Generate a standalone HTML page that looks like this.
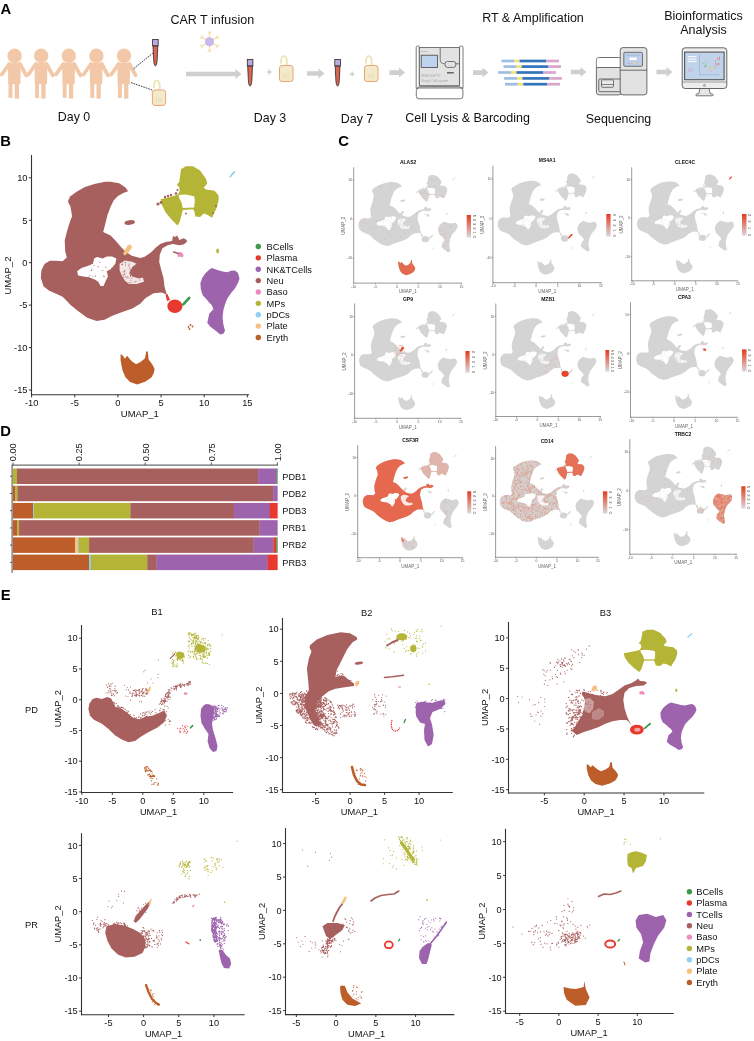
<!DOCTYPE html>
<html><head><meta charset="utf-8"><style>
html,body{margin:0;padding:0;background:#fff;}
body{width:754px;height:1041px;overflow:hidden;}
svg{display:block;font-family:"Liberation Sans", sans-serif;will-change:transform;}
</style></head><body>
<svg width="754" height="1041" viewBox="0 0 754 1041">
<rect width="754" height="1041" fill="#fff"/>
<text x="0.6" y="14" font-size="14.8" text-anchor="start" font-weight="bold" fill="#000" >A</text>
<circle cx="14.6" cy="55.8" r="7.2" fill="#F2C8A8"/>
<path d="M8 62.8 H20.8 L20.4 84.3 H8.2 Z" fill="#F2C8A8"/>
<rect x="8.5" y="83" width="3.9" height="14.9" fill="#F2C8A8"/>
<rect x="14.7" y="83" width="4.3" height="15.6" fill="#F2C8A8"/>
<path d="M9.2 64 L1.8 74.5" stroke="#F2C8A8" stroke-width="3.8" stroke-linecap="round"/>
<path d="M20 64 L26.2 75.3" stroke="#F2C8A8" stroke-width="3.8" stroke-linecap="round"/>
<circle cx="41.2" cy="55.8" r="7.2" fill="#F2C8A8"/>
<path d="M34.6 62.8 H47.4 L47 84.3 H34.8 Z" fill="#F2C8A8"/>
<rect x="35.1" y="83" width="3.9" height="14.9" fill="#F2C8A8"/>
<rect x="41.3" y="83" width="4.3" height="15.6" fill="#F2C8A8"/>
<path d="M35.8 64 L28.4 74.5" stroke="#F2C8A8" stroke-width="3.8" stroke-linecap="round"/>
<path d="M46.6 64 L52.8 75.3" stroke="#F2C8A8" stroke-width="3.8" stroke-linecap="round"/>
<circle cx="68.8" cy="55.8" r="7.2" fill="#F2C8A8"/>
<path d="M62.2 62.8 H75 L74.6 84.3 H62.4 Z" fill="#F2C8A8"/>
<rect x="62.7" y="83" width="3.9" height="14.9" fill="#F2C8A8"/>
<rect x="68.9" y="83" width="4.3" height="15.6" fill="#F2C8A8"/>
<path d="M63.4 64 L56 74.5" stroke="#F2C8A8" stroke-width="3.8" stroke-linecap="round"/>
<path d="M74.2 64 L80.4 75.3" stroke="#F2C8A8" stroke-width="3.8" stroke-linecap="round"/>
<circle cx="96.4" cy="55.8" r="7.2" fill="#F2C8A8"/>
<path d="M89.8 62.8 H102.6 L102.2 84.3 H90 Z" fill="#F2C8A8"/>
<rect x="90.3" y="83" width="3.9" height="14.9" fill="#F2C8A8"/>
<rect x="96.5" y="83" width="4.3" height="15.6" fill="#F2C8A8"/>
<path d="M91 64 L83.6 74.5" stroke="#F2C8A8" stroke-width="3.8" stroke-linecap="round"/>
<path d="M101.8 64 L108 75.3" stroke="#F2C8A8" stroke-width="3.8" stroke-linecap="round"/>
<circle cx="124" cy="55.8" r="7.2" fill="#F2C8A8"/>
<path d="M117.4 62.8 H130.2 L129.8 84.3 H117.6 Z" fill="#F2C8A8"/>
<rect x="117.9" y="83" width="3.9" height="14.9" fill="#F2C8A8"/>
<rect x="124.1" y="83" width="4.3" height="15.6" fill="#F2C8A8"/>
<path d="M118.6 64 L111.2 74.5" stroke="#F2C8A8" stroke-width="3.8" stroke-linecap="round"/>
<path d="M129.4 64 L135.6 75.3" stroke="#F2C8A8" stroke-width="3.8" stroke-linecap="round"/>
<line x1="133.5" y1="68.8" x2="152.8" y2="53.2" stroke="#222" stroke-width="0.85" stroke-dasharray="1.7 0.9"/>
<line x1="131" y1="82.6" x2="152.2" y2="90" stroke="#222" stroke-width="0.85" stroke-dasharray="1.7 0.9"/>
<rect x="152.6" y="39.4" width="5.6" height="6.5" fill="#BCA8E0" stroke="#2a2a2a" stroke-width="0.8"/>
<path d="M153 46 L157.8 46 L157.2 59.4 Q156.8 65.9 155.4 65.9 Q154 65.9 153.6 59.4 Z" fill="#DA6552" stroke="#222" stroke-width="0.75"/>
<path d="M153.9 88 C152.9 78 160.9 78 159.6 89 C159.4 91 159.4 91 158.9 91" fill="none" stroke="#EEE6B5" stroke-width="2"/>
<rect x="152.4" y="90" width="13.2" height="15.4" rx="2.6" fill="#F2EBCB" stroke="#EDA274" stroke-width="1"/>
<line x1="156" y1="97.4" x2="156.7" y2="102.4" stroke="#E8D3A8" stroke-width="0.7"/>
<line x1="158.3" y1="97.4" x2="159" y2="102.4" stroke="#E8D3A8" stroke-width="0.7"/>
<line x1="160.6" y1="97.4" x2="161.3" y2="102.4" stroke="#E8D3A8" stroke-width="0.7"/>
<text x="74" y="121" font-size="12.4" text-anchor="middle" font-weight="normal" fill="#111" >Day 0</text>
<text x="212.3" y="24.3" font-size="12.5" text-anchor="middle" font-weight="normal" fill="#111" >CAR T infusion</text>
<path d="M209.5 37.5 L209.5 33.9 M209.5 33.9 L208.12 31.7 M209.5 33.9 L210.88 31.7" stroke="#F5DC9C" stroke-width="1.1" fill="none" stroke-linecap="round"/>
<path d="M213.14 39.6 L216.25 37.8 M216.25 37.8 L217.48 35.5 M216.25 37.8 L218.85 37.89" stroke="#F5DC9C" stroke-width="1.1" fill="none" stroke-linecap="round"/>
<path d="M213.14 43.8 L216.25 45.6 M216.25 45.6 L218.85 45.51 M216.25 45.6 L217.48 47.9" stroke="#F5DC9C" stroke-width="1.1" fill="none" stroke-linecap="round"/>
<path d="M209.5 45.9 L209.5 49.5 M209.5 49.5 L210.88 51.7 M209.5 49.5 L208.12 51.7" stroke="#F5DC9C" stroke-width="1.1" fill="none" stroke-linecap="round"/>
<path d="M205.86 43.8 L202.75 45.6 M202.75 45.6 L201.52 47.9 M202.75 45.6 L200.15 45.51" stroke="#F5DC9C" stroke-width="1.1" fill="none" stroke-linecap="round"/>
<path d="M205.86 39.6 L202.75 37.8 M202.75 37.8 L200.15 37.89 M202.75 37.8 L201.52 35.5" stroke="#F5DC9C" stroke-width="1.1" fill="none" stroke-linecap="round"/>
<circle cx="209.5" cy="41.7" r="4.5" fill="#C6B8EA"/>
<path d="M186 71.7 L235.5 71.7 L235.5 69 L241.5 74 L235.5 79 L235.5 76.3 L186 76.3 Z" fill="#CFCFCF"/>
<rect x="247.3" y="59.5" width="5.6" height="6.5" fill="#BCA8E0" stroke="#2a2a2a" stroke-width="0.8"/>
<path d="M247.7 66.1 L252.5 66.1 L251.9 79.5 Q251.5 86 250.1 86 Q248.7 86 248.3 79.5 Z" fill="#DA6552" stroke="#222" stroke-width="0.75"/>
<path d="M266.8 72 h5 M269.3 69.5 v5" stroke="#CFCFCF" stroke-width="1.4"/>
<path d="M281 63.5 C280 53.5 288 53.5 286.7 64.5 C286.5 66.5 286.5 66.5 286 66.5" fill="none" stroke="#EEE6B5" stroke-width="2"/>
<rect x="279.5" y="65.5" width="13.5" height="16" rx="2.6" fill="#F2EBCB" stroke="#EDA274" stroke-width="1"/>
<line x1="283.1" y1="73.5" x2="283.8" y2="78.5" stroke="#E8D3A8" stroke-width="0.7"/>
<line x1="285.4" y1="73.5" x2="286.1" y2="78.5" stroke="#E8D3A8" stroke-width="0.7"/>
<line x1="287.7" y1="73.5" x2="288.4" y2="78.5" stroke="#E8D3A8" stroke-width="0.7"/>
<path d="M307 71.2 L318.5 71.2 L318.5 68.5 L324.5 73.5 L318.5 78.5 L318.5 75.8 L307 75.8 Z" fill="#CFCFCF"/>
<rect x="334.8" y="59.5" width="5.6" height="6.5" fill="#BCA8E0" stroke="#2a2a2a" stroke-width="0.8"/>
<path d="M335.2 66.1 L340 66.1 L339.4 79.5 Q339 86 337.6 86 Q336.2 86 335.8 79.5 Z" fill="#DA6552" stroke="#222" stroke-width="0.75"/>
<path d="M349.7 74 h5 M352.2 71.5 v5" stroke="#CFCFCF" stroke-width="1.4"/>
<path d="M366 63.5 C365 53.5 373 53.5 371.7 64.5 C371.5 66.5 371.5 66.5 371 66.5" fill="none" stroke="#EEE6B5" stroke-width="2"/>
<rect x="364.5" y="65.5" width="13.5" height="16" rx="2.6" fill="#F2EBCB" stroke="#EDA274" stroke-width="1"/>
<line x1="368.1" y1="73.5" x2="368.8" y2="78.5" stroke="#E8D3A8" stroke-width="0.7"/>
<line x1="370.4" y1="73.5" x2="371.1" y2="78.5" stroke="#E8D3A8" stroke-width="0.7"/>
<line x1="372.7" y1="73.5" x2="373.4" y2="78.5" stroke="#E8D3A8" stroke-width="0.7"/>
<path d="M389.5 70.3 L399 70.3 L399 67.6 L405 72.6 L399 77.6 L399 74.9 L389.5 74.9 Z" fill="#CFCFCF"/>
<text x="270" y="122" font-size="12.4" text-anchor="middle" font-weight="normal" fill="#111" >Day 3</text>
<text x="357" y="122.5" font-size="12.4" text-anchor="middle" font-weight="normal" fill="#111" >Day 7</text>
<path d="M416.2 88.5 V47.5 Q416.2 46 417.7 46 H418.6 Q419.3 46 419.3 47.5 V84 Q419.3 85.8 421 85.8 H458 Q459.6 85.8 459.6 84 V47.5 Q459.6 46 460.6 46 H461.6 Q463 46 463 47.5 V88.5" fill="#fff" stroke="#555" stroke-width="0.8"/>
<rect x="416.3" y="88" width="46.6" height="10.8" rx="2.6" fill="#fff" stroke="#555" stroke-width="0.8"/>
<path d="M416.3 88.5 Q418 86.8 421 86.8 H458 Q461.5 86.8 463 88.5" fill="none" stroke="#555" stroke-width="0.8"/>
<rect x="419.3" y="47.6" width="40.3" height="38.2" fill="#E2E2E2" stroke="#555" stroke-width="0.8"/>
<rect x="421.2" y="55.2" width="16.2" height="12.2" fill="#BDD3EE" stroke="#444" stroke-width="0.8"/>
<path d="M440.2 47.6 V59.5 Q440.2 63.8 444.6 63.8 M455.8 63.8 H459.6" fill="none" stroke="#555" stroke-width="0.8"/>
<rect x="445" y="61.5" width="10.8" height="5.9" rx="2.4" fill="#E2E2E2" stroke="#555" stroke-width="0.8"/>
<line x1="447" y1="72.8" x2="453.8" y2="72.8" stroke="#444" stroke-width="1.2"/>
<text x="421.2" y="52.2" font-size="2.2" text-anchor="start" font-weight="normal" fill="#777" >Frelico</text>
<text x="421.2" y="77" font-size="3.2" text-anchor="start" font-weight="normal" fill="#aaa" >SEEKSOFT&#174;</text>
<text x="421.2" y="82" font-size="3.3" text-anchor="start" font-weight="normal" fill="#aaa" >Single Cell system</text>
<path d="M473 70.3 L482.5 70.3 L482.5 67.6 L488.5 72.6 L482.5 77.6 L482.5 74.9 L473 74.9 Z" fill="#CFCFCF"/>
<rect x="501.5" y="59.65" width="12.6" height="2.7" fill="#9DBDE2"/>
<rect x="514" y="59.65" width="5.7" height="2.7" fill="#F3E27A"/>
<rect x="519.6" y="59.65" width="26.6" height="2.7" fill="#3474BA"/>
<rect x="546.1" y="59.65" width="12.9" height="2.7" fill="#D9A6CB"/>
<rect x="503.5" y="65.25" width="12.8" height="2.7" fill="#9DBDE2"/>
<rect x="516.2" y="65.25" width="5.6" height="2.7" fill="#F3E27A"/>
<rect x="521.7" y="65.25" width="26.5" height="2.7" fill="#3474BA"/>
<rect x="548.1" y="65.25" width="12.9" height="2.7" fill="#D9A6CB"/>
<rect x="498.2" y="71.15" width="12.9" height="2.7" fill="#9DBDE2"/>
<rect x="511" y="71.15" width="5.6" height="2.7" fill="#F3E27A"/>
<rect x="516.5" y="71.15" width="26.6" height="2.7" fill="#3474BA"/>
<rect x="543" y="71.15" width="12.9" height="2.7" fill="#D9A6CB"/>
<rect x="504.1" y="77.05" width="13" height="2.7" fill="#9DBDE2"/>
<rect x="517" y="77.05" width="5.5" height="2.7" fill="#F3E27A"/>
<rect x="522.4" y="77.05" width="26.6" height="2.7" fill="#3474BA"/>
<rect x="548.9" y="77.05" width="12.9" height="2.7" fill="#D9A6CB"/>
<rect x="505" y="82.85" width="12.8" height="2.7" fill="#9DBDE2"/>
<rect x="517.7" y="82.85" width="5.7" height="2.7" fill="#F3E27A"/>
<rect x="523.3" y="82.85" width="24" height="2.7" fill="#3474BA"/>
<rect x="547.2" y="82.85" width="12.9" height="2.7" fill="#D9A6CB"/>
<text x="533" y="22" font-size="12.5" text-anchor="middle" font-weight="normal" fill="#111" >RT &amp; Amplification</text>
<text x="467.6" y="121.7" font-size="12.5" text-anchor="middle" font-weight="normal" fill="#111" >Cell Lysis &amp; Barcoding</text>
<path d="M570.8 69.7 L580.5 69.7 L580.5 67 L586.5 72 L580.5 77 L580.5 74.3 L570.8 74.3 Z" fill="#CFCFCF"/>
<rect x="596.4" y="57.5" width="25" height="37.4" rx="2.8" fill="#E2E2E2" stroke="#555" stroke-width="0.85"/>
<path d="M596.8 67.5 V60.3 Q596.8 57.9 599.2 57.9 H621 V67.5 Z" fill="#fff"/>
<line x1="596.4" y1="67.5" x2="621" y2="67.5" stroke="#555" stroke-width="0.85"/>
<rect x="598.8" y="79" width="22.6" height="12.7" rx="1.2" fill="#E2E2E2" stroke="#555" stroke-width="0.85"/>
<rect x="601.5" y="79.8" width="12" height="7.5" rx="1" fill="#E8E8E8" stroke="#555" stroke-width="0.8"/>
<line x1="601.5" y1="84.5" x2="613.5" y2="84.5" stroke="#555" stroke-width="0.7"/>
<rect x="620.2" y="47.6" width="26.7" height="47.3" rx="2.8" fill="#E2E2E2" stroke="#555" stroke-width="0.85"/>
<line x1="620.2" y1="70.2" x2="646.9" y2="70.2" stroke="#555" stroke-width="0.85"/>
<rect x="623.8" y="52.3" width="18.7" height="14" rx="1.2" fill="#BCCFE8" stroke="#555" stroke-width="0.8"/>
<rect x="629.5" y="57.5" width="7.2" height="2.6" fill="#fff"/>
<line x1="626.5" y1="55.2" x2="640" y2="55.2" stroke="#8FA2C0" stroke-width="0.5"/>
<circle cx="628.8" cy="63.2" r="0.75" fill="#C8A0C8"/>
<circle cx="631.7" cy="63.2" r="0.75" fill="#E0A0B8"/>
<circle cx="634.6" cy="63.2" r="0.75" fill="#F2E08A"/>
<circle cx="637.5" cy="63.2" r="0.75" fill="#F2B870"/>
<text x="618.5" y="123" font-size="12.4" text-anchor="middle" font-weight="normal" fill="#111" >Sequencing</text>
<path d="M656.5 69.7 L666.5 69.7 L666.5 67 L672.5 72 L666.5 77 L666.5 74.3 L656.5 74.3 Z" fill="#CFCFCF"/>
<path d="M700 88.3 L698.8 93.6 L696.6 94 Q695.6 94.3 695.8 95.2 Q696 95.8 697 95.8 H712 Q713 95.8 713.2 95.2 Q713.3 94.3 712.4 94 L710.2 93.6 L709 88.3 Z" fill="#E6E6E6" stroke="#555" stroke-width="0.8"/>
<rect x="682.2" y="47.8" width="44.6" height="40.7" rx="3" fill="#EDEDED" stroke="#555" stroke-width="0.9"/>
<line x1="682.2" y1="82" x2="726.8" y2="82" stroke="#666" stroke-width="0.6"/>
<rect x="684.6" y="52.1" width="39.5" height="27.6" fill="#BFD3EA" stroke="#555" stroke-width="1.1"/>
<circle cx="704.5" cy="85.4" r="0.95" fill="none" stroke="#555" stroke-width="0.6"/>
<rect x="687.9" y="56.2" width="8.5" height="1" fill="#FFF"/>
<rect x="687.9" y="58.6" width="8.5" height="1" fill="#FFF"/>
<rect x="687.9" y="61" width="8.5" height="1" fill="#FFF"/>
<rect x="687.9" y="68.6" width="4.6" height="0.8" fill="#D2A8C8"/>
<rect x="687.9" y="70.7" width="4.6" height="0.8" fill="#D2A8C8"/>
<path d="M699.5 54.7 V74.7 H719.1" fill="none" stroke="#9AAAC4" stroke-width="0.6"/>
<circle cx="705.33" cy="65.49" r="0.55" fill="#A8D060"/>
<circle cx="706.58" cy="65.48" r="0.55" fill="#A8D060"/>
<circle cx="703.01" cy="63.45" r="0.55" fill="#7CC47C"/>
<circle cx="705.43" cy="66.67" r="0.55" fill="#7CC47C"/>
<circle cx="704.35" cy="66.43" r="0.55" fill="#5BB8D8"/>
<circle cx="705.02" cy="64.25" r="0.55" fill="#7CC47C"/>
<circle cx="705.75" cy="63.02" r="0.55" fill="#7CC47C"/>
<circle cx="706.47" cy="65.67" r="0.55" fill="#7CC47C"/>
<circle cx="705.87" cy="60.53" r="0.55" fill="#A8D060"/>
<circle cx="717.4" cy="58.32" r="0.55" fill="#E25858"/>
<circle cx="719.35" cy="57.06" r="0.55" fill="#E25858"/>
<circle cx="719.28" cy="58.72" r="0.55" fill="#E25858"/>
<circle cx="715.59" cy="67" r="0.55" fill="#E88060"/>
<circle cx="718.82" cy="63.51" r="0.55" fill="#E25858"/>
<circle cx="719.18" cy="64.18" r="0.55" fill="#E8709A"/>
<circle cx="715.64" cy="60.76" r="0.55" fill="#E25858"/>
<circle cx="719.15" cy="59.74" r="0.55" fill="#E8709A"/>
<circle cx="715.66" cy="63.27" r="0.55" fill="#E25858"/>
<circle cx="717.28" cy="64.36" r="0.55" fill="#E25858"/>
<circle cx="715.7" cy="65.51" r="0.55" fill="#E8709A"/>
<circle cx="717.83" cy="58.92" r="0.55" fill="#E8709A"/>
<circle cx="713.37" cy="66.91" r="0.55" fill="#F2C060"/>
<circle cx="714.89" cy="68.53" r="0.55" fill="#F0A070"/>
<circle cx="709.11" cy="70.85" r="0.55" fill="#F0A070"/>
<circle cx="711.33" cy="71.14" r="0.55" fill="#F0A070"/>
<circle cx="709.29" cy="67.58" r="0.55" fill="#F2C060"/>
<circle cx="709.74" cy="67.93" r="0.55" fill="#F0A070"/>
<circle cx="711.14" cy="68.52" r="0.55" fill="#F5D050"/>
<circle cx="710.56" cy="69.1" r="0.55" fill="#F5D050"/>
<text x="703.5" y="19.8" font-size="12.5" text-anchor="middle" font-weight="normal" fill="#111" >Bioinformatics</text>
<text x="703.5" y="34.2" font-size="12.5" text-anchor="middle" font-weight="normal" fill="#111" >Analysis</text>
<text x="0.2" y="146.2" font-size="14.8" text-anchor="start" font-weight="bold" fill="#000" >B</text>
<path d="M70 196.6 L77.4 191.3 L84.9 187.1 L94.4 183.9 L105 181.8 L110.6 181.8 L119.1 183.3 L125.5 187.6 L128.1 191.3 L123.3 192.9 L118 196.1 L113.8 200.3 L110.6 206.7 L107.4 215.2 L105.3 223.7 L103.2 232.1 L110.6 235.6 L115.9 240.9 L121.2 247.3 L126 252 L131.8 255.8 L140.3 257.9 L144.6 256.8 L150.9 252.6 L156.2 247.3 L160.3 244.1 L165.6 242 L172 241 L173 236 L175 237 L177 235.5 L178.5 238 L179.4 239.9 L183.6 238.3 L186.8 239.9 L186.8 242 L183.6 244.6 L179.4 245.2 L173 244.1 L167.7 245.2 L162.4 248.3 L159.8 254.7 L159.2 262.1 L161.4 270.6 L163.5 278 L164.5 286.5 L166.7 294 L165.5 293.9 L161.5 292.5 L153.6 293.2 L145.6 297.9 L140.3 303.8 L132.3 308.5 L123 311.8 L112.4 315.8 L104.5 319.7 L96.5 321.1 L87.2 317.7 L78 311.1 L70 304.5 L67.9 302.1 L62.6 296.8 L56.2 293.7 L48.8 290.5 L43.5 286.2 L40.8 277.7 L41.4 270.3 L44.5 264 L49.9 260.8 L56.2 260.8 L62.6 261.3 L66.8 257.6 L65.2 251.2 L64.7 240.6 L66.8 232.1 L70 221.5 L72.1 216.2 L70.5 206.7 L67.9 201.4Z M77.1 271.2 L81.4 268 L87.7 265.9 L93 263.8 L94.1 258.5 L97.3 256.9 L102.6 258.5 L106.8 256.4 L112.1 256.4 L116.4 258.5 L115.3 263.8 L111.1 269.1 L106.8 271.2 L107.9 276.5 L105.8 280.8 L103.6 286.1 L100.5 286.1 L98.3 281.8 L95.2 279.7 L89.9 277.6 L83.5 276.5 L78.2 275.5Z" fill="#A8605E" fill-rule="evenodd"/>
<path d="M119.6 263.8 L124.9 260.6 L132.3 261.7 L136.5 263.8 L132.3 267 L129.1 273.3 L132.3 276.5 L138.7 278.6 L142.9 277.6 L144 281.8 L136.5 284 L129.1 284 L124.9 280.8 L121.7 275.5 L119.6 270.2Z" fill="#fff" fill-opacity="0.85"/>
<path d="M99.94 262.18h0M95.46 276.11h0M88.44 276.96h0M91.5 270.41h0M89.91 275.33h0M94.01 265.44h0M103.83 276.14h0M111.78 268.12h0M92.01 268.96h0M93 276.27h0M98.13 266.66h0M105.72 267.17h0M102.74 270.51h0M104.26 276.7h0" stroke="#A8605E" stroke-width="1.1" stroke-linecap="round"/>
<path d="M123.22 275.01h0M123.74 277.27h0M128.8 265.91h0M125.02 273.01h0M123.15 275.13h0M125.61 262.75h0M127.72 276.69h0M132.04 278.09h0M130.12 269.92h0M124.66 274.38h0M135.92 281.4h0M131.07 282.77h0M130.51 275.24h0M129.13 277.99h0M134.25 282.01h0M129.32 282.54h0M125.82 276.62h0M130.53 276.11h0M124.99 270.31h0M123.09 271.83h0M125.21 262.49h0M129.1 264.11h0M122.5 264.12h0M129.79 268.04h0M125.53 265h0M126.85 277.99h0M124.52 271.49h0M139.28 280.02h0M130.88 280.32h0M121.87 264.58h0" stroke="#A8605E" stroke-width="1.1" stroke-linecap="round"/>
<ellipse cx="129.7" cy="222.5" rx="5.3" ry="2.3" fill="#A8605E" transform="rotate(-8 129.7 222.5)"/>
<path d="M181 169.3 L185.8 166.3 L193 166.3 L200.1 170.5 L206.1 178.9 L207.3 183.6 L203.7 187.8 L206.1 189.6 L214.5 190.8 L218.6 195.6 L218.6 200.4 L216.8 207.5 L213.3 214.7 L212.1 217.7 L207.3 214.7 L203.7 213.5 L200.1 217.1 L195.4 216.5 L194.2 211.1 L193 209.3 L182.8 209.9 L181.6 214.7 L179.8 221.8 L177.5 225.4 L171.5 219.5 L165.5 212.3 L161.9 205.1 L160.7 199.2 L167.9 197.4 L175.1 195.6 L178 194.4 L179.8 190.8 L179.2 187.2 L176.9 184.8 L179.2 181.9 L180.4 174.1Z M178.6 195 L185.8 194.4 L194.2 196.2 L194.8 200.4 L194.2 207.5 L182.8 208.1 L181.6 202.7 L179.2 198Z" fill="#B4B436" fill-rule="evenodd"/>
<path d="M211.9 268.1 L217.3 270 L222.6 271.5 L227.3 272.3 L231.1 270.8 L234.9 270.4 L238 273.1 L239.5 278.4 L238 283 L234.9 288.4 L231.1 293 L227.3 298.4 L225 304.5 L223.4 309.9 L222.6 317.6 L223.4 324.5 L225 330.7 L223.4 333.7 L220.3 334.5 L215.7 330.7 L210.4 326.8 L207.3 323 L209.2 313.8 L213.4 309.2 L211.9 305.3 L209.6 303 L206.5 299.2 L202.7 295.3 L200.8 289.2 L200.4 283 L202.3 277.7 L205 273.8 L208.8 270Z" fill="#9D63AD" />
<path d="M120.6 354 L123 355.8 L124.8 358.8 L127.1 355.8 L130.1 359.4 L132.5 361.8 L136.1 364.2 L140.9 361.8 L145 358.2 L146.2 351.6 L147.8 351.6 L148.6 359.4 L152.2 364.2 L154.6 368.9 L154 372.5 L151.6 377.3 L145.6 381.5 L137.3 384.5 L130.1 382.1 L125.4 377.3 L122.4 370.1 L120.6 360.6Z" fill="#BD5D2A" />
<path d="M123 254 L125.5 249 L128 245 L131 244.5 L132 247.5 L129 252 L125 255.5Z" fill="#F6C282" />
<path d="M177.5 253 L180 252 L182 252.5 L183.6 255.5 L182.5 257.4 L180 256.5 L178 257.2Z" fill="#EE8BC0" />
<ellipse cx="174.9" cy="306.2" rx="7.5" ry="6.8" fill="#E8392E"/>
<path d="M165.5 294.5 L167.5 294 L170 300 L167 301Z" fill="#E8392E" />
<line x1="183.3" y1="304.4" x2="189.2" y2="297.8" stroke="#3C9A4A" stroke-width="2.6" stroke-linecap="round"/>
<line x1="230.3" y1="176.5" x2="234.3" y2="172" stroke="#8DD0F2" stroke-width="1.8" stroke-linecap="round"/>
<line x1="173.6" y1="252" x2="178.3" y2="253.6" stroke="#A8605E" stroke-width="1.6" stroke-linecap="round"/>
<ellipse cx="217.6" cy="251" rx="1.4" ry="2.4" fill="#B4B436"/>
<circle cx="158" cy="204" r="1.6" fill="#A8605E"/>
<circle cx="161" cy="202.5" r="1.4" fill="#A8605E"/>
<circle cx="165" cy="197" r="1.2" fill="#A8605E"/>
<circle cx="168" cy="196" r="1.2" fill="#A8605E"/>
<circle cx="171" cy="195" r="1.2" fill="#A8605E"/>
<circle cx="176" cy="193.5" r="1.3" fill="#A8605E"/>
<circle cx="177.5" cy="190" r="1.1" fill="#A8605E"/>
<circle cx="213" cy="213" r="1" fill="#A8605E"/>
<circle cx="216" cy="206" r="1" fill="#A8605E"/>
<circle cx="186" cy="213.5" r="0.9" fill="#A8605E"/>
<circle cx="188.5" cy="327" r="0.9" fill="#BD5D2A"/>
<circle cx="190.5" cy="325" r="0.9" fill="#BD5D2A"/>
<circle cx="192.5" cy="326.5" r="0.9" fill="#BD5D2A"/>
<circle cx="189.5" cy="329" r="0.9" fill="#BD5D2A"/>
<line x1="31.5" y1="155" x2="31.5" y2="395.35" stroke="#333" stroke-width="1.1" />
<line x1="30.95" y1="394.8" x2="249" y2="394.8" stroke="#333" stroke-width="1.1" />
<line x1="28.9" y1="177.8" x2="31.5" y2="177.8" stroke="#333" stroke-width="0.9900000000000001" />
<text x="27.5" y="181.05" font-size="9.3" text-anchor="end" font-weight="normal" fill="#111" >10</text>
<line x1="28.9" y1="220.25" x2="31.5" y2="220.25" stroke="#333" stroke-width="0.9900000000000001" />
<text x="27.5" y="223.5" font-size="9.3" text-anchor="end" font-weight="normal" fill="#111" >5</text>
<line x1="28.9" y1="262.7" x2="31.5" y2="262.7" stroke="#333" stroke-width="0.9900000000000001" />
<text x="27.5" y="265.95" font-size="9.3" text-anchor="end" font-weight="normal" fill="#111" >0</text>
<line x1="28.9" y1="305.15" x2="31.5" y2="305.15" stroke="#333" stroke-width="0.9900000000000001" />
<text x="27.5" y="308.4" font-size="9.3" text-anchor="end" font-weight="normal" fill="#111" >-5</text>
<line x1="28.9" y1="347.6" x2="31.5" y2="347.6" stroke="#333" stroke-width="0.9900000000000001" />
<text x="27.5" y="350.86" font-size="9.3" text-anchor="end" font-weight="normal" fill="#111" >-10</text>
<line x1="28.9" y1="390.05" x2="31.5" y2="390.05" stroke="#333" stroke-width="0.9900000000000001" />
<text x="27.5" y="393.31" font-size="9.3" text-anchor="end" font-weight="normal" fill="#111" >-15</text>
<line x1="31.6" y1="394.8" x2="31.6" y2="397.4" stroke="#333" stroke-width="0.9900000000000001" />
<text x="31.6" y="406.24" font-size="9.3" text-anchor="middle" font-weight="normal" fill="#111" >-10</text>
<line x1="74.75" y1="394.8" x2="74.75" y2="397.4" stroke="#333" stroke-width="0.9900000000000001" />
<text x="74.75" y="406.24" font-size="9.3" text-anchor="middle" font-weight="normal" fill="#111" >-5</text>
<line x1="117.9" y1="394.8" x2="117.9" y2="397.4" stroke="#333" stroke-width="0.9900000000000001" />
<text x="117.9" y="406.24" font-size="9.3" text-anchor="middle" font-weight="normal" fill="#111" >0</text>
<line x1="161.05" y1="394.8" x2="161.05" y2="397.4" stroke="#333" stroke-width="0.9900000000000001" />
<text x="161.05" y="406.24" font-size="9.3" text-anchor="middle" font-weight="normal" fill="#111" >5</text>
<line x1="204.2" y1="394.8" x2="204.2" y2="397.4" stroke="#333" stroke-width="0.9900000000000001" />
<text x="204.2" y="406.24" font-size="9.3" text-anchor="middle" font-weight="normal" fill="#111" >10</text>
<line x1="247.35" y1="394.8" x2="247.35" y2="397.4" stroke="#333" stroke-width="0.9900000000000001" />
<text x="247.35" y="406.24" font-size="9.3" text-anchor="middle" font-weight="normal" fill="#111" >15</text>
<text x="139.8" y="416.5" font-size="9.5" text-anchor="middle" font-weight="normal" fill="#111" >UMAP_1</text>
<text x="0" y="0" font-size="9.5" text-anchor="middle" font-weight="normal" fill="#111" transform="translate(11.0 275.6) rotate(-90)">UMAP_2</text>
<circle cx="258.3" cy="246.5" r="2.7" fill="#3C9A4A"/>
<text x="266.5" y="249.8" font-size="9.3" text-anchor="start" font-weight="normal" fill="#111" >BCells</text>
<circle cx="258.3" cy="257.87" r="2.7" fill="#E8392E"/>
<text x="266.5" y="261.17" font-size="9.3" text-anchor="start" font-weight="normal" fill="#111" >Plasma</text>
<circle cx="258.3" cy="269.24" r="2.7" fill="#9D63AD"/>
<text x="266.5" y="272.54" font-size="9.3" text-anchor="start" font-weight="normal" fill="#111" >NK&amp;TCells</text>
<circle cx="258.3" cy="280.61" r="2.7" fill="#A8605E"/>
<text x="266.5" y="283.91" font-size="9.3" text-anchor="start" font-weight="normal" fill="#111" >Neu</text>
<circle cx="258.3" cy="291.98" r="2.7" fill="#EE8BC0"/>
<text x="266.5" y="295.28" font-size="9.3" text-anchor="start" font-weight="normal" fill="#111" >Baso</text>
<circle cx="258.3" cy="303.35" r="2.7" fill="#B4B436"/>
<text x="266.5" y="306.65" font-size="9.3" text-anchor="start" font-weight="normal" fill="#111" >MPs</text>
<circle cx="258.3" cy="314.72" r="2.7" fill="#8DD0F2"/>
<text x="266.5" y="318.02" font-size="9.3" text-anchor="start" font-weight="normal" fill="#111" >pDCs</text>
<circle cx="258.3" cy="326.09" r="2.7" fill="#F6C282"/>
<text x="266.5" y="329.39" font-size="9.3" text-anchor="start" font-weight="normal" fill="#111" >Plate</text>
<circle cx="258.3" cy="337.46" r="2.7" fill="#BD5D2A"/>
<text x="266.5" y="340.76" font-size="9.3" text-anchor="start" font-weight="normal" fill="#111" >Eryth</text>
<text x="338.3" y="146.4" font-size="14.8" text-anchor="start" font-weight="bold" fill="#000" >C</text>
<defs><linearGradient id="cb" x1="0" y1="1" x2="0" y2="0"><stop offset="0" stop-color="#D9D9D9"/><stop offset="1" stop-color="#E5391F"/></linearGradient></defs>
<path d="M372.98 188.84 L376.67 186.4 L380.42 184.47 L385.16 183 L390.46 182.04 L393.25 182.04 L397.5 182.73 L400.7 184.7 L401.99 186.4 L399.6 187.14 L396.95 188.61 L394.85 190.54 L393.25 193.48 L391.66 197.38 L390.61 201.28 L389.56 205.14 L393.25 206.75 L395.9 209.19 L398.55 212.13 L400.95 214.28 L403.84 216.03 L408.09 217 L410.23 216.49 L413.38 214.56 L416.03 212.13 L418.08 210.66 L420.72 209.69 L423.92 209.23 L424.42 206.93 L425.42 207.39 L426.42 206.71 L427.16 207.85 L427.61 208.73 L429.71 207.99 L431.31 208.73 L431.31 209.69 L429.71 210.89 L427.61 211.16 L424.42 210.66 L421.77 211.16 L419.12 212.59 L417.83 215.53 L417.53 218.92 L418.62 222.83 L419.67 226.23 L420.17 230.13 L421.27 233.58 L420.67 233.53 L418.67 232.89 L414.73 233.21 L410.73 235.37 L408.09 238.08 L404.09 240.24 L399.45 241.75 L394.15 243.59 L390.21 245.38 L386.21 246.03 L381.57 244.47 L376.97 241.43 L372.98 238.4 L371.93 237.3 L369.28 234.86 L366.09 233.44 L362.39 231.97 L359.74 230 L358.39 226.09 L358.69 222.69 L360.24 219.8 L362.94 218.33 L366.09 218.33 L369.28 218.56 L371.38 216.86 L370.58 213.92 L370.33 209.05 L371.38 205.14 L372.98 200.27 L374.03 197.84 L373.23 193.48 L371.93 191.04Z M376.52 223.1 L378.67 221.63 L381.82 220.67 L384.46 219.71 L385.01 217.27 L386.61 216.54 L389.26 217.27 L391.36 216.31 L394 216.31 L396.15 217.27 L395.6 219.71 L393.5 222.14 L391.36 223.1 L391.91 225.54 L390.86 227.51 L389.76 229.95 L388.21 229.95 L387.11 227.97 L385.56 227.01 L382.92 226.04 L379.72 225.54 L377.07 225.08Z" fill="#D4D4D4" fill-rule="evenodd"/>
<path d="M397.75 219.71 L400.4 218.24 L404.09 218.74 L406.19 219.71 L404.09 221.18 L402.49 224.07 L404.09 225.54 L407.29 226.5 L409.39 226.04 L409.93 227.97 L406.19 228.98 L402.49 228.98 L400.4 227.51 L398.8 225.08 L397.75 222.65Z" fill="#fff" fill-opacity="0.85"/>
<path d="M387.93 218.96h0M385.69 225.36h0M382.19 225.75h0M383.72 222.74h0M382.92 225h0M384.97 220.46h0M389.87 225.38h0M393.84 221.69h0M383.97 222.08h0M384.46 225.43h0M387.03 221.02h0M390.82 221.26h0M389.33 222.79h0M390.09 225.63h0" stroke="#D4D4D4" stroke-width="0.55" stroke-linecap="round"/>
<path d="M399.55 224.86h0M399.82 225.89h0M402.34 220.67h0M400.45 223.94h0M399.52 224.91h0M400.75 219.22h0M401.81 225.63h0M403.96 226.27h0M403 222.52h0M400.28 224.56h0M405.9 227.79h0M403.48 228.42h0M403.2 224.96h0M402.51 226.22h0M405.06 228.07h0M402.6 228.31h0M400.85 225.59h0M403.21 225.36h0M400.44 222.69h0M399.49 223.39h0M400.55 219.1h0M402.49 219.85h0M399.2 219.85h0M402.84 221.65h0M400.71 220.26h0M401.37 226.23h0M400.2 223.24h0M407.58 227.15h0M403.38 227.29h0M398.88 220.06h0" stroke="#D4D4D4" stroke-width="0.55" stroke-linecap="round"/>
<ellipse cx="402.79" cy="200.73" rx="2.65" ry="1.06" fill="#D4D4D4" transform="rotate(-8 402.79 200.73)"/>
<path d="M428.41 176.3 L430.81 174.92 L434.41 174.92 L437.95 176.85 L440.95 180.71 L441.55 182.86 L439.75 184.79 L440.95 185.62 L445.14 186.17 L447.19 188.38 L447.19 190.58 L446.29 193.84 L444.54 197.15 L443.95 198.53 L441.55 197.15 L439.75 196.6 L437.95 198.25 L435.61 197.98 L435.01 195.5 L434.41 194.67 L429.31 194.95 L428.71 197.15 L427.81 200.41 L426.67 202.07 L423.67 199.36 L420.67 196.05 L418.87 192.74 L418.28 190.03 L421.87 189.2 L425.47 188.38 L426.92 187.83 L427.81 186.17 L427.51 184.52 L426.37 183.42 L427.51 182.08 L428.11 178.5Z M427.21 188.1 L430.81 187.83 L435.01 188.65 L435.31 190.58 L435.01 193.84 L429.31 194.12 L428.71 191.64 L427.51 189.48Z" fill="#D4D4D4" fill-rule="evenodd"/>
<path d="M443.85 221.68 L446.54 222.55 L449.19 223.24 L451.54 223.61 L453.43 222.92 L455.33 222.74 L456.88 223.98 L457.63 226.41 L456.88 228.53 L455.33 231.01 L453.43 233.12 L451.54 235.6 L450.39 238.4 L449.59 240.88 L449.19 244.42 L449.59 247.59 L450.39 250.44 L449.59 251.81 L448.04 252.18 L445.74 250.44 L443.1 248.65 L441.55 246.9 L442.5 242.67 L444.59 240.56 L443.85 238.77 L442.7 237.71 L441.15 235.97 L439.25 234.18 L438.3 231.37 L438.1 228.53 L439.05 226.09 L440.4 224.3 L442.3 222.55Z" fill="#D4D4D4" />
<path d="M398.25 261.14 L399.45 261.97 L400.35 263.34 L401.49 261.97 L402.99 263.62 L404.19 264.72 L405.99 265.83 L408.39 264.72 L410.43 263.07 L411.03 260.04 L411.83 260.04 L412.23 263.62 L414.03 265.83 L415.23 267.98 L414.93 269.64 L413.73 271.84 L410.73 273.77 L406.59 275.15 L402.99 274.05 L400.65 271.84 L399.15 268.54 L398.25 264.17Z" fill="#D4D4D4" />
<path d="M399.45 215.2 L400.7 212.91 L401.94 211.07 L403.44 210.84 L403.94 212.22 L402.44 214.28 L400.45 215.89Z" fill="#D4D4D4" />
<path d="M426.67 214.74 L427.91 214.28 L428.91 214.51 L429.71 215.89 L429.16 216.77 L427.91 216.35 L426.92 216.67Z" fill="#D4D4D4" />
<ellipse cx="425.37" cy="239.18" rx="3.75" ry="3.12" fill="#D4D4D4"/>
<path d="M420.67 233.81 L421.67 233.58 L422.92 236.33 L421.42 236.79Z" fill="#D4D4D4" />
<line x1="429.56" y1="238.36" x2="432.51" y2="235.32" stroke="#D4D4D4" stroke-width="1.3" stroke-linecap="round"/>
<line x1="453.03" y1="179.6" x2="455.03" y2="177.54" stroke="#D4D4D4" stroke-width="0.9" stroke-linecap="round"/>
<line x1="424.72" y1="214.28" x2="427.07" y2="215.02" stroke="#D4D4D4" stroke-width="0.8" stroke-linecap="round"/>
<ellipse cx="446.69" cy="213.83" rx="0.7" ry="1.2" fill="#D4D4D4"/>
<circle cx="416.93" cy="192.24" r="0.8" fill="#D4D4D4"/>
<circle cx="418.43" cy="191.55" r="0.7" fill="#D4D4D4"/>
<circle cx="420.42" cy="189.02" r="0.6" fill="#D4D4D4"/>
<circle cx="421.92" cy="188.56" r="0.6" fill="#D4D4D4"/>
<circle cx="423.42" cy="188.1" r="0.6" fill="#D4D4D4"/>
<circle cx="425.92" cy="187.41" r="0.65" fill="#D4D4D4"/>
<circle cx="426.67" cy="185.8" r="0.55" fill="#D4D4D4"/>
<circle cx="444.39" cy="196.37" r="0.5" fill="#D4D4D4"/>
<circle cx="445.89" cy="193.15" r="0.5" fill="#D4D4D4"/>
<circle cx="430.91" cy="196.6" r="0.45" fill="#D4D4D4"/>
<circle cx="432.16" cy="248.74" r="0.45" fill="#D4D4D4"/>
<circle cx="433.16" cy="247.82" r="0.45" fill="#D4D4D4"/>
<circle cx="434.16" cy="248.51" r="0.45" fill="#D4D4D4"/>
<circle cx="432.66" cy="249.66" r="0.45" fill="#D4D4D4"/>
<path d="M398.25 261.14 L399.45 261.97 L400.35 263.34 L401.49 261.97 L402.99 263.62 L404.19 264.72 L405.99 265.83 L408.39 264.72 L410.43 263.07 L411.03 260.04 L411.83 260.04 L412.23 263.62 L414.03 265.83 L415.23 267.98 L414.93 269.64 L413.73 271.84 L410.73 273.77 L406.59 275.15 L402.99 274.05 L400.65 271.84 L399.15 268.54 L398.25 264.17Z" fill="#E36A4E" />
<path d="M391.38 217.86h0M395.42 219.62h0M371.86 214.79h0M404.32 232.78h0M406.08 221.43h0M396.92 185.85h0M390.52 235.94h0M396.25 223.01h0M394.84 224.43h0M419.66 227.33h0M381.38 196.73h0M379.47 186.53h0M363.72 222.32h0M372.3 228.87h0M367.94 223.23h0M373.92 199.3h0M380.57 238.66h0M373.76 207.27h0M373.94 198.56h0M380 186.73h0M364.97 219.33h0M376.11 220.51h0M385.5 211.04h0M400.29 237.49h0M376.59 194.18h0M389.13 188.68h0M375.78 227.12h0M377.13 234.75h0M371.19 228.13h0M399.18 236.58h0M390.89 185.91h0M384.8 239.05h0M408.8 219.44h0M359.94 222.75h0M393.56 228.78h0M412.14 227.07h0M384.05 225.88h0M388.81 232.62h0M400.88 221h0M364.24 222.95h0" stroke="#EFA28F" stroke-width="0.7" stroke-linecap="round"/>
<path d="M447.37 241.73h0M451.12 226.03h0M443.45 246.4h0M449 241.85h0M440.94 235.1h0M444.68 234.02h0M448.04 224.46h0M440.3 234.59h0M440.74 231.21h0M450.24 226.67h0M445.92 234.46h0M449.74 236.22h0M445.61 222.61h0M445.06 232.76h0M440.33 228.85h0M445.2 237.28h0M446.5 237.51h0M442.44 234.71h0M445.68 245.23h0M438.82 230.12h0M444.82 241.11h0M442.18 230.28h0M447.4 250.92h0M447.5 250.84h0M445.21 227.45h0" stroke="#EFA28F" stroke-width="0.7" stroke-linecap="round"/>
<path d="M425.76 193.52h0M438.06 197.98h0M433.64 180.72h0M442.5 191.43h0M441.69 196.8h0M442.17 195.14h0M425.7 197.99h0M434.59 186.58h0M428.81 186.59h0M441.98 196.59h0M422.17 193.29h0M431.1 179.71h0M424.13 189.11h0M435.78 185.66h0M420.39 192.6h0M436.75 179.25h0M443.9 196.72h0M424.15 198.09h0M429.11 194.37h0M435.73 194.54h0M424.4 191.67h0M435.07 190.97h0M428.67 194.67h0M428.15 182.93h0M423.03 193.49h0" stroke="#EFA28F" stroke-width="0.7" stroke-linecap="round"/>
<line x1="353.7" y1="167.3" x2="353.7" y2="283.38" stroke="#444" stroke-width="0.55" />
<line x1="353.43" y1="283.1" x2="461.9" y2="283.1" stroke="#444" stroke-width="0.55" />
<line x1="352.6" y1="180.2" x2="353.7" y2="180.2" stroke="#444" stroke-width="0.45" />
<text x="352.1" y="181.4" font-size="3.4" text-anchor="end" font-weight="normal" fill="#555" >10</text>
<line x1="352.6" y1="219.2" x2="353.7" y2="219.2" stroke="#444" stroke-width="0.45" />
<text x="352.1" y="220.4" font-size="3.4" text-anchor="end" font-weight="normal" fill="#555" >0</text>
<line x1="352.6" y1="258.2" x2="353.7" y2="258.2" stroke="#444" stroke-width="0.45" />
<text x="352.1" y="259.4" font-size="3.4" text-anchor="end" font-weight="normal" fill="#555" >-10</text>
<line x1="353.8" y1="283.1" x2="353.8" y2="284.2" stroke="#444" stroke-width="0.45" />
<text x="353.8" y="287.7" font-size="3.4" text-anchor="middle" font-weight="normal" fill="#555" >-10</text>
<line x1="375.35" y1="283.1" x2="375.35" y2="284.2" stroke="#444" stroke-width="0.45" />
<text x="375.35" y="287.7" font-size="3.4" text-anchor="middle" font-weight="normal" fill="#555" >-5</text>
<line x1="396.9" y1="283.1" x2="396.9" y2="284.2" stroke="#444" stroke-width="0.45" />
<text x="396.9" y="287.7" font-size="3.4" text-anchor="middle" font-weight="normal" fill="#555" >0</text>
<line x1="418.45" y1="283.1" x2="418.45" y2="284.2" stroke="#444" stroke-width="0.45" />
<text x="418.45" y="287.7" font-size="3.4" text-anchor="middle" font-weight="normal" fill="#555" >5</text>
<line x1="440" y1="283.1" x2="440" y2="284.2" stroke="#444" stroke-width="0.45" />
<text x="440" y="287.7" font-size="3.4" text-anchor="middle" font-weight="normal" fill="#555" >10</text>
<line x1="461.55" y1="283.1" x2="461.55" y2="284.2" stroke="#444" stroke-width="0.45" />
<text x="461.55" y="287.7" font-size="3.4" text-anchor="middle" font-weight="normal" fill="#555" >15</text>
<text x="407.8" y="293.3" font-size="4.5" text-anchor="middle" font-weight="normal" fill="#666" >UMAP_1</text>
<text x="0" y="0" font-size="4.5" text-anchor="middle" font-weight="normal" fill="#666" transform="translate(345.1 225.7) rotate(-90)">UMAP_2</text>
<text x="408.1" y="163.7" font-size="5.0" text-anchor="middle" font-weight="bold" fill="#111" >ALAS2</text>
<rect x="466.7" y="215" width="4.3" height="22.5" fill="url(#cb)"/>
<text x="0" y="0" font-size="4.0" text-anchor="middle" font-weight="normal" fill="#444" transform="translate(472.9 236.7) rotate(90)">0</text>
<text x="0" y="0" font-size="4.0" text-anchor="middle" font-weight="normal" fill="#444" transform="translate(472.9 232.52) rotate(90)">1</text>
<text x="0" y="0" font-size="4.0" text-anchor="middle" font-weight="normal" fill="#444" transform="translate(472.9 228.34) rotate(90)">2</text>
<text x="0" y="0" font-size="4.0" text-anchor="middle" font-weight="normal" fill="#444" transform="translate(472.9 224.16) rotate(90)">3</text>
<text x="0" y="0" font-size="4.0" text-anchor="middle" font-weight="normal" fill="#444" transform="translate(472.9 219.98) rotate(90)">4</text>
<text x="0" y="0" font-size="4.0" text-anchor="middle" font-weight="normal" fill="#444" transform="translate(472.9 215.8) rotate(90)">5</text>
<path d="M512.28 187.62 L515.97 185.17 L519.72 183.22 L524.46 181.73 L529.76 180.76 L532.55 180.76 L536.8 181.45 L540 183.45 L541.29 185.17 L538.9 185.91 L536.25 187.39 L534.15 189.34 L532.55 192.31 L530.96 196.26 L529.91 200.2 L528.86 204.1 L532.55 205.72 L535.2 208.18 L537.85 211.15 L540.25 213.33 L543.14 215.1 L547.39 216.07 L549.53 215.56 L552.68 213.61 L555.33 211.15 L557.38 209.67 L560.02 208.69 L563.22 208.23 L563.72 205.91 L564.72 206.37 L565.72 205.68 L566.46 206.84 L566.91 207.72 L569.01 206.98 L570.61 207.72 L570.61 208.69 L569.01 209.9 L566.91 210.18 L563.72 209.67 L561.07 210.18 L558.42 211.62 L557.13 214.59 L556.83 218.02 L557.92 221.97 L558.97 225.4 L559.47 229.34 L560.57 232.83 L559.97 232.78 L557.97 232.13 L554.03 232.45 L550.03 234.64 L547.39 237.37 L543.39 239.55 L538.75 241.09 L533.45 242.94 L529.51 244.75 L525.51 245.4 L520.87 243.82 L516.27 240.76 L512.28 237.7 L511.23 236.58 L508.58 234.12 L505.39 232.69 L501.69 231.2 L499.04 229.21 L497.69 225.26 L497.99 221.83 L499.54 218.9 L502.24 217.42 L505.39 217.42 L508.58 217.65 L510.68 215.93 L509.88 212.96 L509.63 208.04 L510.68 204.1 L512.28 199.18 L513.33 196.72 L512.53 192.31 L511.23 189.85Z M515.82 222.24 L517.97 220.76 L521.12 219.79 L523.76 218.81 L524.31 216.35 L525.91 215.61 L528.56 216.35 L530.66 215.38 L533.3 215.38 L535.45 216.35 L534.9 218.81 L532.8 221.27 L530.66 222.24 L531.21 224.7 L530.16 226.7 L529.06 229.16 L527.51 229.16 L526.41 227.16 L524.86 226.19 L522.22 225.21 L519.02 224.7 L516.37 224.24Z" fill="#D4D4D4" fill-rule="evenodd"/>
<path d="M537.05 218.81 L539.7 217.33 L543.39 217.84 L545.49 218.81 L543.39 220.3 L541.79 223.22 L543.39 224.7 L546.59 225.68 L548.69 225.21 L549.23 227.16 L545.49 228.18 L541.79 228.18 L539.7 226.7 L538.1 224.24 L537.05 221.78Z" fill="#fff" fill-opacity="0.85"/>
<path d="M527.23 218.06h0M524.99 224.52h0M521.49 224.92h0M523.02 221.88h0M522.22 224.16h0M524.27 219.57h0M529.17 224.54h0M533.14 220.82h0M523.27 221.21h0M523.76 224.6h0M526.33 220.14h0M530.12 220.38h0M528.63 221.93h0M529.39 224.8h0" stroke="#D4D4D4" stroke-width="0.55" stroke-linecap="round"/>
<path d="M538.85 224.01h0M539.12 225.06h0M541.64 219.79h0M539.75 223.09h0M538.82 224.07h0M540.05 218.32h0M541.11 224.79h0M543.26 225.44h0M542.3 221.65h0M539.58 223.72h0M545.2 226.98h0M542.78 227.62h0M542.5 224.12h0M541.81 225.39h0M544.36 227.26h0M541.9 227.51h0M540.15 224.76h0M542.51 224.52h0M539.74 221.83h0M538.79 222.53h0M539.85 218.2h0M541.79 218.96h0M538.5 218.96h0M542.14 220.78h0M540.01 219.37h0M540.67 225.4h0M539.5 222.38h0M546.88 226.34h0M542.68 226.48h0M538.18 219.17h0" stroke="#D4D4D4" stroke-width="0.55" stroke-linecap="round"/>
<ellipse cx="542.09" cy="199.64" rx="2.65" ry="1.07" fill="#D4D4D4" transform="rotate(-8 542.09 199.64)"/>
<path d="M567.71 174.96 L570.11 173.56 L573.71 173.56 L577.25 175.51 L580.25 179.41 L580.85 181.59 L579.05 183.54 L580.25 184.38 L584.44 184.93 L586.49 187.16 L586.49 189.39 L585.59 192.68 L583.84 196.02 L583.25 197.42 L580.85 196.02 L579.05 195.47 L577.25 197.14 L574.91 196.86 L574.31 194.35 L573.71 193.52 L568.61 193.8 L568.01 196.02 L567.11 199.32 L565.97 200.99 L562.97 198.25 L559.97 194.91 L558.17 191.57 L557.58 188.83 L561.17 188 L564.77 187.16 L566.22 186.6 L567.11 184.93 L566.81 183.26 L565.67 182.15 L566.81 180.8 L567.41 177.18Z M566.51 186.88 L570.11 186.6 L574.31 187.44 L574.61 189.39 L574.31 192.68 L568.61 192.96 L568.01 190.46 L566.81 188.27Z" fill="#D4D4D4" fill-rule="evenodd"/>
<path d="M583.15 220.81 L585.84 221.69 L588.49 222.38 L590.84 222.76 L592.73 222.06 L594.63 221.87 L596.18 223.13 L596.93 225.59 L596.18 227.72 L594.63 230.23 L592.73 232.36 L590.84 234.87 L589.69 237.7 L588.89 240.2 L588.49 243.78 L588.89 246.98 L589.69 249.86 L588.89 251.25 L587.34 251.62 L585.04 249.86 L582.4 248.05 L580.85 246.28 L581.8 242.01 L583.89 239.88 L583.15 238.07 L582 237 L580.45 235.24 L578.55 233.43 L577.6 230.6 L577.4 227.72 L578.35 225.26 L579.7 223.45 L581.6 221.69Z" fill="#D4D4D4" />
<path d="M537.55 260.67 L538.75 261.51 L539.65 262.9 L540.79 261.51 L542.29 263.18 L543.49 264.29 L545.29 265.4 L547.69 264.29 L549.73 262.62 L550.33 259.56 L551.13 259.56 L551.53 263.18 L553.33 265.4 L554.53 267.58 L554.23 269.26 L553.03 271.48 L550.03 273.43 L545.89 274.82 L542.29 273.71 L539.95 271.48 L538.45 268.14 L537.55 263.73Z" fill="#D4D4D4" />
<path d="M538.75 214.26 L540 211.94 L541.24 210.09 L542.74 209.85 L543.24 211.25 L541.74 213.33 L539.75 214.96Z" fill="#D4D4D4" />
<path d="M565.97 213.8 L567.21 213.33 L568.21 213.57 L569.01 214.96 L568.46 215.84 L567.21 215.42 L566.22 215.75Z" fill="#D4D4D4" />
<ellipse cx="564.67" cy="238.49" rx="3.75" ry="3.16" fill="#D4D4D4"/>
<path d="M559.97 233.06 L560.97 232.83 L562.22 235.61 L560.72 236.07Z" fill="#D4D4D4" />
<line x1="568.86" y1="237.65" x2="571.81" y2="234.59" stroke="#D4D4D4" stroke-width="1.3" stroke-linecap="round"/>
<line x1="592.33" y1="178.3" x2="594.33" y2="176.21" stroke="#D4D4D4" stroke-width="0.9" stroke-linecap="round"/>
<line x1="564.02" y1="213.33" x2="566.37" y2="214.08" stroke="#D4D4D4" stroke-width="0.8" stroke-linecap="round"/>
<ellipse cx="585.99" cy="212.87" rx="0.7" ry="1.2" fill="#D4D4D4"/>
<circle cx="556.23" cy="191.06" r="0.8" fill="#D4D4D4"/>
<circle cx="557.73" cy="190.36" r="0.7" fill="#D4D4D4"/>
<circle cx="559.72" cy="187.81" r="0.6" fill="#D4D4D4"/>
<circle cx="561.22" cy="187.35" r="0.6" fill="#D4D4D4"/>
<circle cx="562.72" cy="186.88" r="0.6" fill="#D4D4D4"/>
<circle cx="565.22" cy="186.19" r="0.65" fill="#D4D4D4"/>
<circle cx="565.97" cy="184.56" r="0.55" fill="#D4D4D4"/>
<circle cx="583.69" cy="195.24" r="0.5" fill="#D4D4D4"/>
<circle cx="585.19" cy="191.99" r="0.5" fill="#D4D4D4"/>
<circle cx="570.21" cy="195.47" r="0.45" fill="#D4D4D4"/>
<circle cx="571.46" cy="248.14" r="0.45" fill="#D4D4D4"/>
<circle cx="572.46" cy="247.21" r="0.45" fill="#D4D4D4"/>
<circle cx="573.46" cy="247.91" r="0.45" fill="#D4D4D4"/>
<circle cx="571.96" cy="249.07" r="0.45" fill="#D4D4D4"/>
<path d="M568.86 237.65 L571.81 234.59" fill="none" stroke="#E8452C" stroke-width="1.5" stroke-linecap="round" stroke-linejoin="round"/>
<line x1="492.9" y1="165.8" x2="492.9" y2="282.97" stroke="#444" stroke-width="0.55" />
<line x1="492.62" y1="282.7" x2="601.5" y2="282.7" stroke="#444" stroke-width="0.55" />
<line x1="491.8" y1="178.9" x2="492.9" y2="178.9" stroke="#444" stroke-width="0.45" />
<text x="491.3" y="180.1" font-size="3.4" text-anchor="end" font-weight="normal" fill="#555" >10</text>
<line x1="491.8" y1="218.3" x2="492.9" y2="218.3" stroke="#444" stroke-width="0.45" />
<text x="491.3" y="219.5" font-size="3.4" text-anchor="end" font-weight="normal" fill="#555" >0</text>
<line x1="491.8" y1="257.7" x2="492.9" y2="257.7" stroke="#444" stroke-width="0.45" />
<text x="491.3" y="258.9" font-size="3.4" text-anchor="end" font-weight="normal" fill="#555" >-10</text>
<line x1="493.1" y1="282.7" x2="493.1" y2="283.8" stroke="#444" stroke-width="0.45" />
<text x="493.1" y="287.3" font-size="3.4" text-anchor="middle" font-weight="normal" fill="#555" >-10</text>
<line x1="514.65" y1="282.7" x2="514.65" y2="283.8" stroke="#444" stroke-width="0.45" />
<text x="514.65" y="287.3" font-size="3.4" text-anchor="middle" font-weight="normal" fill="#555" >-5</text>
<line x1="536.2" y1="282.7" x2="536.2" y2="283.8" stroke="#444" stroke-width="0.45" />
<text x="536.2" y="287.3" font-size="3.4" text-anchor="middle" font-weight="normal" fill="#555" >0</text>
<line x1="557.75" y1="282.7" x2="557.75" y2="283.8" stroke="#444" stroke-width="0.45" />
<text x="557.75" y="287.3" font-size="3.4" text-anchor="middle" font-weight="normal" fill="#555" >5</text>
<line x1="579.3" y1="282.7" x2="579.3" y2="283.8" stroke="#444" stroke-width="0.45" />
<text x="579.3" y="287.3" font-size="3.4" text-anchor="middle" font-weight="normal" fill="#555" >10</text>
<line x1="600.85" y1="282.7" x2="600.85" y2="283.8" stroke="#444" stroke-width="0.45" />
<text x="600.85" y="287.3" font-size="3.4" text-anchor="middle" font-weight="normal" fill="#555" >15</text>
<text x="547.2" y="292.9" font-size="4.5" text-anchor="middle" font-weight="normal" fill="#666" >UMAP_1</text>
<text x="0" y="0" font-size="4.5" text-anchor="middle" font-weight="normal" fill="#666" transform="translate(484.3 224.75) rotate(-90)">UMAP_2</text>
<text x="547.1" y="162.4" font-size="5.0" text-anchor="middle" font-weight="bold" fill="#111" >MS4A1</text>
<rect x="606.3" y="214" width="4.3" height="22.5" fill="url(#cb)"/>
<text x="0" y="0" font-size="4.0" text-anchor="middle" font-weight="normal" fill="#444" transform="translate(612.5 235.7) rotate(90)">0</text>
<text x="0" y="0" font-size="4.0" text-anchor="middle" font-weight="normal" fill="#444" transform="translate(612.5 230.47) rotate(90)">1</text>
<text x="0" y="0" font-size="4.0" text-anchor="middle" font-weight="normal" fill="#444" transform="translate(612.5 225.25) rotate(90)">2</text>
<text x="0" y="0" font-size="4.0" text-anchor="middle" font-weight="normal" fill="#444" transform="translate(612.5 220.02) rotate(90)">3</text>
<text x="0" y="0" font-size="4.0" text-anchor="middle" font-weight="normal" fill="#444" transform="translate(612.5 214.8) rotate(90)">4</text>
<path d="M651.18 188.13 L654.8 185.72 L658.46 183.82 L663.11 182.37 L668.29 181.41 L671.03 181.41 L675.19 182.09 L678.32 184.04 L679.59 185.72 L677.24 186.45 L674.65 187.9 L672.6 189.8 L671.03 192.71 L669.47 196.56 L668.44 200.41 L667.41 204.22 L671.03 205.81 L673.62 208.21 L676.21 211.12 L678.56 213.25 L681.4 214.97 L685.55 215.92 L687.66 215.42 L690.74 213.52 L693.33 211.12 L695.33 209.67 L697.92 208.71 L701.05 208.26 L701.54 205.99 L702.52 206.45 L703.5 205.77 L704.23 206.9 L704.67 207.76 L706.73 207.04 L708.29 207.76 L708.29 208.71 L706.73 209.89 L704.67 210.16 L701.54 209.67 L698.95 210.16 L696.36 211.57 L695.09 214.47 L694.8 217.83 L695.87 221.68 L696.9 225.04 L697.39 228.89 L698.46 232.29 L697.88 232.25 L695.92 231.61 L692.06 231.93 L688.15 234.06 L685.55 236.74 L681.64 238.87 L677.09 240.37 L671.91 242.18 L668.05 243.95 L664.14 244.58 L659.59 243.04 L655.09 240.05 L651.18 237.06 L650.15 235.97 L647.56 233.56 L644.43 232.16 L640.81 230.71 L638.22 228.76 L636.9 224.9 L637.19 221.55 L638.71 218.69 L641.35 217.24 L644.43 217.24 L647.56 217.47 L649.61 215.79 L648.83 212.89 L648.59 208.08 L649.61 204.22 L651.18 199.42 L652.2 197.01 L651.42 192.71 L650.15 190.3Z M654.65 221.95 L656.75 220.5 L659.83 219.55 L662.42 218.6 L662.96 216.2 L664.53 215.47 L667.12 216.2 L669.17 215.24 L671.76 215.24 L673.87 216.2 L673.33 218.6 L671.27 221 L669.17 221.95 L669.71 224.36 L668.68 226.31 L667.61 228.71 L666.09 228.71 L665.02 226.76 L663.5 225.81 L660.91 224.86 L657.78 224.36 L655.19 223.9Z" fill="#D4D4D4" fill-rule="evenodd"/>
<path d="M675.43 218.6 L678.02 217.15 L681.64 217.65 L683.7 218.6 L681.64 220.05 L680.08 222.91 L681.64 224.36 L684.77 225.31 L686.82 224.86 L687.36 226.76 L683.7 227.76 L680.08 227.76 L678.02 226.31 L676.46 223.9 L675.43 221.5Z" fill="#fff" fill-opacity="0.85"/>
<path d="M665.82 217.87h0M663.63 224.18h0M660.19 224.57h0M661.69 221.6h0M660.91 223.83h0M662.92 219.34h0M667.72 224.2h0M671.61 220.56h0M661.94 220.94h0M662.42 224.25h0M664.93 219.9h0M668.64 220.13h0M667.19 221.64h0M667.93 224.45h0" stroke="#D4D4D4" stroke-width="0.54" stroke-linecap="round"/>
<path d="M677.2 223.68h0M677.46 224.71h0M679.93 219.55h0M678.08 222.78h0M677.17 223.74h0M678.37 218.12h0M679.4 224.44h0M681.52 225.08h0M680.57 221.38h0M677.91 223.4h0M683.41 226.58h0M681.04 227.2h0M680.77 223.79h0M680.09 225.03h0M682.59 226.86h0M680.19 227.1h0M678.47 224.41h0M680.77 224.18h0M678.07 221.55h0M677.14 222.24h0M678.17 218h0M680.07 218.74h0M676.85 218.75h0M680.42 220.52h0M678.33 219.14h0M678.98 225.04h0M677.84 222.08h0M685.06 225.95h0M680.95 226.09h0M676.54 218.95h0" stroke="#D4D4D4" stroke-width="0.54" stroke-linecap="round"/>
<ellipse cx="680.37" cy="199.87" rx="2.59" ry="1.04" fill="#D4D4D4" transform="rotate(-8 680.37 199.87)"/>
<path d="M705.46 175.75 L707.8 174.39 L711.32 174.39 L714.8 176.29 L717.73 180.1 L718.32 182.23 L716.56 184.13 L717.73 184.95 L721.84 185.5 L723.84 187.67 L723.84 189.85 L722.96 193.07 L721.25 196.33 L720.66 197.69 L718.32 196.33 L716.56 195.79 L714.8 197.42 L712.5 197.15 L711.91 194.7 L711.32 193.88 L706.34 194.16 L705.75 196.33 L704.87 199.55 L703.74 201.19 L700.81 198.51 L697.88 195.24 L696.12 191.98 L695.53 189.3 L699.05 188.49 L702.57 187.67 L703.99 187.13 L704.87 185.5 L704.58 183.86 L703.45 182.77 L704.58 181.46 L705.16 177.92Z M704.28 187.4 L707.8 187.13 L711.91 187.94 L712.2 189.85 L711.91 193.07 L706.34 193.34 L705.75 190.89 L704.58 188.76Z" fill="#D4D4D4" fill-rule="evenodd"/>
<path d="M720.57 220.55 L723.21 221.41 L725.8 222.09 L728.1 222.45 L729.95 221.77 L731.81 221.59 L733.33 222.82 L734.06 225.22 L733.33 227.31 L731.81 229.75 L729.95 231.84 L728.1 234.29 L726.97 237.06 L726.19 239.5 L725.8 243 L726.19 246.12 L726.97 248.94 L726.19 250.3 L724.67 250.66 L722.42 248.94 L719.83 247.17 L718.32 245.44 L719.24 241.27 L721.3 239.19 L720.57 237.42 L719.44 236.38 L717.92 234.65 L716.07 232.88 L715.14 230.12 L714.94 227.31 L715.87 224.9 L717.19 223.13 L719.05 221.41Z" fill="#D4D4D4" />
<path d="M675.92 259.5 L677.09 260.32 L677.97 261.68 L679.1 260.32 L680.57 261.95 L681.74 263.04 L683.5 264.13 L685.85 263.04 L687.85 261.41 L688.44 258.41 L689.22 258.41 L689.61 261.95 L691.37 264.13 L692.55 266.26 L692.25 267.89 L691.08 270.07 L688.15 271.97 L684.09 273.33 L680.57 272.24 L678.27 270.07 L676.8 266.8 L675.92 262.5Z" fill="#D4D4D4" />
<path d="M677.09 214.15 L678.32 211.89 L679.54 210.07 L681.01 209.85 L681.49 211.21 L680.03 213.25 L678.07 214.83Z" fill="#D4D4D4" />
<path d="M703.74 213.7 L704.97 213.25 L705.94 213.47 L706.73 214.83 L706.19 215.7 L704.97 215.29 L703.99 215.61Z" fill="#D4D4D4" />
<ellipse cx="702.47" cy="237.83" rx="3.67" ry="3.08" fill="#D4D4D4"/>
<path d="M697.88 232.52 L698.85 232.29 L700.08 235.01 L698.61 235.47Z" fill="#D4D4D4" />
<line x1="706.58" y1="237.01" x2="709.47" y2="234.02" stroke="#D4D4D4" stroke-width="1.27" stroke-linecap="round"/>
<line x1="729.56" y1="179.01" x2="731.52" y2="176.97" stroke="#D4D4D4" stroke-width="0.88" stroke-linecap="round"/>
<line x1="701.84" y1="213.25" x2="704.14" y2="213.97" stroke="#D4D4D4" stroke-width="0.78" stroke-linecap="round"/>
<ellipse cx="723.35" cy="212.79" rx="0.68" ry="1.17" fill="#D4D4D4"/>
<circle cx="694.21" cy="191.48" r="0.78" fill="#D4D4D4"/>
<circle cx="695.68" cy="190.8" r="0.68" fill="#D4D4D4"/>
<circle cx="697.63" cy="188.31" r="0.59" fill="#D4D4D4"/>
<circle cx="699.1" cy="187.85" r="0.59" fill="#D4D4D4"/>
<circle cx="700.57" cy="187.4" r="0.59" fill="#D4D4D4"/>
<circle cx="703.01" cy="186.72" r="0.64" fill="#D4D4D4"/>
<circle cx="703.74" cy="185.13" r="0.54" fill="#D4D4D4"/>
<circle cx="721.1" cy="195.56" r="0.49" fill="#D4D4D4"/>
<circle cx="722.57" cy="192.39" r="0.49" fill="#D4D4D4"/>
<circle cx="707.9" cy="195.79" r="0.44" fill="#D4D4D4"/>
<circle cx="709.12" cy="247.26" r="0.44" fill="#D4D4D4"/>
<circle cx="710.1" cy="246.35" r="0.44" fill="#D4D4D4"/>
<circle cx="711.08" cy="247.03" r="0.44" fill="#D4D4D4"/>
<circle cx="709.61" cy="248.17" r="0.44" fill="#D4D4D4"/>
<path d="M729.56 179.01 L731.52 176.97" fill="none" stroke="#E8452C" stroke-width="1.1" stroke-linecap="round" stroke-linejoin="round"/>
<line x1="631.7" y1="167.3" x2="631.7" y2="281.07" stroke="#444" stroke-width="0.55" />
<line x1="631.43" y1="280.8" x2="737.8" y2="280.8" stroke="#444" stroke-width="0.55" />
<line x1="630.6" y1="179.6" x2="631.7" y2="179.6" stroke="#444" stroke-width="0.45" />
<text x="630.1" y="180.8" font-size="3.4" text-anchor="end" font-weight="normal" fill="#555" >10</text>
<line x1="630.6" y1="218.1" x2="631.7" y2="218.1" stroke="#444" stroke-width="0.45" />
<text x="630.1" y="219.3" font-size="3.4" text-anchor="end" font-weight="normal" fill="#555" >0</text>
<line x1="630.6" y1="256.6" x2="631.7" y2="256.6" stroke="#444" stroke-width="0.45" />
<text x="630.1" y="257.8" font-size="3.4" text-anchor="end" font-weight="normal" fill="#555" >-10</text>
<line x1="632.4" y1="280.8" x2="632.4" y2="281.9" stroke="#444" stroke-width="0.45" />
<text x="632.4" y="285.4" font-size="3.4" text-anchor="middle" font-weight="normal" fill="#555" >-10</text>
<line x1="653.5" y1="280.8" x2="653.5" y2="281.9" stroke="#444" stroke-width="0.45" />
<text x="653.5" y="285.4" font-size="3.4" text-anchor="middle" font-weight="normal" fill="#555" >-5</text>
<line x1="674.6" y1="280.8" x2="674.6" y2="281.9" stroke="#444" stroke-width="0.45" />
<text x="674.6" y="285.4" font-size="3.4" text-anchor="middle" font-weight="normal" fill="#555" >0</text>
<line x1="695.7" y1="280.8" x2="695.7" y2="281.9" stroke="#444" stroke-width="0.45" />
<text x="695.7" y="285.4" font-size="3.4" text-anchor="middle" font-weight="normal" fill="#555" >5</text>
<line x1="716.8" y1="280.8" x2="716.8" y2="281.9" stroke="#444" stroke-width="0.45" />
<text x="716.8" y="285.4" font-size="3.4" text-anchor="middle" font-weight="normal" fill="#555" >10</text>
<line x1="737.9" y1="280.8" x2="737.9" y2="281.9" stroke="#444" stroke-width="0.45" />
<text x="737.9" y="285.4" font-size="3.4" text-anchor="middle" font-weight="normal" fill="#555" >15</text>
<text x="684.75" y="291" font-size="4.5" text-anchor="middle" font-weight="normal" fill="#666" >UMAP_1</text>
<text x="0" y="0" font-size="4.5" text-anchor="middle" font-weight="normal" fill="#666" transform="translate(623.1 224.55) rotate(-90)">UMAP_2</text>
<text x="685" y="163.7" font-size="5.0" text-anchor="middle" font-weight="bold" fill="#111" >CLEC4C</text>
<rect x="742" y="214" width="4.5" height="21.6" fill="url(#cb)"/>
<text x="0" y="0" font-size="4.0" text-anchor="middle" font-weight="normal" fill="#444" transform="translate(748.4 234.8) rotate(90)">0</text>
<text x="0" y="0" font-size="4.0" text-anchor="middle" font-weight="normal" fill="#444" transform="translate(748.4 228.13) rotate(90)">1</text>
<text x="0" y="0" font-size="4.0" text-anchor="middle" font-weight="normal" fill="#444" transform="translate(748.4 221.47) rotate(90)">2</text>
<text x="0" y="0" font-size="4.0" text-anchor="middle" font-weight="normal" fill="#444" transform="translate(748.4 214.8) rotate(90)">3</text>
<path d="M373.46 325.03 L377.11 322.62 L380.81 320.72 L385.5 319.27 L390.73 318.31 L393.5 318.31 L397.69 318.99 L400.85 320.94 L402.13 322.62 L399.77 323.35 L397.15 324.8 L395.08 326.7 L393.5 329.61 L391.92 333.46 L390.88 337.31 L389.84 341.12 L393.5 342.71 L396.11 345.11 L398.73 348.02 L401.1 350.15 L403.96 351.87 L408.16 352.82 L410.28 352.32 L413.39 350.42 L416.01 348.02 L418.03 346.57 L420.65 345.61 L423.81 345.16 L424.3 342.89 L425.29 343.35 L426.27 342.67 L427.01 343.8 L427.46 344.66 L429.53 343.94 L431.11 344.66 L431.11 345.61 L429.53 346.79 L427.46 347.06 L424.3 346.57 L421.68 347.06 L419.07 348.47 L417.78 351.37 L417.49 354.73 L418.57 358.58 L419.61 361.94 L420.1 365.79 L421.19 369.19 L420.6 369.15 L418.62 368.51 L414.72 368.83 L410.77 370.96 L408.16 373.64 L404.21 375.77 L399.62 377.27 L394.39 379.08 L390.49 380.85 L386.54 381.48 L381.95 379.94 L377.4 376.95 L373.46 373.96 L372.42 372.87 L369.8 370.46 L366.64 369.06 L362.99 367.61 L360.37 365.66 L359.04 361.8 L359.34 358.45 L360.87 355.59 L363.53 354.14 L366.64 354.14 L369.8 354.37 L371.88 352.69 L371.09 349.79 L370.84 344.98 L371.88 341.12 L373.46 336.32 L374.49 333.91 L373.7 329.61 L372.42 327.2Z M376.96 358.85 L379.08 357.4 L382.19 356.45 L384.81 355.5 L385.35 353.1 L386.93 352.37 L389.55 353.1 L391.62 352.14 L394.24 352.14 L396.36 353.1 L395.82 355.5 L393.74 357.9 L391.62 358.85 L392.16 361.26 L391.13 363.21 L390.04 365.61 L388.51 365.61 L387.42 363.66 L385.89 362.71 L383.28 361.76 L380.12 361.26 L377.5 360.8Z" fill="#D4D4D4" fill-rule="evenodd"/>
<path d="M397.94 355.5 L400.56 354.05 L404.21 354.55 L406.28 355.5 L404.21 356.95 L402.63 359.81 L404.21 361.26 L407.37 362.21 L409.44 361.76 L409.98 363.66 L406.28 364.66 L402.63 364.66 L400.56 363.21 L398.98 360.8 L397.94 358.4Z" fill="#fff" fill-opacity="0.85"/>
<path d="M388.23 354.77h0M386.02 361.08h0M382.56 361.47h0M384.07 358.5h0M383.28 360.73h0M385.3 356.24h0M390.15 361.1h0M394.08 357.46h0M384.32 357.84h0M384.81 361.15h0M387.34 356.8h0M391.09 357.03h0M389.62 358.54h0M390.37 361.35h0" stroke="#D4D4D4" stroke-width="0.54" stroke-linecap="round"/>
<path d="M399.72 360.58h0M399.98 361.61h0M402.48 356.45h0M400.61 359.68h0M399.69 360.64h0M400.91 355.02h0M401.95 361.34h0M404.08 361.98h0M403.13 358.28h0M400.44 360.3h0M405.99 363.48h0M403.6 364.1h0M403.32 360.69h0M402.65 361.93h0M405.17 363.76h0M402.74 364h0M401.01 361.31h0M403.33 361.08h0M400.6 358.45h0M399.66 359.14h0M400.71 354.9h0M402.63 355.64h0M399.37 355.65h0M402.97 357.42h0M400.87 356.04h0M401.52 361.94h0M400.37 358.98h0M407.66 362.85h0M403.51 362.99h0M399.06 355.85h0" stroke="#D4D4D4" stroke-width="0.54" stroke-linecap="round"/>
<ellipse cx="402.92" cy="336.77" rx="2.62" ry="1.04" fill="#D4D4D4" transform="rotate(-8 402.92 336.77)"/>
<path d="M428.25 312.65 L430.62 311.29 L434.17 311.29 L437.68 313.19 L440.64 317 L441.23 319.13 L439.45 321.03 L440.64 321.85 L444.78 322.4 L446.81 324.57 L446.81 326.75 L445.92 329.97 L444.19 333.23 L443.6 334.59 L441.23 333.23 L439.45 332.69 L437.68 334.32 L435.36 334.05 L434.76 331.6 L434.17 330.78 L429.14 331.06 L428.54 333.23 L427.66 336.45 L426.52 338.09 L423.56 335.41 L420.6 332.14 L418.82 328.88 L418.23 326.2 L421.78 325.39 L425.34 324.57 L426.77 324.03 L427.66 322.4 L427.36 320.76 L426.22 319.67 L427.36 318.36 L427.95 314.82Z M427.06 324.3 L430.62 324.03 L434.76 324.84 L435.06 326.75 L434.76 329.97 L429.14 330.24 L428.54 327.79 L427.36 325.66Z" fill="#D4D4D4" fill-rule="evenodd"/>
<path d="M443.5 357.45 L446.17 358.31 L448.78 358.99 L451.1 359.35 L452.98 358.67 L454.85 358.49 L456.38 359.72 L457.13 362.12 L456.38 364.21 L454.85 366.65 L452.98 368.74 L451.1 371.19 L449.97 373.96 L449.18 376.4 L448.78 379.9 L449.18 383.02 L449.97 385.84 L449.18 387.2 L447.65 387.56 L445.38 385.84 L442.76 384.07 L441.23 382.34 L442.17 378.17 L444.24 376.09 L443.5 374.32 L442.37 373.28 L440.84 371.55 L438.96 369.78 L438.02 367.02 L437.82 364.21 L438.76 361.8 L440.09 360.03 L441.97 358.31Z" fill="#D4D4D4" />
<path d="M398.43 396.4 L399.62 397.22 L400.51 398.58 L401.64 397.22 L403.12 398.85 L404.31 399.94 L406.08 401.03 L408.45 399.94 L410.48 398.31 L411.07 395.31 L411.86 395.31 L412.25 398.85 L414.03 401.03 L415.22 403.16 L414.92 404.79 L413.74 406.97 L410.77 408.87 L406.68 410.23 L403.12 409.14 L400.8 406.97 L399.32 403.7 L398.43 399.4Z" fill="#D4D4D4" />
<path d="M399.62 351.05 L400.85 348.79 L402.09 346.97 L403.57 346.75 L404.06 348.11 L402.58 350.15 L400.6 351.73Z" fill="#D4D4D4" />
<path d="M426.52 350.6 L427.75 350.15 L428.74 350.37 L429.53 351.73 L428.99 352.6 L427.75 352.19 L426.77 352.51Z" fill="#D4D4D4" />
<ellipse cx="425.24" cy="374.73" rx="3.7" ry="3.08" fill="#D4D4D4"/>
<path d="M420.6 369.42 L421.58 369.19 L422.82 371.91 L421.34 372.37Z" fill="#D4D4D4" />
<line x1="429.38" y1="373.91" x2="432.3" y2="370.92" stroke="#D4D4D4" stroke-width="1.28" stroke-linecap="round"/>
<line x1="452.58" y1="315.91" x2="454.56" y2="313.87" stroke="#D4D4D4" stroke-width="0.89" stroke-linecap="round"/>
<line x1="424.6" y1="350.15" x2="426.92" y2="350.87" stroke="#D4D4D4" stroke-width="0.79" stroke-linecap="round"/>
<ellipse cx="446.31" cy="349.69" rx="0.69" ry="1.18" fill="#D4D4D4"/>
<circle cx="416.89" cy="328.38" r="0.79" fill="#D4D4D4"/>
<circle cx="418.38" cy="327.7" r="0.69" fill="#D4D4D4"/>
<circle cx="420.35" cy="325.21" r="0.59" fill="#D4D4D4"/>
<circle cx="421.83" cy="324.75" r="0.59" fill="#D4D4D4"/>
<circle cx="423.31" cy="324.3" r="0.59" fill="#D4D4D4"/>
<circle cx="425.78" cy="323.62" r="0.64" fill="#D4D4D4"/>
<circle cx="426.52" cy="322.03" r="0.54" fill="#D4D4D4"/>
<circle cx="444.04" cy="332.46" r="0.49" fill="#D4D4D4"/>
<circle cx="445.52" cy="329.29" r="0.49" fill="#D4D4D4"/>
<circle cx="430.72" cy="332.69" r="0.44" fill="#D4D4D4"/>
<circle cx="431.95" cy="384.16" r="0.44" fill="#D4D4D4"/>
<circle cx="432.94" cy="383.25" r="0.44" fill="#D4D4D4"/>
<circle cx="433.92" cy="383.93" r="0.44" fill="#D4D4D4"/>
<circle cx="432.44" cy="385.07" r="0.44" fill="#D4D4D4"/>
<path d="M399.62 351.05 L400.85 348.79 L402.09 346.97 L403.57 346.75 L404.06 348.11 L402.58 350.15 L400.6 351.73Z" fill="#E8452C" />
<path d="M394.49 353.98h0M396.62 347.73h0M402.64 353.37h0M397.04 353.73h0M398.26 355.03h0M404.82 349.16h0M396.48 355.41h0M401.31 346.24h0M400.27 353.44h0M395.24 353.27h0M394.7 348.87h0M401 356.36h0M402.03 345.71h0M400.76 353.02h0M404.47 351.34h0M395.62 350.48h0M395.93 355.32h0M399.6 345.58h0M402.72 345.74h0M399.93 345.45h0M399.34 353.74h0M400.05 350.52h0M399.4 350.27h0M400.84 345.48h0M399.27 347.46h0" stroke="#EE8870" stroke-width="0.7" stroke-linecap="round"/>
<line x1="354.6" y1="303.5" x2="354.6" y2="418.57" stroke="#444" stroke-width="0.55" />
<line x1="354.33" y1="418.3" x2="461" y2="418.3" stroke="#444" stroke-width="0.55" />
<line x1="353.5" y1="316.5" x2="354.6" y2="316.5" stroke="#444" stroke-width="0.45" />
<text x="353" y="317.7" font-size="3.4" text-anchor="end" font-weight="normal" fill="#555" >10</text>
<line x1="353.5" y1="355" x2="354.6" y2="355" stroke="#444" stroke-width="0.45" />
<text x="353" y="356.2" font-size="3.4" text-anchor="end" font-weight="normal" fill="#555" >0</text>
<line x1="353.5" y1="393.5" x2="354.6" y2="393.5" stroke="#444" stroke-width="0.45" />
<text x="353" y="394.7" font-size="3.4" text-anchor="end" font-weight="normal" fill="#555" >-10</text>
<line x1="354.5" y1="418.3" x2="354.5" y2="419.4" stroke="#444" stroke-width="0.45" />
<text x="354.5" y="422.9" font-size="3.4" text-anchor="middle" font-weight="normal" fill="#555" >-10</text>
<line x1="375.8" y1="418.3" x2="375.8" y2="419.4" stroke="#444" stroke-width="0.45" />
<text x="375.8" y="422.9" font-size="3.4" text-anchor="middle" font-weight="normal" fill="#555" >-5</text>
<line x1="397.1" y1="418.3" x2="397.1" y2="419.4" stroke="#444" stroke-width="0.45" />
<text x="397.1" y="422.9" font-size="3.4" text-anchor="middle" font-weight="normal" fill="#555" >0</text>
<line x1="418.4" y1="418.3" x2="418.4" y2="419.4" stroke="#444" stroke-width="0.45" />
<text x="418.4" y="422.9" font-size="3.4" text-anchor="middle" font-weight="normal" fill="#555" >5</text>
<line x1="439.7" y1="418.3" x2="439.7" y2="419.4" stroke="#444" stroke-width="0.45" />
<text x="439.7" y="422.9" font-size="3.4" text-anchor="middle" font-weight="normal" fill="#555" >10</text>
<line x1="461" y1="418.3" x2="461" y2="419.4" stroke="#444" stroke-width="0.45" />
<text x="461" y="422.9" font-size="3.4" text-anchor="middle" font-weight="normal" fill="#555" >15</text>
<text x="407.8" y="428.5" font-size="4.5" text-anchor="middle" font-weight="normal" fill="#666" >UMAP_1</text>
<text x="0" y="0" font-size="4.5" text-anchor="middle" font-weight="normal" fill="#666" transform="translate(346 361.4) rotate(-90)">UMAP_2</text>
<text x="408" y="300.8" font-size="5.0" text-anchor="middle" font-weight="bold" fill="#111" >GP9</text>
<rect x="465.4" y="351" width="4.2" height="21.7" fill="url(#cb)"/>
<text x="0" y="0" font-size="4.0" text-anchor="middle" font-weight="normal" fill="#444" transform="translate(471.5 371.9) rotate(90)">0</text>
<text x="0" y="0" font-size="4.0" text-anchor="middle" font-weight="normal" fill="#444" transform="translate(471.5 366.88) rotate(90)">1</text>
<text x="0" y="0" font-size="4.0" text-anchor="middle" font-weight="normal" fill="#444" transform="translate(471.5 361.85) rotate(90)">2</text>
<text x="0" y="0" font-size="4.0" text-anchor="middle" font-weight="normal" fill="#444" transform="translate(471.5 356.82) rotate(90)">3</text>
<text x="0" y="0" font-size="4.0" text-anchor="middle" font-weight="normal" fill="#444" transform="translate(471.5 351.8) rotate(90)">4</text>
<path d="M514.3 324.81 L517.88 322.44 L521.52 320.56 L526.12 319.13 L531.25 318.19 L533.96 318.19 L538.08 318.86 L541.18 320.79 L542.44 322.44 L540.12 323.16 L537.55 324.59 L535.51 326.47 L533.96 329.34 L532.41 333.14 L531.4 336.94 L530.38 340.7 L533.96 342.27 L536.53 344.64 L539.1 347.51 L541.42 349.61 L544.23 351.31 L548.35 352.25 L550.43 351.76 L553.48 349.88 L556.05 347.51 L558.04 346.07 L560.6 345.13 L563.7 344.69 L564.19 342.45 L565.16 342.9 L566.13 342.23 L566.85 343.34 L567.29 344.2 L569.32 343.48 L570.87 344.2 L570.87 345.13 L569.32 346.3 L567.29 346.57 L564.19 346.07 L561.62 346.57 L559.05 347.95 L557.79 350.82 L557.5 354.13 L558.57 357.94 L559.59 361.25 L560.07 365.05 L561.14 368.41 L560.56 368.36 L558.62 367.74 L554.79 368.05 L550.92 370.16 L548.35 372.8 L544.47 374.9 L539.97 376.38 L534.84 378.17 L531.01 379.91 L527.13 380.54 L522.63 379.02 L518.17 376.06 L514.3 373.11 L513.28 372.03 L510.72 369.66 L507.62 368.28 L504.03 366.84 L501.46 364.92 L500.16 361.11 L500.45 357.8 L501.95 354.98 L504.56 353.55 L507.62 353.55 L510.72 353.77 L512.75 352.12 L511.97 349.25 L511.73 344.51 L512.75 340.7 L514.3 335.96 L515.32 333.59 L514.54 329.34 L513.28 326.96Z M517.74 358.2 L519.82 356.77 L522.87 355.83 L525.44 354.89 L525.97 352.52 L527.52 351.8 L530.09 352.52 L532.12 351.58 L534.69 351.58 L536.77 352.52 L536.24 354.89 L534.21 357.26 L532.12 358.2 L532.66 360.58 L531.64 362.5 L530.57 364.87 L529.07 364.87 L528.01 362.95 L526.51 362.01 L523.94 361.07 L520.84 360.58 L518.27 360.13Z" fill="#D4D4D4" fill-rule="evenodd"/>
<path d="M538.32 354.89 L540.89 353.46 L544.47 353.95 L546.51 354.89 L544.47 356.32 L542.92 359.14 L544.47 360.58 L547.57 361.52 L549.61 361.07 L550.14 362.95 L546.51 363.93 L542.92 363.93 L540.89 362.5 L539.34 360.13 L538.32 357.76Z" fill="#fff" fill-opacity="0.85"/>
<path d="M528.8 354.17h0M526.63 360.4h0M523.23 360.78h0M524.71 357.85h0M523.94 360.05h0M525.93 355.63h0M530.68 360.42h0M534.54 356.83h0M524.96 357.2h0M525.44 360.47h0M527.92 356.17h0M531.6 356.4h0M530.16 357.9h0M530.89 360.67h0" stroke="#D4D4D4" stroke-width="0.53" stroke-linecap="round"/>
<path d="M540.07 359.91h0M540.33 360.92h0M542.78 355.84h0M540.95 359.02h0M540.04 359.97h0M541.24 354.42h0M542.26 360.66h0M544.35 361.29h0M543.42 357.63h0M540.77 359.63h0M546.23 362.77h0M543.88 363.38h0M543.61 360.01h0M542.94 361.24h0M545.42 363.04h0M543.03 363.28h0M541.33 360.63h0M543.62 360.4h0M540.93 357.81h0M540.01 358.48h0M541.04 354.3h0M542.92 355.03h0M539.73 355.04h0M543.26 356.79h0M541.2 355.43h0M541.83 361.25h0M540.71 358.33h0M547.86 362.15h0M543.79 362.29h0M539.42 355.24h0" stroke="#D4D4D4" stroke-width="0.53" stroke-linecap="round"/>
<ellipse cx="543.22" cy="336.41" rx="2.57" ry="1.03" fill="#D4D4D4" transform="rotate(-8 543.22 336.41)"/>
<path d="M568.06 312.6 L570.39 311.25 L573.88 311.25 L577.31 313.13 L580.22 316.89 L580.8 319 L579.06 320.88 L580.22 321.68 L584.29 322.22 L586.27 324.37 L586.27 326.52 L585.4 329.69 L583.71 332.92 L583.13 334.26 L580.8 332.92 L579.06 332.38 L577.31 333.99 L575.04 333.72 L574.46 331.3 L573.88 330.5 L568.93 330.77 L568.35 332.92 L567.48 336.09 L566.37 337.71 L563.46 335.06 L560.56 331.84 L558.81 328.62 L558.23 325.98 L561.72 325.17 L565.21 324.37 L566.61 323.83 L567.48 322.22 L567.19 320.61 L566.08 319.53 L567.19 318.24 L567.77 314.74Z M566.9 324.1 L570.39 323.83 L574.46 324.64 L574.75 326.52 L574.46 329.69 L568.93 329.96 L568.35 327.54 L567.19 325.44Z" fill="#D4D4D4" fill-rule="evenodd"/>
<path d="M583.03 356.82 L585.65 357.67 L588.21 358.34 L590.49 358.7 L592.33 358.03 L594.17 357.85 L595.67 359.05 L596.4 361.43 L595.67 363.49 L594.17 365.9 L592.33 367.96 L590.49 370.38 L589.37 373.11 L588.6 375.53 L588.21 378.97 L588.6 382.06 L589.37 384.84 L588.6 386.18 L587.1 386.54 L584.87 384.84 L582.3 383.09 L580.8 381.39 L581.72 377.27 L583.76 375.21 L583.03 373.47 L581.92 372.44 L580.41 370.74 L578.57 368.99 L577.65 366.26 L577.46 363.49 L578.38 361.11 L579.69 359.37 L581.53 357.67Z" fill="#D4D4D4" />
<path d="M538.81 395.26 L539.97 396.07 L540.84 397.41 L541.96 396.07 L543.41 397.68 L544.57 398.76 L546.32 399.83 L548.64 398.76 L550.63 397.14 L551.21 394.19 L551.98 394.19 L552.37 397.68 L554.11 399.83 L555.28 401.93 L554.99 403.54 L553.82 405.69 L550.92 407.57 L546.9 408.92 L543.41 407.84 L541.13 405.69 L539.68 402.47 L538.81 398.22Z" fill="#D4D4D4" />
<path d="M539.97 350.51 L541.18 348.27 L542.39 346.48 L543.85 346.25 L544.33 347.6 L542.88 349.61 L540.94 351.18Z" fill="#D4D4D4" />
<path d="M566.37 350.06 L567.58 349.61 L568.55 349.83 L569.32 351.18 L568.79 352.03 L567.58 351.62 L566.61 351.94Z" fill="#D4D4D4" />
<ellipse cx="565.11" cy="373.87" rx="3.63" ry="3.04" fill="#D4D4D4"/>
<path d="M560.56 368.63 L561.52 368.41 L562.73 371.09 L561.28 371.54Z" fill="#D4D4D4" />
<line x1="569.18" y1="373.06" x2="572.03" y2="370.11" stroke="#D4D4D4" stroke-width="1.26" stroke-linecap="round"/>
<line x1="591.94" y1="315.82" x2="593.88" y2="313.8" stroke="#D4D4D4" stroke-width="0.87" stroke-linecap="round"/>
<line x1="564.48" y1="349.61" x2="566.76" y2="350.33" stroke="#D4D4D4" stroke-width="0.77" stroke-linecap="round"/>
<ellipse cx="585.79" cy="349.16" rx="0.68" ry="1.16" fill="#D4D4D4"/>
<circle cx="556.92" cy="328.13" r="0.77" fill="#D4D4D4"/>
<circle cx="558.38" cy="327.46" r="0.68" fill="#D4D4D4"/>
<circle cx="560.31" cy="324.99" r="0.58" fill="#D4D4D4"/>
<circle cx="561.77" cy="324.55" r="0.58" fill="#D4D4D4"/>
<circle cx="563.22" cy="324.1" r="0.58" fill="#D4D4D4"/>
<circle cx="565.64" cy="323.43" r="0.63" fill="#D4D4D4"/>
<circle cx="566.37" cy="321.86" r="0.53" fill="#D4D4D4"/>
<circle cx="583.56" cy="332.16" r="0.48" fill="#D4D4D4"/>
<circle cx="585.02" cy="329.02" r="0.48" fill="#D4D4D4"/>
<circle cx="570.48" cy="332.38" r="0.44" fill="#D4D4D4"/>
<circle cx="571.7" cy="383.18" r="0.44" fill="#D4D4D4"/>
<circle cx="572.66" cy="382.28" r="0.44" fill="#D4D4D4"/>
<circle cx="573.63" cy="382.96" r="0.44" fill="#D4D4D4"/>
<circle cx="572.18" cy="384.07" r="0.44" fill="#D4D4D4"/>
<ellipse cx="565.11" cy="373.87" rx="3.63" ry="3.04" fill="#E8452C" transform="rotate(0 565.11 373.87)"/>
<path d="M555.81 354.7h0M559.16 363.4h0M551.81 360.19h0M539.36 376.3h0M547.16 373.35h0M556.53 357.57h0M554.33 356.63h0M549.82 361.92h0M555.29 365.88h0M551.1 369.26h0M553.3 358.23h0M554.24 364.5h0M545.2 371.77h0M556.89 367.77h0M550.06 364.57h0M554.6 359.1h0M555.31 358.19h0M552.25 360.28h0M557.91 359.2h0M549.81 363.1h0M547.15 365.97h0M550.93 361.84h0M547.04 371.79h0M545.1 372.3h0M545.49 367.15h0" stroke="#EFA28F" stroke-width="0.7" stroke-linecap="round"/>
<line x1="495.8" y1="303.5" x2="495.8" y2="416.77" stroke="#444" stroke-width="0.55" />
<line x1="495.53" y1="416.5" x2="601" y2="416.5" stroke="#444" stroke-width="0.55" />
<line x1="494.7" y1="316.4" x2="495.8" y2="316.4" stroke="#444" stroke-width="0.45" />
<text x="494.2" y="317.6" font-size="3.4" text-anchor="end" font-weight="normal" fill="#555" >10</text>
<line x1="494.7" y1="354.4" x2="495.8" y2="354.4" stroke="#444" stroke-width="0.45" />
<text x="494.2" y="355.6" font-size="3.4" text-anchor="end" font-weight="normal" fill="#555" >0</text>
<line x1="494.7" y1="392.4" x2="495.8" y2="392.4" stroke="#444" stroke-width="0.45" />
<text x="494.2" y="393.6" font-size="3.4" text-anchor="end" font-weight="normal" fill="#555" >-10</text>
<line x1="495.7" y1="416.5" x2="495.7" y2="417.6" stroke="#444" stroke-width="0.45" />
<text x="495.7" y="421.1" font-size="3.4" text-anchor="middle" font-weight="normal" fill="#555" >-10</text>
<line x1="516.6" y1="416.5" x2="516.6" y2="417.6" stroke="#444" stroke-width="0.45" />
<text x="516.6" y="421.1" font-size="3.4" text-anchor="middle" font-weight="normal" fill="#555" >-5</text>
<line x1="537.5" y1="416.5" x2="537.5" y2="417.6" stroke="#444" stroke-width="0.45" />
<text x="537.5" y="421.1" font-size="3.4" text-anchor="middle" font-weight="normal" fill="#555" >0</text>
<line x1="558.4" y1="416.5" x2="558.4" y2="417.6" stroke="#444" stroke-width="0.45" />
<text x="558.4" y="421.1" font-size="3.4" text-anchor="middle" font-weight="normal" fill="#555" >5</text>
<line x1="579.3" y1="416.5" x2="579.3" y2="417.6" stroke="#444" stroke-width="0.45" />
<text x="579.3" y="421.1" font-size="3.4" text-anchor="middle" font-weight="normal" fill="#555" >10</text>
<line x1="600.2" y1="416.5" x2="600.2" y2="417.6" stroke="#444" stroke-width="0.45" />
<text x="600.2" y="421.1" font-size="3.4" text-anchor="middle" font-weight="normal" fill="#555" >15</text>
<text x="548.4" y="426.7" font-size="4.5" text-anchor="middle" font-weight="normal" fill="#666" >UMAP_1</text>
<text x="0" y="0" font-size="4.5" text-anchor="middle" font-weight="normal" fill="#666" transform="translate(487.2 360.5) rotate(-90)">UMAP_2</text>
<text x="548" y="300.5" font-size="5.0" text-anchor="middle" font-weight="bold" fill="#111" >MZB1</text>
<rect x="605.4" y="350" width="3.8" height="21.7" fill="url(#cb)"/>
<text x="0" y="0" font-size="4.0" text-anchor="middle" font-weight="normal" fill="#444" transform="translate(611.1 370.9) rotate(90)">0</text>
<text x="0" y="0" font-size="4.0" text-anchor="middle" font-weight="normal" fill="#444" transform="translate(611.1 367.55) rotate(90)">1</text>
<text x="0" y="0" font-size="4.0" text-anchor="middle" font-weight="normal" fill="#444" transform="translate(611.1 364.2) rotate(90)">2</text>
<text x="0" y="0" font-size="4.0" text-anchor="middle" font-weight="normal" fill="#444" transform="translate(611.1 360.85) rotate(90)">3</text>
<text x="0" y="0" font-size="4.0" text-anchor="middle" font-weight="normal" fill="#444" transform="translate(611.1 357.5) rotate(90)">4</text>
<text x="0" y="0" font-size="4.0" text-anchor="middle" font-weight="normal" fill="#444" transform="translate(611.1 354.15) rotate(90)">5</text>
<text x="0" y="0" font-size="4.0" text-anchor="middle" font-weight="normal" fill="#444" transform="translate(611.1 350.8) rotate(90)">6</text>
<path d="M650.47 323.09 L654.1 320.67 L657.79 318.75 L662.45 317.29 L667.66 316.33 L670.41 316.33 L674.59 317.01 L677.73 318.98 L679.01 320.67 L676.65 321.4 L674.05 322.86 L671.99 324.78 L670.41 327.71 L668.84 331.59 L667.81 335.48 L666.78 339.32 L670.41 340.92 L673.02 343.34 L675.62 346.26 L677.98 348.41 L680.83 350.15 L685.01 351.11 L687.12 350.6 L690.21 348.68 L692.82 346.26 L694.83 344.8 L697.44 343.84 L700.58 343.38 L701.07 341.1 L702.05 341.55 L703.04 340.87 L703.77 342.01 L704.22 342.88 L706.28 342.15 L707.85 342.88 L707.85 343.84 L706.28 345.03 L704.22 345.3 L701.07 344.8 L698.47 345.3 L695.86 346.72 L694.59 349.64 L694.29 353.03 L695.37 356.91 L696.4 360.29 L696.9 364.18 L697.98 367.6 L697.39 367.56 L695.42 366.92 L691.54 367.24 L687.61 369.39 L685.01 372.08 L681.07 374.23 L676.51 375.74 L671.3 377.57 L667.42 379.35 L663.49 379.99 L658.92 378.44 L654.4 375.42 L650.47 372.4 L649.43 371.31 L646.83 368.88 L643.69 367.47 L640.05 366 L637.45 364.04 L636.12 360.16 L636.41 356.77 L637.94 353.89 L640.59 352.43 L643.69 352.43 L646.83 352.66 L648.89 350.97 L648.11 348.04 L647.86 343.2 L648.89 339.32 L650.47 334.47 L651.5 332.05 L650.71 327.71 L649.43 325.29Z M653.95 357.18 L656.07 355.72 L659.16 354.76 L661.77 353.8 L662.31 351.38 L663.88 350.65 L666.48 351.38 L668.55 350.42 L671.15 350.42 L673.26 351.38 L672.72 353.8 L670.66 356.22 L668.55 357.18 L669.09 359.61 L668.06 361.57 L666.97 363.99 L665.45 363.99 L664.37 362.03 L662.85 361.07 L660.24 360.11 L657.1 359.61 L654.5 359.15Z" fill="#D4D4D4" fill-rule="evenodd"/>
<path d="M674.84 353.8 L677.44 352.34 L681.07 352.84 L683.14 353.8 L681.07 355.27 L679.5 358.14 L681.07 359.61 L684.22 360.57 L686.28 360.11 L686.82 362.03 L683.14 363.03 L679.5 363.03 L677.44 361.57 L675.87 359.15 L674.84 356.73Z" fill="#fff" fill-opacity="0.85"/>
<path d="M665.18 353.06h0M662.97 359.43h0M659.53 359.82h0M661.03 356.82h0M660.25 359.07h0M662.26 354.55h0M667.09 359.44h0M670.99 355.78h0M661.28 356.16h0M661.77 359.5h0M664.29 355.11h0M668.02 355.34h0M666.55 356.87h0M667.3 359.7h0" stroke="#D4D4D4" stroke-width="0.54" stroke-linecap="round"/>
<path d="M676.61 358.93h0M676.87 359.96h0M679.36 354.77h0M677.5 358.01h0M676.58 358.98h0M677.79 353.32h0M678.83 359.69h0M680.95 360.34h0M680 356.6h0M677.32 358.64h0M682.85 361.85h0M680.47 362.47h0M680.2 359.03h0M679.52 360.29h0M682.03 362.13h0M679.61 362.37h0M677.89 359.66h0M680.2 359.43h0M677.48 356.78h0M676.55 357.47h0M677.59 353.2h0M679.5 353.95h0M676.26 353.95h0M679.84 355.74h0M677.75 354.35h0M678.4 360.29h0M677.25 357.32h0M684.51 361.21h0M680.38 361.35h0M675.95 354.16h0" stroke="#D4D4D4" stroke-width="0.54" stroke-linecap="round"/>
<ellipse cx="679.8" cy="334.93" rx="2.6" ry="1.05" fill="#D4D4D4" transform="rotate(-8 679.8 334.93)"/>
<path d="M705 310.62 L707.36 309.24 L710.9 309.24 L714.39 311.16 L717.33 315 L717.92 317.15 L716.15 319.07 L717.33 319.89 L721.46 320.44 L723.47 322.63 L723.47 324.83 L722.59 328.07 L720.87 331.36 L720.28 332.73 L717.92 331.36 L716.15 330.82 L714.39 332.46 L712.08 332.19 L711.49 329.72 L710.9 328.9 L705.89 329.17 L705.3 331.36 L704.41 334.61 L703.28 336.25 L700.33 333.56 L697.39 330.27 L695.62 326.98 L695.03 324.28 L698.57 323.46 L702.1 322.63 L703.53 322.09 L704.41 320.44 L704.12 318.8 L702.99 317.7 L704.12 316.37 L704.71 312.81Z M703.82 322.36 L707.36 322.09 L711.49 322.91 L711.78 324.83 L711.49 328.07 L705.89 328.35 L705.3 325.88 L704.12 323.73Z" fill="#D4D4D4" fill-rule="evenodd"/>
<path d="M720.18 355.77 L722.84 356.64 L725.44 357.32 L727.75 357.69 L729.62 357 L731.48 356.82 L733.01 358.05 L733.74 360.48 L733.01 362.58 L731.48 365.05 L729.62 367.15 L727.75 369.62 L726.62 372.4 L725.83 374.87 L725.44 378.39 L725.83 381.54 L726.62 384.38 L725.83 385.75 L724.31 386.11 L722.05 384.38 L719.45 382.59 L717.92 380.86 L718.86 376.65 L720.92 374.55 L720.18 372.77 L719.05 371.72 L717.53 369.98 L715.66 368.2 L714.73 365.41 L714.53 362.58 L715.47 360.16 L716.79 358.37 L718.66 356.64Z" fill="#D4D4D4" />
<path d="M675.33 395.02 L676.51 395.85 L677.39 397.22 L678.52 395.85 L679.99 397.49 L681.17 398.59 L682.94 399.69 L685.3 398.59 L687.31 396.94 L687.9 393.93 L688.69 393.93 L689.08 397.49 L690.85 399.69 L692.03 401.83 L691.74 403.48 L690.56 405.67 L687.61 407.59 L683.53 408.96 L679.99 407.87 L677.68 405.67 L676.21 402.38 L675.33 398.04Z" fill="#D4D4D4" />
<path d="M676.51 349.32 L677.73 347.04 L678.96 345.21 L680.44 344.98 L680.93 346.35 L679.45 348.41 L677.49 350.01Z" fill="#D4D4D4" />
<path d="M703.28 348.87 L704.51 348.41 L705.49 348.64 L706.28 350.01 L705.74 350.88 L704.51 350.47 L703.53 350.79Z" fill="#D4D4D4" />
<ellipse cx="702" cy="373.18" rx="3.68" ry="3.11" fill="#D4D4D4"/>
<path d="M697.39 367.83 L698.37 367.6 L699.6 370.35 L698.12 370.8Z" fill="#D4D4D4" />
<line x1="706.13" y1="372.36" x2="709.03" y2="369.34" stroke="#D4D4D4" stroke-width="1.28" stroke-linecap="round"/>
<line x1="729.22" y1="313.91" x2="731.19" y2="311.85" stroke="#D4D4D4" stroke-width="0.88" stroke-linecap="round"/>
<line x1="701.37" y1="348.41" x2="703.68" y2="349.14" stroke="#D4D4D4" stroke-width="0.79" stroke-linecap="round"/>
<ellipse cx="722.98" cy="347.95" rx="0.69" ry="1.18" fill="#D4D4D4"/>
<circle cx="693.7" cy="326.47" r="0.79" fill="#D4D4D4"/>
<circle cx="695.18" cy="325.79" r="0.69" fill="#D4D4D4"/>
<circle cx="697.14" cy="323.27" r="0.59" fill="#D4D4D4"/>
<circle cx="698.61" cy="322.82" r="0.59" fill="#D4D4D4"/>
<circle cx="700.09" cy="322.36" r="0.59" fill="#D4D4D4"/>
<circle cx="702.55" cy="321.68" r="0.64" fill="#D4D4D4"/>
<circle cx="703.28" cy="320.08" r="0.54" fill="#D4D4D4"/>
<circle cx="720.72" cy="330.59" r="0.49" fill="#D4D4D4"/>
<circle cx="722.2" cy="327.39" r="0.49" fill="#D4D4D4"/>
<circle cx="707.46" cy="330.82" r="0.44" fill="#D4D4D4"/>
<circle cx="708.69" cy="382.69" r="0.44" fill="#D4D4D4"/>
<circle cx="709.67" cy="381.77" r="0.44" fill="#D4D4D4"/>
<circle cx="710.65" cy="382.46" r="0.44" fill="#D4D4D4"/>
<circle cx="709.18" cy="383.6" r="0.44" fill="#D4D4D4"/>
<path d="M703.28 348.87 L704.51 348.41 L705.49 348.64 L706.28 350.01 L705.74 350.88 L704.51 350.47 L703.53 350.79Z" fill="#E8452C" />
<line x1="630.5" y1="302.3" x2="630.5" y2="417.57" stroke="#444" stroke-width="0.55" />
<line x1="630.23" y1="417.3" x2="737.5" y2="417.3" stroke="#444" stroke-width="0.55" />
<line x1="629.4" y1="314.5" x2="630.5" y2="314.5" stroke="#444" stroke-width="0.45" />
<text x="628.9" y="315.7" font-size="3.4" text-anchor="end" font-weight="normal" fill="#555" >10</text>
<line x1="629.4" y1="353.3" x2="630.5" y2="353.3" stroke="#444" stroke-width="0.45" />
<text x="628.9" y="354.5" font-size="3.4" text-anchor="end" font-weight="normal" fill="#555" >0</text>
<line x1="629.4" y1="392.1" x2="630.5" y2="392.1" stroke="#444" stroke-width="0.45" />
<text x="628.9" y="393.3" font-size="3.4" text-anchor="end" font-weight="normal" fill="#555" >-10</text>
<line x1="631.6" y1="417.3" x2="631.6" y2="418.4" stroke="#444" stroke-width="0.45" />
<text x="631.6" y="421.9" font-size="3.4" text-anchor="middle" font-weight="normal" fill="#555" >-10</text>
<line x1="652.8" y1="417.3" x2="652.8" y2="418.4" stroke="#444" stroke-width="0.45" />
<text x="652.8" y="421.9" font-size="3.4" text-anchor="middle" font-weight="normal" fill="#555" >-5</text>
<line x1="674" y1="417.3" x2="674" y2="418.4" stroke="#444" stroke-width="0.45" />
<text x="674" y="421.9" font-size="3.4" text-anchor="middle" font-weight="normal" fill="#555" >0</text>
<line x1="695.2" y1="417.3" x2="695.2" y2="418.4" stroke="#444" stroke-width="0.45" />
<text x="695.2" y="421.9" font-size="3.4" text-anchor="middle" font-weight="normal" fill="#555" >5</text>
<line x1="716.4" y1="417.3" x2="716.4" y2="418.4" stroke="#444" stroke-width="0.45" />
<text x="716.4" y="421.9" font-size="3.4" text-anchor="middle" font-weight="normal" fill="#555" >10</text>
<line x1="737.6" y1="417.3" x2="737.6" y2="418.4" stroke="#444" stroke-width="0.45" />
<text x="737.6" y="421.9" font-size="3.4" text-anchor="middle" font-weight="normal" fill="#555" >15</text>
<text x="684" y="427.5" font-size="4.5" text-anchor="middle" font-weight="normal" fill="#666" >UMAP_1</text>
<text x="0" y="0" font-size="4.5" text-anchor="middle" font-weight="normal" fill="#666" transform="translate(621.9 360.3) rotate(-90)">UMAP_2</text>
<text x="684.4" y="298.7" font-size="5.0" text-anchor="middle" font-weight="bold" fill="#111" >CPA3</text>
<rect x="742" y="349.4" width="4.5" height="22.1" fill="url(#cb)"/>
<text x="0" y="0" font-size="4.0" text-anchor="middle" font-weight="normal" fill="#444" transform="translate(748.4 370.7) rotate(90)">0</text>
<text x="0" y="0" font-size="4.0" text-anchor="middle" font-weight="normal" fill="#444" transform="translate(748.4 365.57) rotate(90)">1</text>
<text x="0" y="0" font-size="4.0" text-anchor="middle" font-weight="normal" fill="#444" transform="translate(748.4 360.45) rotate(90)">2</text>
<text x="0" y="0" font-size="4.0" text-anchor="middle" font-weight="normal" fill="#444" transform="translate(748.4 355.32) rotate(90)">3</text>
<text x="0" y="0" font-size="4.0" text-anchor="middle" font-weight="normal" fill="#444" transform="translate(748.4 350.2) rotate(90)">4</text>
<path d="M376.85 465.98 L380.43 463.59 L384.05 461.7 L388.64 460.25 L393.77 459.3 L396.47 459.3 L400.58 459.98 L403.67 461.92 L404.93 463.59 L402.61 464.31 L400.05 465.76 L398.02 467.65 L396.47 470.54 L394.93 474.37 L393.91 478.21 L392.9 482 L396.47 483.57 L399.03 485.97 L401.59 488.85 L403.91 490.97 L406.72 492.69 L410.82 493.63 L412.9 493.14 L415.95 491.24 L418.51 488.85 L420.49 487.41 L423.05 486.46 L426.14 486.01 L426.62 483.76 L427.59 484.21 L428.56 483.53 L429.28 484.66 L429.72 485.51 L431.75 484.79 L433.29 485.51 L433.29 486.46 L431.75 487.63 L429.72 487.91 L426.62 487.41 L424.06 487.91 L421.5 489.3 L420.25 492.19 L419.96 495.53 L421.02 499.36 L422.03 502.7 L422.52 506.54 L423.58 509.92 L423 509.87 L421.07 509.24 L417.25 509.56 L413.38 511.68 L410.82 514.34 L406.96 516.46 L402.46 517.95 L397.34 519.75 L393.53 521.51 L389.66 522.15 L385.17 520.61 L380.72 517.63 L376.85 514.66 L375.84 513.57 L373.28 511.18 L370.19 509.78 L366.61 508.34 L364.05 506.4 L362.75 502.57 L363.04 499.23 L364.53 496.39 L367.14 494.94 L370.19 494.94 L373.28 495.17 L375.31 493.5 L374.54 490.61 L374.29 485.83 L375.31 482 L376.85 477.21 L377.87 474.82 L377.1 470.54 L375.84 468.15Z M380.29 499.63 L382.36 498.19 L385.41 497.24 L387.97 496.3 L388.5 493.91 L390.05 493.18 L392.61 493.91 L394.64 492.96 L397.2 492.96 L399.28 493.91 L398.74 496.3 L396.71 498.69 L394.64 499.63 L395.17 502.03 L394.15 503.97 L393.09 506.36 L391.59 506.36 L390.53 504.42 L389.03 503.47 L386.47 502.52 L383.38 502.03 L380.82 501.57Z" fill="#D4D4D4" fill-rule="evenodd"/>
<path d="M400.82 496.3 L403.38 494.85 L406.96 495.35 L408.99 496.3 L406.96 497.74 L405.41 500.58 L406.96 502.03 L410.05 502.97 L412.08 502.52 L412.61 504.42 L408.99 505.41 L405.41 505.41 L403.38 503.97 L401.84 501.57 L400.82 499.18Z" fill="#fff" fill-opacity="0.85"/>
<path d="M391.32 495.57h0M389.16 501.85h0M385.76 502.24h0M387.25 499.28h0M386.48 501.5h0M388.45 497.03h0M393.2 501.86h0M397.04 498.25h0M387.49 498.62h0M387.97 501.92h0M390.45 497.59h0M394.12 497.82h0M392.67 499.32h0M393.41 502.12h0" stroke="#D4D4D4" stroke-width="0.53" stroke-linecap="round"/>
<path d="M402.57 501.35h0M402.82 502.37h0M405.27 497.25h0M403.44 500.45h0M402.54 501.41h0M403.73 495.82h0M404.75 502.11h0M406.83 502.74h0M405.9 499.06h0M403.27 501.07h0M408.71 504.24h0M406.36 504.86h0M406.09 501.46h0M405.43 502.7h0M407.9 504.51h0M405.52 504.75h0M403.82 502.08h0M406.1 501.85h0M403.42 499.23h0M402.51 499.92h0M403.53 495.7h0M405.41 496.44h0M402.22 496.44h0M405.75 498.21h0M403.69 496.84h0M404.32 502.7h0M403.2 499.76h0M410.33 503.61h0M406.27 503.75h0M401.92 496.65h0" stroke="#D4D4D4" stroke-width="0.53" stroke-linecap="round"/>
<ellipse cx="405.7" cy="477.67" rx="2.56" ry="1.04" fill="#D4D4D4" transform="rotate(-8 405.7 477.67)"/>
<path d="M430.49 453.67 L432.81 452.31 L436.29 452.31 L439.72 454.21 L442.62 458 L443.2 460.12 L441.46 462.01 L442.62 462.82 L446.68 463.36 L448.66 465.53 L448.66 467.7 L447.79 470.9 L446.1 474.15 L445.52 475.5 L443.2 474.15 L441.46 473.6 L439.72 475.23 L437.45 474.96 L436.87 472.52 L436.29 471.71 L431.36 471.98 L430.78 474.15 L429.91 477.35 L428.8 478.97 L425.9 476.31 L423 473.06 L421.26 469.82 L420.68 467.15 L424.16 466.34 L427.64 465.53 L429.04 464.99 L429.91 463.36 L429.62 461.74 L428.51 460.66 L429.62 459.35 L430.2 455.83Z M429.33 465.26 L432.81 464.99 L436.87 465.8 L437.16 467.7 L436.87 470.9 L431.36 471.17 L430.78 468.73 L429.62 466.61Z" fill="#D4D4D4" fill-rule="evenodd"/>
<path d="M445.42 498.24 L448.03 499.09 L450.59 499.77 L452.86 500.13 L454.7 499.45 L456.53 499.27 L458.03 500.49 L458.76 502.88 L458.03 504.96 L456.53 507.39 L454.7 509.47 L452.86 511.9 L451.75 514.66 L450.98 517.09 L450.59 520.57 L450.98 523.68 L451.75 526.48 L450.98 527.83 L449.48 528.19 L447.26 526.48 L444.7 524.72 L443.2 523 L444.12 518.85 L446.15 516.78 L445.42 515.02 L444.31 513.98 L442.81 512.27 L440.98 510.51 L440.06 507.75 L439.86 504.96 L440.78 502.57 L442.09 500.81 L443.92 499.09Z" fill="#D4D4D4" />
<path d="M401.3 536.99 L402.46 537.8 L403.33 539.15 L404.45 537.8 L405.9 539.42 L407.05 540.51 L408.79 541.59 L411.11 540.51 L413.09 538.88 L413.67 535.9 L414.45 535.9 L414.83 539.42 L416.57 541.59 L417.73 543.71 L417.44 545.33 L416.28 547.5 L413.38 549.39 L409.37 550.75 L405.9 549.66 L403.62 547.5 L402.17 544.25 L401.3 539.96Z" fill="#D4D4D4" />
<path d="M402.46 491.88 L403.67 489.62 L404.88 487.82 L406.33 487.59 L406.81 488.94 L405.36 490.97 L403.43 492.55Z" fill="#D4D4D4" />
<path d="M428.8 491.42 L430.01 490.97 L430.97 491.2 L431.75 492.55 L431.21 493.41 L430.01 493 L429.04 493.32Z" fill="#D4D4D4" />
<ellipse cx="427.54" cy="515.42" rx="3.62" ry="3.07" fill="#D4D4D4"/>
<path d="M423 510.15 L423.97 509.92 L425.17 512.63 L423.73 513.08Z" fill="#D4D4D4" />
<line x1="431.6" y1="514.61" x2="434.45" y2="511.63" stroke="#D4D4D4" stroke-width="1.26" stroke-linecap="round"/>
<line x1="454.31" y1="456.91" x2="456.24" y2="454.88" stroke="#D4D4D4" stroke-width="0.87" stroke-linecap="round"/>
<line x1="426.91" y1="490.97" x2="429.19" y2="491.69" stroke="#D4D4D4" stroke-width="0.77" stroke-linecap="round"/>
<ellipse cx="448.17" cy="490.52" rx="0.68" ry="1.16" fill="#D4D4D4"/>
<circle cx="419.38" cy="469.32" r="0.77" fill="#D4D4D4"/>
<circle cx="420.83" cy="468.64" r="0.68" fill="#D4D4D4"/>
<circle cx="422.76" cy="466.16" r="0.58" fill="#D4D4D4"/>
<circle cx="424.21" cy="465.71" r="0.58" fill="#D4D4D4"/>
<circle cx="425.66" cy="465.26" r="0.58" fill="#D4D4D4"/>
<circle cx="428.07" cy="464.58" r="0.63" fill="#D4D4D4"/>
<circle cx="428.8" cy="463" r="0.53" fill="#D4D4D4"/>
<circle cx="445.95" cy="473.38" r="0.48" fill="#D4D4D4"/>
<circle cx="447.4" cy="470.22" r="0.48" fill="#D4D4D4"/>
<circle cx="432.91" cy="473.6" r="0.43" fill="#D4D4D4"/>
<circle cx="434.11" cy="524.81" r="0.43" fill="#D4D4D4"/>
<circle cx="435.08" cy="523.9" r="0.43" fill="#D4D4D4"/>
<circle cx="436.05" cy="524.58" r="0.43" fill="#D4D4D4"/>
<circle cx="434.6" cy="525.71" r="0.43" fill="#D4D4D4"/>
<path d="M376.85 465.98 L380.43 463.59 L384.05 461.7 L388.64 460.25 L393.77 459.3 L396.47 459.3 L400.58 459.98 L403.67 461.92 L404.93 463.59 L402.61 464.31 L400.05 465.76 L398.02 467.65 L396.47 470.54 L394.93 474.37 L393.91 478.21 L392.9 482 L396.47 483.57 L399.03 485.97 L401.59 488.85 L403.91 490.97 L406.72 492.69 L410.82 493.63 L412.9 493.14 L415.95 491.24 L418.51 488.85 L420.49 487.41 L423.05 486.46 L426.14 486.01 L426.62 483.76 L427.59 484.21 L428.56 483.53 L429.28 484.66 L429.72 485.51 L431.75 484.79 L433.29 485.51 L433.29 486.46 L431.75 487.63 L429.72 487.91 L426.62 487.41 L424.06 487.91 L421.5 489.3 L420.25 492.19 L419.96 495.53 L421.02 499.36 L422.03 502.7 L422.52 506.54 L423.58 509.92 L423 509.87 L421.07 509.24 L417.25 509.56 L413.38 511.68 L410.82 514.34 L406.96 516.46 L402.46 517.95 L397.34 519.75 L393.53 521.51 L389.66 522.15 L385.17 520.61 L380.72 517.63 L376.85 514.66 L375.84 513.57 L373.28 511.18 L370.19 509.78 L366.61 508.34 L364.05 506.4 L362.75 502.57 L363.04 499.23 L364.53 496.39 L367.14 494.94 L370.19 494.94 L373.28 495.17 L375.31 493.5 L374.54 490.61 L374.29 485.83 L375.31 482 L376.85 477.21 L377.87 474.82 L377.1 470.54 L375.84 468.15Z M380.29 499.63 L382.36 498.19 L385.41 497.24 L387.97 496.3 L388.5 493.91 L390.05 493.18 L392.61 493.91 L394.64 492.96 L397.2 492.96 L399.28 493.91 L398.74 496.3 L396.71 498.69 L394.64 499.63 L395.17 502.03 L394.15 503.97 L393.09 506.36 L391.59 506.36 L390.53 504.42 L389.03 503.47 L386.47 502.52 L383.38 502.03 L380.82 501.57Z" fill="#E6694F" fill-rule="evenodd"/>
<path d="M400.82 496.3 L403.38 494.85 L406.96 495.35 L408.99 496.3 L406.96 497.74 L405.41 500.58 L406.96 502.03 L410.05 502.97 L412.08 502.52 L412.61 504.42 L408.99 505.41 L405.41 505.41 L403.38 503.97 L401.84 501.57 L400.82 499.18Z" fill="#fff" fill-opacity="0.85"/>
<ellipse cx="405.7" cy="477.67" rx="2.6" ry="1" fill="#E6694F" transform="rotate(-8 405.7 477.67)"/>
<path d="M430.49 453.67 L432.81 452.31 L436.29 452.31 L439.72 454.21 L442.62 458 L443.2 460.12 L441.46 462.01 L442.62 462.82 L446.68 463.36 L448.66 465.53 L448.66 467.7 L447.79 470.9 L446.1 474.15 L445.52 475.5 L443.2 474.15 L441.46 473.6 L439.72 475.23 L437.45 474.96 L436.87 472.52 L436.29 471.71 L431.36 471.98 L430.78 474.15 L429.91 477.35 L428.8 478.97 L425.9 476.31 L423 473.06 L421.26 469.82 L420.68 467.15 L424.16 466.34 L427.64 465.53 L429.04 464.99 L429.91 463.36 L429.62 461.74 L428.51 460.66 L429.62 459.35 L430.2 455.83Z M429.33 465.26 L432.81 464.99 L436.87 465.8 L437.16 467.7 L436.87 470.9 L431.36 471.17 L430.78 468.73 L429.62 466.61Z" fill="#DFB5AB" fill-rule="evenodd"/>
<path d="M446.69 512.63h0M447.74 511.62h0M447.6 517.94h0M440.06 507.28h0M446.19 502.49h0M453.91 507.53h0M451.71 507.11h0M444.1 507.52h0M444.74 521.83h0M446.43 510.91h0M445.4 499.55h0M444.3 502.86h0M445.61 512.04h0M451.45 513.19h0M444.25 510.4h0M446.84 514.39h0M452.32 510.22h0M445.9 513.55h0M444.17 501.26h0M441.62 501.88h0" stroke="#E9A996" stroke-width="0.7" stroke-linecap="round"/>
<path d="M401.3 536.99 L402.46 537.8 L403.33 539.15 L404.16 540.82 L402.95 541.95 L401.74 540.6Z" fill="#E66A50" />
<path d="M412.43 547.55h0M409.86 543.5h0M405.59 539.77h0M403.07 540.74h0M406.42 544.35h0M404.63 543.96h0M407.69 546.79h0M414.5 542.06h0M413.72 541.78h0M412.12 540.34h0M405.13 544h0M413.32 547.8h0M408.77 543.02h0M403.27 543.03h0M409.52 541.38h0M401.73 541.49h0M403.17 546.37h0M405.97 541.89h0M413.39 542.75h0M406.25 545.96h0M402.05 539.01h0M412.6 547.07h0M409.61 545.65h0M404.12 540.15h0M411.5 548.95h0" stroke="#EAA08C" stroke-width="0.7" stroke-linecap="round"/>
<line x1="357.7" y1="445.2" x2="357.7" y2="557.98" stroke="#444" stroke-width="0.55" />
<line x1="357.43" y1="557.7" x2="462.9" y2="557.7" stroke="#444" stroke-width="0.55" />
<line x1="356.6" y1="457.5" x2="357.7" y2="457.5" stroke="#444" stroke-width="0.45" />
<text x="356.1" y="458.7" font-size="3.4" text-anchor="end" font-weight="normal" fill="#555" >10</text>
<line x1="356.6" y1="495.8" x2="357.7" y2="495.8" stroke="#444" stroke-width="0.45" />
<text x="356.1" y="497" font-size="3.4" text-anchor="end" font-weight="normal" fill="#555" >0</text>
<line x1="356.6" y1="534.1" x2="357.7" y2="534.1" stroke="#444" stroke-width="0.45" />
<text x="356.1" y="535.3" font-size="3.4" text-anchor="end" font-weight="normal" fill="#555" >-10</text>
<line x1="358.3" y1="557.7" x2="358.3" y2="558.8" stroke="#444" stroke-width="0.45" />
<text x="358.3" y="562.3" font-size="3.4" text-anchor="middle" font-weight="normal" fill="#555" >-10</text>
<line x1="379.15" y1="557.7" x2="379.15" y2="558.8" stroke="#444" stroke-width="0.45" />
<text x="379.15" y="562.3" font-size="3.4" text-anchor="middle" font-weight="normal" fill="#555" >-5</text>
<line x1="400" y1="557.7" x2="400" y2="558.8" stroke="#444" stroke-width="0.45" />
<text x="400" y="562.3" font-size="3.4" text-anchor="middle" font-weight="normal" fill="#555" >0</text>
<line x1="420.85" y1="557.7" x2="420.85" y2="558.8" stroke="#444" stroke-width="0.45" />
<text x="420.85" y="562.3" font-size="3.4" text-anchor="middle" font-weight="normal" fill="#555" >5</text>
<line x1="441.7" y1="557.7" x2="441.7" y2="558.8" stroke="#444" stroke-width="0.45" />
<text x="441.7" y="562.3" font-size="3.4" text-anchor="middle" font-weight="normal" fill="#555" >10</text>
<line x1="462.55" y1="557.7" x2="462.55" y2="558.8" stroke="#444" stroke-width="0.45" />
<text x="462.55" y="562.3" font-size="3.4" text-anchor="middle" font-weight="normal" fill="#555" >15</text>
<text x="410.3" y="567.9" font-size="4.5" text-anchor="middle" font-weight="normal" fill="#666" >UMAP_1</text>
<text x="0" y="0" font-size="4.5" text-anchor="middle" font-weight="normal" fill="#666" transform="translate(349.1 501.95) rotate(-90)">UMAP_2</text>
<text x="410.4" y="441.8" font-size="5.0" text-anchor="middle" font-weight="bold" fill="#111" >CSF3R</text>
<rect x="467.3" y="491.3" width="3.9" height="22.2" fill="url(#cb)"/>
<text x="0" y="0" font-size="4.0" text-anchor="middle" font-weight="normal" fill="#444" transform="translate(473.1 512.7) rotate(90)">0</text>
<text x="0" y="0" font-size="4.0" text-anchor="middle" font-weight="normal" fill="#444" transform="translate(473.1 508.58) rotate(90)">1</text>
<text x="0" y="0" font-size="4.0" text-anchor="middle" font-weight="normal" fill="#444" transform="translate(473.1 504.46) rotate(90)">2</text>
<text x="0" y="0" font-size="4.0" text-anchor="middle" font-weight="normal" fill="#444" transform="translate(473.1 500.34) rotate(90)">3</text>
<text x="0" y="0" font-size="4.0" text-anchor="middle" font-weight="normal" fill="#444" transform="translate(473.1 496.22) rotate(90)">4</text>
<text x="0" y="0" font-size="4.0" text-anchor="middle" font-weight="normal" fill="#444" transform="translate(473.1 492.1) rotate(90)">5</text>
<path d="M513.8 467 L517.31 464.66 L520.86 462.81 L525.36 461.39 L530.39 460.47 L533.04 460.47 L537.07 461.13 L540.1 463.03 L541.33 464.66 L539.06 465.37 L536.55 466.78 L534.56 468.64 L533.04 471.47 L531.52 475.22 L530.53 478.97 L529.53 482.68 L533.04 484.23 L535.55 486.57 L538.06 489.4 L540.34 491.47 L543.09 493.15 L547.12 494.08 L549.15 493.59 L552.14 491.74 L554.65 489.4 L556.59 487.98 L559.11 487.06 L562.14 486.62 L562.61 484.41 L563.56 484.85 L564.51 484.19 L565.22 485.29 L565.65 486.13 L567.64 485.42 L569.15 486.13 L569.15 487.06 L567.64 488.21 L565.65 488.47 L562.61 487.98 L560.1 488.47 L557.59 489.84 L556.36 492.67 L556.07 495.93 L557.12 499.69 L558.11 502.96 L558.59 506.71 L559.63 510.03 L559.06 509.98 L557.16 509.36 L553.42 509.67 L549.63 511.75 L547.12 514.35 L543.32 516.43 L538.92 517.89 L533.89 519.65 L530.15 521.38 L526.36 522 L521.95 520.49 L517.59 517.58 L513.8 514.66 L512.8 513.6 L510.29 511.26 L507.26 509.89 L503.75 508.48 L501.24 506.58 L499.96 502.83 L500.24 499.56 L501.71 496.77 L504.27 495.36 L507.26 495.36 L510.29 495.58 L512.28 493.95 L511.52 491.12 L511.29 486.44 L512.28 482.68 L513.8 478 L514.79 475.66 L514.04 471.47 L512.8 469.12Z M517.16 499.95 L519.2 498.54 L522.19 497.61 L524.7 496.69 L525.22 494.34 L526.74 493.64 L529.25 494.34 L531.24 493.42 L533.75 493.42 L535.79 494.34 L535.27 496.69 L533.28 499.03 L531.24 499.95 L531.76 502.3 L530.77 504.19 L529.72 506.54 L528.25 506.54 L527.21 504.64 L525.74 503.71 L523.23 502.78 L520.2 502.3 L517.69 501.85Z" fill="#D4D4D4" fill-rule="evenodd"/>
<path d="M537.31 496.69 L539.82 495.27 L543.32 495.76 L545.32 496.69 L543.32 498.1 L541.81 500.88 L543.32 502.3 L546.36 503.22 L548.35 502.78 L548.87 504.64 L545.32 505.61 L541.81 505.61 L539.82 504.19 L538.3 501.85 L537.31 499.51Z" fill="#fff" fill-opacity="0.85"/>
<path d="M527.99 495.97h0M525.86 502.12h0M522.54 502.5h0M523.99 499.61h0M523.24 501.78h0M525.18 497.41h0M529.83 502.14h0M533.6 498.59h0M524.23 498.97h0M524.7 502.19h0M527.13 497.95h0M530.73 498.18h0M529.31 499.65h0M530.04 502.38h0" stroke="#D4D4D4" stroke-width="0.52" stroke-linecap="round"/>
<path d="M539.02 501.64h0M539.27 502.64h0M541.67 497.62h0M539.87 500.75h0M538.99 501.69h0M540.16 496.22h0M541.16 502.38h0M543.2 503h0M542.29 499.39h0M539.7 501.36h0M545.04 504.46h0M542.74 505.07h0M542.48 501.74h0M541.82 502.95h0M544.25 504.73h0M541.91 504.96h0M540.25 502.35h0M542.48 502.12h0M539.86 499.56h0M538.96 500.23h0M539.96 496.11h0M541.81 496.82h0M538.68 496.83h0M542.14 498.56h0M540.12 497.22h0M540.74 502.96h0M539.64 500.08h0M546.63 503.85h0M542.65 503.98h0M538.38 497.03h0" stroke="#D4D4D4" stroke-width="0.52" stroke-linecap="round"/>
<ellipse cx="542.09" cy="478.44" rx="2.51" ry="1.02" fill="#D4D4D4" transform="rotate(-8 542.09 478.44)"/>
<path d="M566.4 454.95 L568.68 453.62 L572.09 453.62 L575.46 455.48 L578.3 459.19 L578.87 461.26 L577.16 463.12 L578.3 463.91 L582.28 464.44 L584.22 466.56 L584.22 468.68 L583.37 471.82 L581.71 475 L581.14 476.32 L578.87 475 L577.16 474.47 L575.46 476.06 L573.23 475.79 L572.66 473.41 L572.09 472.61 L567.26 472.88 L566.69 475 L565.84 478.13 L564.75 479.72 L561.9 477.12 L559.06 473.94 L557.35 470.76 L556.78 468.15 L560.2 467.36 L563.61 466.56 L564.98 466.03 L565.84 464.44 L565.55 462.85 L564.46 461.79 L565.55 460.51 L566.12 457.07Z M565.27 466.3 L568.68 466.03 L572.66 466.83 L572.95 468.68 L572.66 471.82 L567.26 472.08 L566.69 469.7 L565.55 467.62Z" fill="#D4D4D4" fill-rule="evenodd"/>
<path d="M581.05 498.59 L583.61 499.42 L586.12 500.09 L588.35 500.44 L590.15 499.78 L591.95 499.6 L593.42 500.79 L594.13 503.13 L593.42 505.17 L591.95 507.55 L590.15 509.58 L588.35 511.97 L587.26 514.66 L586.5 517.05 L586.12 520.45 L586.5 523.5 L587.26 526.24 L586.5 527.56 L585.03 527.91 L582.85 526.24 L580.34 524.51 L578.87 522.83 L579.77 518.77 L581.76 516.74 L581.05 515.02 L579.96 514 L578.49 512.32 L576.69 510.6 L575.79 507.9 L575.6 505.17 L576.5 502.83 L577.78 501.1 L579.58 499.42Z" fill="#D4D4D4" />
<path d="M537.78 536.53 L538.92 537.32 L539.77 538.65 L540.86 537.32 L542.28 538.91 L543.42 539.97 L545.13 541.03 L547.4 539.97 L549.34 538.38 L549.91 535.47 L550.67 535.47 L551.05 538.91 L552.76 541.03 L553.89 543.11 L553.61 544.7 L552.47 546.82 L549.63 548.67 L545.69 550 L542.28 548.94 L540.05 546.82 L538.63 543.64 L537.78 539.44Z" fill="#D4D4D4" />
<path d="M538.92 492.36 L540.1 490.15 L541.29 488.38 L542.71 488.16 L543.18 489.49 L541.76 491.47 L539.86 493.02Z" fill="#D4D4D4" />
<path d="M564.75 491.92 L565.93 491.47 L566.88 491.69 L567.64 493.02 L567.12 493.86 L565.93 493.46 L564.98 493.77Z" fill="#D4D4D4" />
<ellipse cx="563.51" cy="515.41" rx="3.55" ry="3" fill="#D4D4D4"/>
<path d="M559.06 510.25 L560.01 510.03 L561.19 512.68 L559.77 513.12Z" fill="#D4D4D4" />
<line x1="567.49" y1="514.62" x2="570.29" y2="511.7" stroke="#D4D4D4" stroke-width="1.23" stroke-linecap="round"/>
<line x1="589.77" y1="458.13" x2="591.67" y2="456.14" stroke="#D4D4D4" stroke-width="0.85" stroke-linecap="round"/>
<line x1="562.9" y1="491.47" x2="565.13" y2="492.18" stroke="#D4D4D4" stroke-width="0.76" stroke-linecap="round"/>
<ellipse cx="583.75" cy="491.03" rx="0.66" ry="1.14" fill="#D4D4D4"/>
<circle cx="555.5" cy="470.27" r="0.76" fill="#D4D4D4"/>
<circle cx="556.93" cy="469.61" r="0.66" fill="#D4D4D4"/>
<circle cx="558.82" cy="467.18" r="0.57" fill="#D4D4D4"/>
<circle cx="560.24" cy="466.74" r="0.57" fill="#D4D4D4"/>
<circle cx="561.67" cy="466.3" r="0.57" fill="#D4D4D4"/>
<circle cx="564.04" cy="465.63" r="0.62" fill="#D4D4D4"/>
<circle cx="564.75" cy="464.09" r="0.52" fill="#D4D4D4"/>
<circle cx="581.57" cy="474.25" r="0.47" fill="#D4D4D4"/>
<circle cx="582.99" cy="471.16" r="0.47" fill="#D4D4D4"/>
<circle cx="568.77" cy="474.47" r="0.43" fill="#D4D4D4"/>
<circle cx="569.96" cy="524.6" r="0.43" fill="#D4D4D4"/>
<circle cx="570.91" cy="523.72" r="0.43" fill="#D4D4D4"/>
<circle cx="571.86" cy="524.38" r="0.43" fill="#D4D4D4"/>
<circle cx="570.43" cy="525.48" r="0.43" fill="#D4D4D4"/>
<path d="M566.4 454.95 L568.68 453.62 L572.09 453.62 L575.46 455.48 L578.3 459.19 L578.87 461.26 L577.16 463.12 L578.3 463.91 L582.28 464.44 L584.22 466.56 L584.22 468.68 L583.37 471.82 L581.71 475 L581.14 476.32 L578.87 475 L577.16 474.47 L575.46 476.06 L573.23 475.79 L572.66 473.41 L572.09 472.61 L567.26 472.88 L566.69 475 L565.84 478.13 L564.75 479.72 L561.9 477.12 L559.06 473.94 L557.35 470.76 L556.78 468.15 L560.2 467.36 L563.61 466.56 L564.98 466.03 L565.84 464.44 L565.55 462.85 L564.46 461.79 L565.55 460.51 L566.12 457.07Z M565.27 466.3 L568.68 466.03 L572.66 466.83 L572.95 468.68 L572.66 471.82 L567.26 472.08 L566.69 469.7 L565.55 467.62Z" fill="#E57158" fill-rule="evenodd"/>
<path d="M513.8 467 L517.31 464.66 L520.86 462.81 L525.36 461.39 L530.39 460.47 L533.04 460.47 L537.07 461.13 L540.1 463.03 L541.33 464.66 L539.06 465.37 L536.55 466.78 L534.56 468.64 L533.04 471.47 L531.52 475.22 L530.53 478.97 L529.53 482.68 L533.04 484.23 L535.55 486.57 L538.06 489.4 L540.34 491.47 L543.09 493.15 L547.12 494.08 L549.15 493.59 L552.14 491.74 L554.65 489.4 L556.59 487.98 L559.11 487.06 L562.14 486.62 L562.61 484.41 L563.56 484.85 L564.51 484.19 L565.22 485.29 L565.65 486.13 L567.64 485.42 L569.15 486.13 L569.15 487.06 L567.64 488.21 L565.65 488.47 L562.61 487.98 L560.1 488.47 L557.59 489.84 L556.36 492.67 L556.07 495.93 L557.12 499.69 L558.11 502.96 L558.59 506.71 L559.63 510.03 L559.06 509.98 L557.16 509.36 L553.42 509.67 L549.63 511.75 L547.12 514.35 L543.32 516.43 L538.92 517.89 L533.89 519.65 L530.15 521.38 L526.36 522 L521.95 520.49 L517.59 517.58 L513.8 514.66 L512.8 513.6 L510.29 511.26 L507.26 509.89 L503.75 508.48 L501.24 506.58 L499.96 502.83 L500.24 499.56 L501.71 496.77 L504.27 495.36 L507.26 495.36 L510.29 495.58 L512.28 493.95 L511.52 491.12 L511.29 486.44 L512.28 482.68 L513.8 478 L514.79 475.66 L514.04 471.47 L512.8 469.12Z M517.16 499.95 L519.2 498.54 L522.19 497.61 L524.7 496.69 L525.22 494.34 L526.74 493.64 L529.25 494.34 L531.24 493.42 L533.75 493.42 L535.79 494.34 L535.27 496.69 L533.28 499.03 L531.24 499.95 L531.76 502.3 L530.77 504.19 L529.72 506.54 L528.25 506.54 L527.21 504.64 L525.74 503.71 L523.23 502.78 L520.2 502.3 L517.69 501.85Z" fill="#D5CFCD" fill-rule="evenodd"/>
<path d="M536.08 510.1h0M552.97 503.8h0M548.78 494.85h0M537.32 514.76h0M509.76 510.44h0M503.54 506.74h0M524.5 519.5h0M525.9 508.11h0M518.45 508.86h0M513.3 497.62h0M538.4 494.52h0M508.92 500.99h0M522.94 516.4h0M524.04 489.21h0M518.82 499.42h0M539 502.68h0M527.85 505.48h0M527.05 472.5h0M517.36 469.75h0M527.14 490.4h0M538.29 492.19h0M530.76 519.99h0M521.98 472.08h0M525.15 462.21h0M551.47 495.41h0M529.21 515.44h0M522.71 496.07h0M520.95 482.34h0M540.89 492.38h0M539.8 503.78h0M530.79 491.49h0M537.07 489.69h0M532.3 506.73h0M514.58 476.91h0M535.78 503.49h0M544.89 512.8h0M512.97 493.61h0M518.6 481.84h0M537.58 510.89h0M523.43 507.08h0M522.22 481.03h0M513.82 482.96h0M520.29 487.29h0M536.17 507.24h0M521.9 509.88h0M528.13 498.41h0M511.63 504.25h0M522.22 507.11h0M551.88 509.65h0M519.93 475.39h0M517.3 472.22h0M534.05 486.96h0M521.29 513.59h0M545.2 508.08h0M514.71 513.85h0M518.66 465.31h0M527.94 516.4h0M514.03 479.9h0M504.12 501.99h0M534.01 486.5h0M517.9 479.08h0M514.36 482.79h0M515.87 499.44h0M526.24 488.5h0M513.63 504.86h0M533.46 487.64h0M515.72 485.19h0M533.59 512.88h0M532.7 485.48h0M530.48 465.85h0M520.47 498.15h0M517.95 479.63h0M526.14 476.67h0M538.94 508.26h0M536.96 516.97h0M542.59 515.88h0M526.41 498.08h0M527.07 467.2h0M513.59 510.23h0M531.88 514.36h0M531.74 507.58h0M540.79 501.45h0M522.26 462.87h0M520.37 486.27h0M526.33 463.94h0M516.45 491.33h0M527.97 468.43h0M557.47 500.94h0M532.54 509.1h0M514.56 466.56h0M514.14 493.11h0M514.37 487.28h0M556.18 498.47h0M513.73 467.97h0M518.06 504.28h0M522.37 496.88h0M556.08 501.45h0M511.91 508.85h0M540.5 501.09h0M541.4 511.27h0M539.5 517.27h0M526.43 500.91h0M527.56 477.69h0M513.98 504.32h0M522.6 489.76h0M518.04 505.31h0M530.91 465.98h0M521.51 476.44h0M531.16 491.75h0M518.48 470.42h0M522.55 473.38h0M512.07 512.46h0M539.79 497.8h0M523.15 493.77h0M540.18 512.32h0M512.89 480.99h0M522.07 474.84h0M531.7 511.4h0M544.88 498.92h0M537.63 499.38h0M548.79 508.9h0M525.57 490.86h0M542.02 509.79h0M528.92 508.81h0M513.33 492.75h0M505.07 496.25h0M532.67 496.84h0M518.21 488.31h0M519.62 498.23h0M517.8 482.92h0M520.85 474.48h0M517.08 491.03h0M527.22 518.58h0M523.97 511.83h0M556.29 506.8h0M535 495.48h0M536.85 464.15h0M517.76 499.33h0M525.36 503.65h0M550.7 494.49h0M506.18 507.76h0M525.38 472.73h0M535.46 516.74h0M543.93 494.42h0M536.8 493.77h0M515.01 470.01h0M503.77 502.91h0M513.98 509.35h0M525.59 516.3h0M531.24 504.45h0M528.24 472.6h0M547.18 508.94h0M518.49 513.66h0M514.84 476.34h0M535.5 515.44h0M520.71 494.33h0M522.94 472.9h0M535.48 518.49h0M516.68 477.23h0M526.75 518.2h0M520.51 472.36h0M527.74 493.85h0M515.37 508.11h0M513.46 492.96h0M524.71 514.83h0M527.6 485.37h0M517.02 472.34h0M547.21 513.36h0M521.69 519.74h0M523.81 519.2h0M539.97 499.24h0M522.38 486.34h0M524.21 475.14h0M522.26 503.75h0M529.81 463.88h0M556.21 501.37h0M523.59 509.54h0M548.41 496.09h0M530.04 491.84h0M543.63 507.27h0M529.67 508.74h0M517.12 480.66h0M537.33 462.35h0M509.9 507.93h0M552.11 492.04h0M515.75 480.48h0M519.28 495.67h0M551.97 510.23h0M546.94 508.39h0M545.17 502.31h0M518.74 467.9h0M503.95 503.28h0M528.34 509.24h0M534.03 494.01h0M536.01 504.36h0M535.13 510.16h0M529.2 471.53h0M516.9 491.01h0M531.8 473.29h0M525.03 513.49h0M544.69 508.15h0M517.39 517.1h0M515.32 483.83h0M521.95 469.54h0M520.23 497.31h0M514.37 498.42h0M527.03 516.24h0M532.93 517.11h0M544.57 500.49h0M539.42 463.74h0M529 516.39h0M515.92 473.14h0M514.01 489.69h0M524.14 471.11h0M521.14 515.48h0M515.09 488.72h0M526.93 507.71h0M534.95 490.98h0M530.09 514.48h0M552.11 508.12h0M528.65 468.23h0M524.61 508.58h0M518.84 501.27h0M520 505.52h0M513.92 486.16h0M519.98 489.67h0M533.42 501.06h0M528.43 489.03h0M532.31 520.3h0M541.29 494.39h0M515.46 480.93h0M517.94 496.88h0M554.8 496.77h0M529.9 479.85h0M527.68 477.95h0M528.48 516.9h0M541.08 513.24h0M518.75 501.59h0M523.06 474.89h0M518.07 493.15h0M549.37 502.7h0M525.55 516.48h0M515.15 513.8h0M528.62 486.55h0M538.94 502.48h0M516.87 475.08h0M529.98 502.12h0M529.11 511.89h0M520.08 463.93h0M515.93 467.39h0M519.86 505.37h0M505.99 496h0M530.89 472.3h0M526.38 481.38h0M528.62 498.02h0M525.54 498.28h0M515.23 470.43h0M550.05 504.07h0M533.2 508.86h0M506.94 498.8h0M520.03 506.96h0M534.45 486.32h0M549.43 503.66h0M543.36 498.65h0M523.55 475.53h0M516.19 513.1h0M536.74 489.36h0M546.36 501.69h0M513.13 494.83h0M514.06 508.67h0M526.81 520.61h0M518.81 474.26h0M538.4 491.84h0M532 509.21h0M526.04 510.32h0M516.83 508.07h0M532.06 487.04h0M526.22 471.98h0M527.5 496.38h0M517.21 469.02h0M526.12 462.25h0M524.39 483.48h0M520.92 486.18h0M512.2 495.74h0M519.47 501.48h0M533.59 505.19h0M530.44 491.41h0M520.47 464.21h0M524.86 507.21h0M545.1 511.78h0M512.11 502.69h0M553.79 506h0M523.51 499.14h0M535.87 462.67h0M542.92 505.91h0M517 498.16h0M539.61 517.11h0M529.99 477.51h0M551.03 493.27h0M514.64 476.89h0M519.22 470.05h0M501.81 497.65h0M548.89 493.88h0M528.88 461.79h0M547.89 504.25h0M544.8 496.33h0M531.51 519.08h0M513.25 506.23h0M545.3 513.74h0M529.93 490.28h0M529.3 482.2h0M533.99 494.51h0M546.69 496.01h0M512.15 499.16h0M540.27 515.37h0M544.95 499.78h0M533.82 492.87h0M529.68 516.56h0M519.28 495.23h0M511.28 495h0M526.83 473.92h0M505.73 499.08h0M528.98 517.01h0M532.35 505.75h0M508.81 502.87h0M518.08 503.95h0M517.02 498.7h0M516.64 506.08h0M508.75 503.82h0M531.71 504.27h0M513.47 490.29h0M511.83 502.37h0M532.61 505.14h0M521.35 491.19h0M532.47 487.77h0M520.24 477.92h0M556.26 502.92h0M554.03 490.54h0M539.89 500.02h0M557.98 488.97h0M526.89 498.27h0M509.4 498.06h0M524.29 489.4h0M527.73 466.74h0M532.27 467.93h0M527.74 517.09h0M545.46 508.02h0M565.2 486.74h0M538.15 511.72h0M521.1 481.62h0M510.96 501.62h0M517.45 473.96h0M515.02 511.63h0M519.65 482.94h0M520.65 503.64h0M549.55 511.72h0M515.99 499.67h0M529.42 477.87h0M518.4 517.23h0M512.14 509.63h0M506.61 502.86h0M544.7 501.81h0M511.91 498.99h0M538.64 490.14h0M516.37 484.76h0M544.6 503.57h0M537.06 517.43h0M548.36 496.31h0M512.15 490.88h0M526.55 518.66h0M557.31 509.1h0M559.17 509.28h0M525.76 499.95h0M514.32 478.77h0M525.84 474.29h0M550.93 508.58h0M524.22 496.97h0M556.79 499.52h0M547.81 496.72h0M527.12 486.67h0M512.54 485.11h0M503.93 505.22h0M541.2 504.61h0M534.54 487.03h0M543.27 497.4h0M509.69 503.37h0M536.37 510.63h0M551.12 506.04h0M556.51 506.39h0M528.9 496.37h0M522.68 490.25h0M528.8 482.33h0M528.95 518.44h0M510.72 502.75h0M513.08 507.09h0M517.26 498.73h0M568.68 486.33h0M554.47 502.32h0M540.84 496.91h0M522.11 468.13h0M501.58 503.63h0M518.75 494.78h0M530.51 486.55h0M519.73 480.04h0M528.45 484h0M545.11 509.93h0M521.81 476.58h0M519.3 495.18h0M519.63 502.38h0M514.94 488.25h0M546.25 505.14h0M526.82 474.4h0M521.86 464.47h0M513.29 509.72h0M508.22 508.33h0M534.22 499.51h0M547.28 501.31h0M544.3 514.37h0M513.07 505.85h0M546.6 497.74h0M521.71 467.65h0M518.18 506.58h0M517.15 465.66h0M528.67 507.8h0M539.07 505.92h0M530.49 489.2h0M522.09 506.23h0M542.17 500.1h0M526.11 511.68h0M532.11 518.62h0M528.31 490.16h0M519.11 475.63h0M554.24 491.56h0M520.87 498.69h0M529.34 489.49h0M530.65 518.35h0M524.94 502.65h0M519.91 501.65h0M528.63 507.2h0M502.48 502.33h0M511.55 505.11h0M533.22 493.45h0M519.37 477.54h0M555.72 497.01h0M527.05 483.86h0M507.6 503.87h0M528.04 471.07h0M523.73 511.62h0M529.28 506.17h0M517.74 497.38h0M529.55 487.81h0M515.98 483.58h0M523.75 466.95h0M514.43 514.4h0M532.47 470.17h0M553.76 503.54h0M547.38 497.24h0M535.82 514.79h0M524.76 501.71h0M523.85 497.92h0M513.36 498.91h0M513.08 510.08h0M524.02 498.47h0M544.82 497.08h0M530.68 518.54h0M507.14 495.77h0M522.37 520.55h0M552.06 501.97h0M532.38 462.4h0M538.47 499.88h0M523.4 501.62h0M504.14 502.07h0M527.2 493h0M517.93 507.78h0M520.4 511.48h0M514.32 497.57h0M517.66 487h0M516.54 468.26h0M517.94 468.38h0M507.27 505.99h0M533.2 508.03h0M517.61 473.01h0M528.08 508.39h0M530.39 500.81h0M534.3 504.99h0M520.88 482.61h0M543.59 510.45h0M541.71 497.18h0M532.52 502h0M524.5 475.99h0M512.96 503.17h0M526.14 473.56h0M539.94 497.44h0M509.93 503.75h0M515.15 508.92h0M526.87 494.95h0M502.23 503.15h0M546.87 513.91h0M532.84 518.06h0M512.19 491.19h0M556.16 504.92h0M529.96 488.69h0M528.19 485.48h0M549.81 495.19h0M522.93 469.49h0M527.75 466.22h0M504.35 508.64h0M531.56 509.98h0M546.9 503.37h0M535.79 494.88h0M520.92 517.56h0M522.86 507.08h0M518.06 469.73h0M544.65 498.67h0M530.79 465.86h0M520.58 514.97h0M538.7 498.9h0M541.72 513.61h0M559.5 488.16h0M529.63 518.05h0M527.37 510.11h0M527.19 497.35h0M520.31 510.35h0M545.39 510.1h0M542.03 494.15h0M521.44 510.83h0M542.72 498.42h0M538.05 508.75h0M544.75 504.84h0M515.45 506.82h0M552.53 495.66h0M525.89 470.16h0M523.64 462.35h0M544.25 496.5h0M543.11 504.7h0M554.43 498.52h0M513.77 500.13h0M510.92 502.55h0M542.37 512.78h0M543.95 508.7h0M554.87 498.56h0M516.45 483.54h0M557.84 489.66h0M520.25 483.19h0M516.55 475.11h0M523.83 487.14h0M525.62 489.74h0M520.11 498.3h0M540.5 495.18h0M513.68 495h0M549.34 504.56h0M518.92 507.06h0M535.27 461.79h0M506.24 497.13h0M506.37 495.96h0M520.44 482.02h0M515.82 510.72h0M521.49 465.8h0M547.15 494.97h0M548.78 512.17h0M548.6 510.37h0M555.06 503.43h0M556.06 493.64h0M537.3 497.7h0M540.5 503.29h0M535.74 498.34h0M539.77 507.27h0M533.78 504.52h0M511.57 511.01h0M531.13 470.09h0M527.03 513.2h0M506.57 502.34h0M512.51 499.14h0M508.54 495.89h0M530.61 473.79h0M529 494.52h0M515.37 485.79h0M539.75 493.94h0M525.83 514.18h0M524.71 504.73h0M516.75 516.03h0M509.21 502.85h0M529.64 480.15h0M532.19 467.38h0M523.06 504.28h0M531.17 471.44h0M531.37 516.48h0M548.23 504.06h0M532.67 512.43h0M529.76 471.1h0M542.64 496.42h0M518.92 495.59h0M539.52 510.55h0M524.72 469.06h0M519.06 493.35h0M527.85 491.15h0M511.24 500.19h0M553.55 497.82h0M524.88 500.39h0M535.08 505.26h0M505.73 496.48h0M553.96 496.24h0M533.01 466.88h0M510.98 507.63h0M513.88 487.8h0M513.61 482.07h0M540.92 500.73h0M529.72 487.58h0M527.49 486.07h0M529.44 492.24h0M518.36 488.53h0M513.76 506.61h0M527.08 469.9h0M524.25 473.75h0M553.2 504.27h0M500.58 499.94h0M547.81 512.4h0M540.69 501.83h0M539.23 491.77h0M526.56 482.35h0M530.96 474.52h0M508.27 508.53h0M529.93 521.12h0M529.38 464.64h0M538.95 508.41h0M526.35 471.16h0M537.11 465.74h0M522.18 492.66h0M556.99 503.88h0M519.19 480.65h0M548.6 500.29h0M524.43 501.59h0M528.67 478.92h0M532.29 495.26h0M528.18 490.35h0M540.83 506.01h0M540.63 505.06h0M532.67 465.3h0M531.73 488.5h0M536.2 506.64h0M508.18 509.27h0M524.7 508.4h0M516.62 499.84h0M520.07 510.03h0M527.16 498.45h0M509.83 504.49h0M526.8 475.13h0M545.89 502.68h0M525.47 507.68h0M506.62 501.05h0" stroke="#E8856B" stroke-width="0.72" stroke-linecap="round"/>
<path d="M517.16 499.95 L519.2 498.54 L522.19 497.61 L524.7 496.69 L525.22 494.34 L526.74 493.64 L529.25 494.34 L531.24 493.42 L533.75 493.42 L535.79 494.34 L535.27 496.69 L533.28 499.03 L531.24 499.95 L531.76 502.3 L530.77 504.19 L529.72 506.54 L528.25 506.54 L527.21 504.64 L525.74 503.71 L523.23 502.78 L520.2 502.3 L517.69 501.85Z" fill="#fff"/>
<path d="M537.31 496.69 L539.82 495.27 L543.32 495.76 L545.32 496.69 L543.32 498.1 L541.81 500.88 L543.32 502.3 L546.36 503.22 L548.35 502.78 L548.87 504.64 L545.32 505.61 L541.81 505.61 L539.82 504.19 L538.3 501.85 L537.31 499.51Z" fill="#fff" fill-opacity="0.85"/>
<line x1="495.6" y1="446.2" x2="495.6" y2="557.57" stroke="#444" stroke-width="0.55" />
<line x1="495.33" y1="557.3" x2="598.5" y2="557.3" stroke="#444" stroke-width="0.55" />
<line x1="494.5" y1="458.7" x2="495.6" y2="458.7" stroke="#444" stroke-width="0.45" />
<text x="494" y="459.9" font-size="3.4" text-anchor="end" font-weight="normal" fill="#555" >10</text>
<line x1="494.5" y1="496.2" x2="495.6" y2="496.2" stroke="#444" stroke-width="0.45" />
<text x="494" y="497.4" font-size="3.4" text-anchor="end" font-weight="normal" fill="#555" >0</text>
<line x1="494.5" y1="533.7" x2="495.6" y2="533.7" stroke="#444" stroke-width="0.45" />
<text x="494" y="534.9" font-size="3.4" text-anchor="end" font-weight="normal" fill="#555" >-10</text>
<line x1="495.6" y1="557.3" x2="495.6" y2="558.4" stroke="#444" stroke-width="0.45" />
<text x="495.6" y="561.9" font-size="3.4" text-anchor="middle" font-weight="normal" fill="#555" >-10</text>
<line x1="516.05" y1="557.3" x2="516.05" y2="558.4" stroke="#444" stroke-width="0.45" />
<text x="516.05" y="561.9" font-size="3.4" text-anchor="middle" font-weight="normal" fill="#555" >-5</text>
<line x1="536.5" y1="557.3" x2="536.5" y2="558.4" stroke="#444" stroke-width="0.45" />
<text x="536.5" y="561.9" font-size="3.4" text-anchor="middle" font-weight="normal" fill="#555" >0</text>
<line x1="556.95" y1="557.3" x2="556.95" y2="558.4" stroke="#444" stroke-width="0.45" />
<text x="556.95" y="561.9" font-size="3.4" text-anchor="middle" font-weight="normal" fill="#555" >5</text>
<line x1="577.4" y1="557.3" x2="577.4" y2="558.4" stroke="#444" stroke-width="0.45" />
<text x="577.4" y="561.9" font-size="3.4" text-anchor="middle" font-weight="normal" fill="#555" >10</text>
<line x1="597.85" y1="557.3" x2="597.85" y2="558.4" stroke="#444" stroke-width="0.45" />
<text x="597.85" y="561.9" font-size="3.4" text-anchor="middle" font-weight="normal" fill="#555" >15</text>
<text x="547.05" y="567.5" font-size="4.5" text-anchor="middle" font-weight="normal" fill="#666" >UMAP_1</text>
<text x="0" y="0" font-size="4.5" text-anchor="middle" font-weight="normal" fill="#666" transform="translate(487 502.25) rotate(-90)">UMAP_2</text>
<text x="547.1" y="443.1" font-size="5.0" text-anchor="middle" font-weight="bold" fill="#111" >CD14</text>
<rect x="602.9" y="491.3" width="4.4" height="22.2" fill="url(#cb)"/>
<text x="0" y="0" font-size="4.0" text-anchor="middle" font-weight="normal" fill="#444" transform="translate(609.2 512.7) rotate(90)">0</text>
<text x="0" y="0" font-size="4.0" text-anchor="middle" font-weight="normal" fill="#444" transform="translate(609.2 507.55) rotate(90)">1</text>
<text x="0" y="0" font-size="4.0" text-anchor="middle" font-weight="normal" fill="#444" transform="translate(609.2 502.4) rotate(90)">2</text>
<text x="0" y="0" font-size="4.0" text-anchor="middle" font-weight="normal" fill="#444" transform="translate(609.2 497.25) rotate(90)">3</text>
<text x="0" y="0" font-size="4.0" text-anchor="middle" font-weight="normal" fill="#444" transform="translate(609.2 492.1) rotate(90)">4</text>
<path d="M648.97 460.67 L652.6 458.25 L656.29 456.34 L660.95 454.88 L666.16 453.92 L668.91 453.92 L673.09 454.61 L676.23 456.57 L677.51 458.25 L675.15 458.98 L672.55 460.44 L670.49 462.36 L668.91 465.27 L667.34 469.15 L666.31 473.02 L665.28 476.85 L668.91 478.45 L671.52 480.86 L674.12 483.78 L676.48 485.92 L679.33 487.65 L683.51 488.61 L685.62 488.11 L688.71 486.2 L691.32 483.78 L693.33 482.32 L695.94 481.36 L699.08 480.91 L699.57 478.63 L700.55 479.09 L701.54 478.4 L702.27 479.54 L702.72 480.41 L704.78 479.68 L706.35 480.41 L706.35 481.36 L704.78 482.55 L702.72 482.82 L699.57 482.32 L696.97 482.82 L694.36 484.24 L693.09 487.15 L692.79 490.53 L693.87 494.4 L694.9 497.77 L695.4 501.65 L696.48 505.07 L695.89 505.02 L693.92 504.38 L690.04 504.7 L686.11 506.85 L683.51 509.53 L679.57 511.68 L675.01 513.18 L669.8 515 L665.92 516.78 L661.99 517.42 L657.42 515.87 L652.9 512.86 L648.97 509.85 L647.93 508.76 L645.33 506.34 L642.19 504.93 L638.55 503.47 L635.95 501.51 L634.62 497.64 L634.91 494.26 L636.44 491.39 L639.09 489.93 L642.19 489.93 L645.33 490.16 L647.39 488.48 L646.61 485.56 L646.36 480.73 L647.39 476.85 L648.97 472.02 L650 469.6 L649.21 465.27 L647.93 462.86Z M652.45 494.67 L654.57 493.22 L657.66 492.26 L660.27 491.3 L660.81 488.89 L662.38 488.16 L664.98 488.89 L667.05 487.93 L669.65 487.93 L671.76 488.89 L671.22 491.3 L669.16 493.72 L667.05 494.67 L667.59 497.09 L666.56 499.05 L665.47 501.47 L663.95 501.47 L662.87 499.51 L661.35 498.55 L658.74 497.59 L655.6 497.09 L653 496.63Z" fill="#D4D4D4" fill-rule="evenodd"/>
<path d="M673.34 491.3 L675.94 489.84 L679.57 490.34 L681.64 491.3 L679.57 492.76 L678 495.63 L679.57 497.09 L682.72 498.05 L684.78 497.59 L685.32 499.51 L681.64 500.51 L678 500.51 L675.94 499.05 L674.37 496.63 L673.34 494.22Z" fill="#fff" fill-opacity="0.85"/>
<path d="M663.68 490.56h0M661.47 496.91h0M658.03 497.3h0M659.53 494.31h0M658.75 496.56h0M660.76 492.05h0M665.59 496.93h0M669.49 493.27h0M659.78 493.65h0M660.27 496.98h0M662.79 492.61h0M666.52 492.84h0M665.05 494.36h0M665.8 497.18h0" stroke="#D4D4D4" stroke-width="0.54" stroke-linecap="round"/>
<path d="M675.11 496.41h0M675.37 497.44h0M677.86 492.26h0M676 495.5h0M675.08 496.47h0M676.29 490.82h0M677.33 497.18h0M679.45 497.82h0M678.5 494.09h0M675.82 496.12h0M681.35 499.32h0M678.97 499.95h0M678.7 496.52h0M678.02 497.77h0M680.53 499.6h0M678.11 499.84h0M676.39 497.14h0M678.7 496.91h0M675.98 494.27h0M675.05 494.96h0M676.09 490.7h0M678 491.44h0M674.76 491.45h0M678.34 493.23h0M676.25 491.85h0M676.9 497.77h0M675.75 494.81h0M683.01 498.69h0M678.88 498.83h0M674.45 491.66h0" stroke="#D4D4D4" stroke-width="0.54" stroke-linecap="round"/>
<ellipse cx="678.3" cy="472.48" rx="2.6" ry="1.05" fill="#D4D4D4" transform="rotate(-8 678.3 472.48)"/>
<path d="M703.5 448.23 L705.86 446.86 L709.4 446.86 L712.89 448.77 L715.83 452.6 L716.42 454.74 L714.65 456.66 L715.83 457.48 L719.96 458.03 L721.97 460.21 L721.97 462.4 L721.09 465.64 L719.37 468.92 L718.78 470.29 L716.42 468.92 L714.65 468.37 L712.89 470.01 L710.58 469.74 L709.99 467.28 L709.4 466.46 L704.39 466.73 L703.8 468.92 L702.91 472.16 L701.78 473.8 L698.83 471.11 L695.89 467.83 L694.12 464.54 L693.53 461.85 L697.07 461.03 L700.6 460.21 L702.03 459.67 L702.91 458.03 L702.62 456.38 L701.49 455.29 L702.62 453.97 L703.21 450.41Z M702.32 459.94 L705.86 459.67 L709.99 460.49 L710.28 462.4 L709.99 465.64 L704.39 465.91 L703.8 463.45 L702.62 461.31Z" fill="#D4D4D4" fill-rule="evenodd"/>
<path d="M718.68 493.26 L721.34 494.13 L723.94 494.81 L726.25 495.18 L728.12 494.49 L729.98 494.31 L731.51 495.54 L732.24 497.96 L731.51 500.05 L729.98 502.51 L728.12 504.61 L726.25 507.07 L725.12 509.85 L724.33 512.32 L723.94 515.83 L724.33 518.97 L725.12 521.8 L724.33 523.16 L722.81 523.53 L720.55 521.8 L717.95 520.02 L716.42 518.29 L717.36 514.09 L719.42 512 L718.68 510.22 L717.55 509.17 L716.03 507.44 L714.16 505.66 L713.23 502.88 L713.03 500.05 L713.97 497.64 L715.29 495.86 L717.16 494.13Z" fill="#D4D4D4" />
<path d="M673.83 532.42 L675.01 533.24 L675.89 534.61 L677.02 533.24 L678.49 534.88 L679.67 535.97 L681.44 537.07 L683.8 535.97 L685.81 534.33 L686.4 531.32 L687.19 531.32 L687.58 534.88 L689.35 537.07 L690.53 539.21 L690.24 540.85 L689.06 543.04 L686.11 544.95 L682.03 546.32 L678.49 545.23 L676.18 543.04 L674.71 539.76 L673.83 535.43Z" fill="#D4D4D4" />
<path d="M675.01 486.83 L676.23 484.56 L677.46 482.73 L678.94 482.5 L679.43 483.87 L677.95 485.92 L675.99 487.52Z" fill="#D4D4D4" />
<path d="M701.78 486.38 L703.01 485.92 L703.99 486.15 L704.78 487.52 L704.24 488.38 L703.01 487.97 L702.03 488.29Z" fill="#D4D4D4" />
<ellipse cx="700.5" cy="510.63" rx="3.68" ry="3.1" fill="#D4D4D4"/>
<path d="M695.89 505.3 L696.87 505.07 L698.1 507.8 L696.62 508.26Z" fill="#D4D4D4" />
<line x1="704.63" y1="509.81" x2="707.53" y2="506.8" stroke="#D4D4D4" stroke-width="1.28" stroke-linecap="round"/>
<line x1="727.72" y1="451.51" x2="729.69" y2="449.46" stroke="#D4D4D4" stroke-width="0.88" stroke-linecap="round"/>
<line x1="699.87" y1="485.92" x2="702.18" y2="486.65" stroke="#D4D4D4" stroke-width="0.79" stroke-linecap="round"/>
<ellipse cx="721.48" cy="485.47" rx="0.69" ry="1.18" fill="#D4D4D4"/>
<circle cx="692.2" cy="464.04" r="0.79" fill="#D4D4D4"/>
<circle cx="693.68" cy="463.36" r="0.69" fill="#D4D4D4"/>
<circle cx="695.64" cy="460.85" r="0.59" fill="#D4D4D4"/>
<circle cx="697.11" cy="460.4" r="0.59" fill="#D4D4D4"/>
<circle cx="698.59" cy="459.94" r="0.59" fill="#D4D4D4"/>
<circle cx="701.05" cy="459.26" r="0.64" fill="#D4D4D4"/>
<circle cx="701.78" cy="457.66" r="0.54" fill="#D4D4D4"/>
<circle cx="719.22" cy="468.15" r="0.49" fill="#D4D4D4"/>
<circle cx="720.7" cy="464.95" r="0.49" fill="#D4D4D4"/>
<circle cx="705.96" cy="468.37" r="0.44" fill="#D4D4D4"/>
<circle cx="707.19" cy="520.11" r="0.44" fill="#D4D4D4"/>
<circle cx="708.17" cy="519.2" r="0.44" fill="#D4D4D4"/>
<circle cx="709.15" cy="519.88" r="0.44" fill="#D4D4D4"/>
<circle cx="707.68" cy="521.02" r="0.44" fill="#D4D4D4"/>
<path d="M718.68 493.26 L721.34 494.13 L723.94 494.81 L726.25 495.18 L728.12 494.49 L729.98 494.31 L731.51 495.54 L732.24 497.96 L731.51 500.05 L729.98 502.51 L728.12 504.61 L726.25 507.07 L725.12 509.85 L724.33 512.32 L723.94 515.83 L724.33 518.97 L725.12 521.8 L724.33 523.16 L722.81 523.53 L720.55 521.8 L717.95 520.02 L716.42 518.29 L717.36 514.09 L719.42 512 L718.68 510.22 L717.55 509.17 L716.03 507.44 L714.16 505.66 L713.23 502.88 L713.03 500.05 L713.97 497.64 L715.29 495.86 L717.16 494.13Z" fill="#E0ADA1" />
<path d="M724.04 498.39h0M715.02 502.92h0M717.04 502.85h0M721.24 512.26h0M718.48 514.15h0M716.17 496.82h0M729.54 499.91h0M725.42 502.36h0M724.55 506.8h0M723.71 506.36h0M719.66 496.78h0M724.71 508.98h0M729.16 496.74h0M725.55 502.81h0M723.22 516.35h0M719.44 495.47h0M727.39 496.08h0M717.98 495.86h0M725.76 502.37h0M717.25 508.6h0M715.63 502.71h0M715.45 501.59h0M720.49 499.86h0M716.83 500.11h0M718.82 510.06h0M720.81 518.9h0M720.03 502.29h0M726.03 496.25h0M718.34 519.85h0M720.64 518.59h0M721.92 496.27h0M724.13 499.66h0M723.2 521.19h0M723.54 522.52h0M726.77 498.68h0M718.68 518.87h0M724.91 505.55h0M724.58 510.88h0M719.94 501.83h0M717.92 517.5h0M730.83 496.04h0M727.91 502.13h0M717 494.85h0M715.62 496.02h0M715.3 500.51h0M719.75 497.7h0M717.78 505.1h0M720.49 509.49h0M726.52 502.06h0M718.73 516.39h0M719.8 497.06h0M722.34 503.96h0M720.15 499.74h0M722.79 502.55h0M722.08 498.69h0M730.43 497.16h0M716.31 501.57h0M714.67 501.25h0M714.88 502.47h0M722.68 505.94h0M722.32 497.9h0M716.68 502.03h0M716.69 505.4h0M715.23 499.84h0M717.01 502.01h0M721.4 507.59h0M720.03 500.67h0M728.64 498.82h0M724.02 517.91h0M715.93 503.41h0M720.29 501.89h0M724.46 508.52h0M714.76 499.07h0M721.57 521.56h0M723.86 512.28h0M731.63 496.81h0M723.61 509.48h0M721.59 503.43h0M717.6 515.37h0M722.84 506.92h0M722.77 501.91h0M718.08 502.56h0M723.28 512.44h0M727.86 498.65h0M717.43 495.42h0M721.51 518.5h0M720.51 521.59h0M723.81 507.25h0M718.54 518.94h0M721.95 514.37h0M718.72 496.43h0M719.8 513.33h0M716.5 502.12h0M725.24 504.72h0M718.34 503.58h0M722.16 518.28h0M719.73 497.73h0M728.27 498.44h0M721.99 519.65h0M724.89 508.68h0M720.04 515.93h0M721.6 502.91h0M718.51 507.49h0M721.75 502.67h0M721.12 507.17h0M730.65 495.83h0M721.29 514.63h0M723.14 517.97h0M719.08 496.34h0M721.3 503.36h0M729.9 500.21h0M717.82 504.52h0M729.17 500.86h0M721.68 507.25h0M716.52 498.05h0M723.07 499.81h0M731.12 500.68h0M717.61 494.49h0M724.48 521.08h0M719.07 508.17h0M719.95 499.24h0M718.48 519.34h0M723.22 495.04h0M728.13 500.35h0M722.71 512.33h0M715.09 496.48h0M721.83 508.89h0M721.4 500.81h0M718.99 503.81h0M721.24 495.23h0M730.34 499.44h0M717.21 515.11h0M722.02 513.02h0M722.86 507.88h0M717.97 496.56h0M721.91 500.08h0M713.6 503.65h0M717.97 515.16h0M717.21 500.15h0M721.05 500.92h0M713.25 500.43h0M721.5 506.01h0M727.29 495.7h0M714.72 505.25h0M716.48 497.05h0M717.09 503.25h0M713.89 500.2h0M731.27 496.57h0M717.87 518.48h0M723.83 518.62h0M719.16 495.4h0M721.54 505.86h0M719.06 519.89h0M719.52 498.35h0M721.09 494.78h0M715.95 502.38h0M725.17 506.98h0M722.79 521.07h0M720.36 510.07h0M717.02 518.08h0M720.77 507.86h0M724.98 505.86h0M722.94 509.39h0M723.49 510.33h0M717.83 504.89h0M728.11 497.17h0M715.55 496.54h0M723.71 501h0M721.99 498.88h0M719.32 515.14h0M713.99 503.24h0M721.51 498.72h0M723.83 499.23h0M721.29 498.96h0M727.35 498.2h0M724.1 522.79h0M718.84 503.84h0M725.37 500.56h0M722.61 522.79h0M722.2 512.62h0M722.69 504.2h0M717.49 495.66h0M723.98 499.48h0M723.68 516.04h0M721.25 497.64h0M724.08 498.59h0M720.14 518.08h0M718.31 499.72h0M718.47 497.32h0M722.09 499.87h0M727.43 502.3h0M718.57 508.05h0M718.3 497.41h0M728.55 502.31h0M719.41 520.93h0M717.89 513.73h0M723.63 520.47h0M718.33 496.61h0M718.51 508.85h0M720.89 500.03h0M714.03 503.95h0M727.19 498.54h0M729.54 500.94h0M722.37 506.82h0M723.71 516.03h0M724.98 496.85h0M729.13 496.81h0M721.84 502.27h0M718.96 495.66h0M723.84 510.93h0M721.19 495.69h0M717.47 497.27h0M719.84 515.93h0M714.35 501.13h0M725.89 504.62h0M719.92 507.57h0M722.33 510.93h0M721.53 508.34h0M718.9 495.07h0M719.76 497.28h0M721.52 497.55h0M729.01 497.22h0M717.91 502.2h0M725.08 502.95h0M721.15 513.61h0M723.62 522.65h0M718.29 504.63h0M719.93 517.74h0M714.54 498.66h0M721.58 502.52h0M719.29 512.93h0M723.82 512.29h0M714.64 502.34h0M720.6 495.65h0M718.9 513.92h0M719.67 505.04h0M731.17 495.28h0M722.62 511.82h0M724.47 498.7h0M722.88 522.9h0M721.19 501.53h0M718.43 495.12h0M722.93 500.26h0M728.85 497.15h0M729.14 498.04h0M717.08 518.48h0M718.04 506.56h0M721.33 504.58h0M729.59 496.51h0M719.95 508.98h0M717.39 508.35h0M721.07 502.01h0M716.26 495.82h0M720.12 496.89h0M717.99 497.58h0M719.66 513.89h0M720.68 508.38h0M724.87 507.89h0M721.07 506.13h0M716.44 496.88h0M729.46 500.36h0M726.39 505.09h0M724.26 522.02h0M716.05 505.34h0M728 501.8h0M726.11 500.07h0M718.91 508.38h0M719.55 498.87h0M721.4 494.52h0M727.28 503.58h0M724.44 508.08h0M720.1 517.76h0M724.38 501.07h0M724.92 496.53h0M730.65 499.7h0M714.04 500.05h0M718.54 519.24h0M715.72 502.61h0M725.95 495.82h0M715.24 504.64h0M722.12 511.98h0M720.27 497.97h0M725.48 497.72h0M725.96 501.94h0M720.33 507.49h0M720.59 496.98h0M723.12 514.63h0M724.65 503.34h0M717.43 494.63h0M719.64 508h0M721.42 519.69h0M720.14 517.25h0M716.27 501.37h0M721.18 495.38h0M719.68 512.24h0M725.07 504.2h0M718.61 516.18h0M723.62 503.18h0M723.03 513.77h0M719.86 504.29h0M725.14 505.98h0M727.47 499.04h0M723.6 502.4h0M722.87 518.28h0M718 497.12h0M721.27 518.06h0M721.66 517.46h0M722.42 507.1h0M718.05 496.92h0M723.55 519.36h0M716.93 516.06h0M731.2 497.41h0M713.3 502.14h0M724.66 507.53h0M724.21 507.69h0M717.31 506.18h0M717.24 499.85h0M715.04 501.18h0M716.71 507.76h0M715.03 505.06h0M729.28 502.92h0M718.43 500.81h0M720.24 503.18h0M717.41 514.23h0M719.76 495h0M724.39 497h0M721.78 520.23h0M724.01 518.01h0M726.81 502.89h0M718.55 501.37h0" stroke="#E8755A" stroke-width="0.76" stroke-linecap="round"/>
<path d="M697.51 511.64h0M701.44 509.91h0M697.94 512.48h0M702.88 510.18h0M700.35 507.92h0M703.44 511.03h0M700.29 506.93h0M699.92 510.51h0M699 509.96h0M697.69 506.28h0M702.44 512.24h0M700.98 511.97h0" stroke="#EC9C86" stroke-width="0.8" stroke-linecap="round"/>
<path d="M712.06 456.17h0M718.6 462.74h0M717.7 462.56h0M720.87 462.11h0M713.39 463.35h0M700.88 472.63h0M702.42 467.9h0M720.68 464.39h0M697.57 469.09h0M712.52 451.84h0M707.93 460.79h0M705.18 464.67h0M704.16 462.55h0M701.99 462.9h0M708.98 458.54h0M712.68 461.09h0M703.65 458.49h0M720.61 460.65h0M704.93 449.46h0M709.08 456.26h0M702.87 456.48h0M711.94 452.29h0M719.73 459.27h0M717.61 460.29h0M708.43 462.61h0" stroke="#EC9C86" stroke-width="0.7" stroke-linecap="round"/>
<path d="M647.62 495.92h0M658.62 466.49h0M669.73 485.29h0M669.03 483.03h0M653.6 470.04h0M683.03 503.91h0M651.45 469h0M687.33 490.47h0M649.1 496.95h0M650.12 472.91h0M650.43 500.09h0M673.2 491.61h0M672.4 506.34h0M683.68 494h0M663.82 484.42h0M641.88 498.66h0M676.83 487.84h0M658.98 505.46h0M681.12 488.43h0M679.8 504.22h0M693.3 497.2h0M644.15 497.69h0M664.48 471.12h0M663.09 498.49h0M673.44 455.07h0M646.3 500.83h0M671.52 489.4h0M667.54 460.35h0M689.76 502.84h0M664.89 479.57h0" stroke="#EFA28F" stroke-width="0.7" stroke-linecap="round"/>
<line x1="629.8" y1="439.2" x2="629.8" y2="554.48" stroke="#444" stroke-width="0.55" />
<line x1="629.52" y1="554.2" x2="736.9" y2="554.2" stroke="#444" stroke-width="0.55" />
<line x1="628.7" y1="452.1" x2="629.8" y2="452.1" stroke="#444" stroke-width="0.45" />
<text x="628.2" y="453.3" font-size="3.4" text-anchor="end" font-weight="normal" fill="#555" >10</text>
<line x1="628.7" y1="490.8" x2="629.8" y2="490.8" stroke="#444" stroke-width="0.45" />
<text x="628.2" y="492" font-size="3.4" text-anchor="end" font-weight="normal" fill="#555" >0</text>
<line x1="628.7" y1="529.5" x2="629.8" y2="529.5" stroke="#444" stroke-width="0.45" />
<text x="628.2" y="530.7" font-size="3.4" text-anchor="end" font-weight="normal" fill="#555" >-10</text>
<line x1="630.1" y1="554.2" x2="630.1" y2="555.3" stroke="#444" stroke-width="0.45" />
<text x="630.1" y="558.8" font-size="3.4" text-anchor="middle" font-weight="normal" fill="#555" >-10</text>
<line x1="651.3" y1="554.2" x2="651.3" y2="555.3" stroke="#444" stroke-width="0.45" />
<text x="651.3" y="558.8" font-size="3.4" text-anchor="middle" font-weight="normal" fill="#555" >-5</text>
<line x1="672.5" y1="554.2" x2="672.5" y2="555.3" stroke="#444" stroke-width="0.45" />
<text x="672.5" y="558.8" font-size="3.4" text-anchor="middle" font-weight="normal" fill="#555" >0</text>
<line x1="693.7" y1="554.2" x2="693.7" y2="555.3" stroke="#444" stroke-width="0.45" />
<text x="693.7" y="558.8" font-size="3.4" text-anchor="middle" font-weight="normal" fill="#555" >5</text>
<line x1="714.9" y1="554.2" x2="714.9" y2="555.3" stroke="#444" stroke-width="0.45" />
<text x="714.9" y="558.8" font-size="3.4" text-anchor="middle" font-weight="normal" fill="#555" >10</text>
<line x1="736.1" y1="554.2" x2="736.1" y2="555.3" stroke="#444" stroke-width="0.45" />
<text x="736.1" y="558.8" font-size="3.4" text-anchor="middle" font-weight="normal" fill="#555" >15</text>
<text x="683.35" y="564.4" font-size="4.5" text-anchor="middle" font-weight="normal" fill="#666" >UMAP_1</text>
<text x="0" y="0" font-size="4.5" text-anchor="middle" font-weight="normal" fill="#666" transform="translate(621.2 497.2) rotate(-90)">UMAP_2</text>
<text x="683" y="435.8" font-size="5.0" text-anchor="middle" font-weight="bold" fill="#111" >TRBC2</text>
<rect x="741.3" y="486.3" width="4.2" height="22.2" fill="url(#cb)"/>
<text x="0" y="0" font-size="4.0" text-anchor="middle" font-weight="normal" fill="#444" transform="translate(747.4 507.7) rotate(90)">0</text>
<text x="0" y="0" font-size="4.0" text-anchor="middle" font-weight="normal" fill="#444" transform="translate(747.4 503.58) rotate(90)">1</text>
<text x="0" y="0" font-size="4.0" text-anchor="middle" font-weight="normal" fill="#444" transform="translate(747.4 499.46) rotate(90)">2</text>
<text x="0" y="0" font-size="4.0" text-anchor="middle" font-weight="normal" fill="#444" transform="translate(747.4 495.34) rotate(90)">3</text>
<text x="0" y="0" font-size="4.0" text-anchor="middle" font-weight="normal" fill="#444" transform="translate(747.4 491.22) rotate(90)">4</text>
<text x="0" y="0" font-size="4.0" text-anchor="middle" font-weight="normal" fill="#444" transform="translate(747.4 487.1) rotate(90)">5</text>
<text x="0.2" y="436" font-size="14.8" text-anchor="start" font-weight="bold" fill="#000" >D</text>
<line x1="12.1" y1="465.1" x2="12.1" y2="572.8" stroke="#333" stroke-width="0.9" />
<line x1="11.7" y1="465.1" x2="277.9" y2="465.1" stroke="#333" stroke-width="0.9" />
<line x1="13" y1="462.4" x2="13" y2="465.1" stroke="#333" stroke-width="0.8" />
<text x="0" y="0" font-size="9.2" text-anchor="start" font-weight="normal" fill="#111" transform="translate(16.3 461.2) rotate(-90)">0.00</text>
<line x1="79.1" y1="462.4" x2="79.1" y2="465.1" stroke="#333" stroke-width="0.8" />
<text x="0" y="0" font-size="9.2" text-anchor="start" font-weight="normal" fill="#111" transform="translate(82.4 461.2) rotate(-90)">0.25</text>
<line x1="145.2" y1="462.4" x2="145.2" y2="465.1" stroke="#333" stroke-width="0.8" />
<text x="0" y="0" font-size="9.2" text-anchor="start" font-weight="normal" fill="#111" transform="translate(148.5 461.2) rotate(-90)">0.50</text>
<line x1="211.3" y1="462.4" x2="211.3" y2="465.1" stroke="#333" stroke-width="0.8" />
<text x="0" y="0" font-size="9.2" text-anchor="start" font-weight="normal" fill="#111" transform="translate(214.6 461.2) rotate(-90)">0.75</text>
<line x1="277.4" y1="462.4" x2="277.4" y2="465.1" stroke="#333" stroke-width="0.8" />
<text x="0" y="0" font-size="9.2" text-anchor="start" font-weight="normal" fill="#111" transform="translate(280.7 461.2) rotate(-90)">1.00</text>
<rect x="13" y="468.5" width="4.22" height="15.5" fill="#B4B436"/>
<rect x="16.97" y="468.5" width="241.38" height="15.5" fill="#A8605E"/>
<rect x="258.1" y="468.5" width="18.76" height="15.5" fill="#9D63AD"/>
<rect x="276.61" y="468.5" width="1.04" height="15.5" fill="#3C9A4A"/>
<line x1="10" y1="476.25" x2="12.1" y2="476.25" stroke="#333" stroke-width="0.8" />
<text x="282.3" y="479.55" font-size="9.2" text-anchor="start" font-weight="normal" fill="#111" >PDB1</text>
<rect x="13" y="485.72" width="2.38" height="15.5" fill="#BD5D2A"/>
<rect x="15.13" y="485.72" width="2.65" height="15.5" fill="#B4B436"/>
<rect x="17.53" y="485.72" width="255.85" height="15.5" fill="#A8605E"/>
<rect x="273.14" y="485.72" width="4.51" height="15.5" fill="#9D63AD"/>
<line x1="10" y1="493.47" x2="12.1" y2="493.47" stroke="#333" stroke-width="0.8" />
<text x="282.3" y="496.77" font-size="9.2" text-anchor="start" font-weight="normal" fill="#111" >PDB2</text>
<rect x="13" y="502.94" width="20.34" height="15.5" fill="#BD5D2A"/>
<rect x="33.09" y="502.94" width="1.04" height="15.5" fill="#8DD0F2"/>
<rect x="33.89" y="502.94" width="96.76" height="15.5" fill="#B4B436"/>
<rect x="130.39" y="502.94" width="103.63" height="15.5" fill="#A8605E"/>
<rect x="233.77" y="502.94" width="36.21" height="15.5" fill="#9D63AD"/>
<rect x="269.73" y="502.94" width="7.92" height="15.5" fill="#E8392E"/>
<line x1="10" y1="510.69" x2="12.1" y2="510.69" stroke="#333" stroke-width="0.8" />
<text x="282.3" y="513.99" font-size="9.2" text-anchor="start" font-weight="normal" fill="#111" >PDB3</text>
<rect x="13" y="520.16" width="4.48" height="15.5" fill="#BD5D2A"/>
<rect x="17.23" y="520.16" width="2.1" height="15.5" fill="#B4B436"/>
<rect x="19.08" y="520.16" width="240.67" height="15.5" fill="#A8605E"/>
<rect x="259.5" y="520.16" width="18.15" height="15.5" fill="#9D63AD"/>
<line x1="10" y1="527.91" x2="12.1" y2="527.91" stroke="#333" stroke-width="0.8" />
<text x="282.3" y="531.21" font-size="9.2" text-anchor="start" font-weight="normal" fill="#111" >PRB1</text>
<rect x="13" y="537.38" width="62.22" height="15.5" fill="#BD5D2A"/>
<rect x="74.97" y="537.38" width="3.24" height="15.5" fill="#F6C282"/>
<rect x="77.96" y="537.38" width="0.94" height="15.5" fill="#8DD0F2"/>
<rect x="78.65" y="537.38" width="10.71" height="15.5" fill="#B4B436"/>
<rect x="89.11" y="537.38" width="164.71" height="15.5" fill="#A8605E"/>
<rect x="253.57" y="537.38" width="20.11" height="15.5" fill="#9D63AD"/>
<rect x="273.43" y="537.38" width="3.16" height="15.5" fill="#E8392E"/>
<rect x="276.34" y="537.38" width="1.31" height="15.5" fill="#3C9A4A"/>
<line x1="10" y1="545.13" x2="12.1" y2="545.13" stroke="#333" stroke-width="0.8" />
<text x="282.3" y="548.43" font-size="9.2" text-anchor="start" font-weight="normal" fill="#111" >PRB2</text>
<rect x="13" y="554.6" width="76.27" height="15.5" fill="#BD5D2A"/>
<rect x="89.02" y="554.6" width="2.05" height="15.5" fill="#8DD0F2"/>
<rect x="90.82" y="554.6" width="56.7" height="15.5" fill="#B4B436"/>
<rect x="147.26" y="554.6" width="9.51" height="15.5" fill="#A8605E"/>
<rect x="156.52" y="554.6" width="111.34" height="15.5" fill="#9D63AD"/>
<rect x="267.61" y="554.6" width="10.04" height="15.5" fill="#E8392E"/>
<line x1="10" y1="562.35" x2="12.1" y2="562.35" stroke="#333" stroke-width="0.8" />
<text x="282.3" y="565.65" font-size="9.2" text-anchor="start" font-weight="normal" fill="#111" >PRB3</text>
<text x="0.8" y="600.2" font-size="14.8" text-anchor="start" font-weight="bold" fill="#000" >E</text>
<text x="156.9" y="615.4" font-size="9.3" text-anchor="middle" font-weight="normal" fill="#111" >B1</text>
<text x="366.7" y="615.7" font-size="9.3" text-anchor="middle" font-weight="normal" fill="#111" >B2</text>
<text x="605.5" y="615.7" font-size="9.3" text-anchor="middle" font-weight="normal" fill="#111" >B3</text>
<text x="25" y="712.6" font-size="9.3" text-anchor="start" font-weight="normal" fill="#111" >PD</text>
<text x="25" y="928.3" font-size="9.3" text-anchor="start" font-weight="normal" fill="#111" >PR</text>
<line x1="81.5" y1="625" x2="81.5" y2="793.05" stroke="#333" stroke-width="1.1" />
<line x1="80.95" y1="792.5" x2="233.1" y2="792.5" stroke="#333" stroke-width="1.1" />
<line x1="79.1" y1="638.2" x2="81.5" y2="638.2" stroke="#333" stroke-width="0.9900000000000001" />
<text x="77.72" y="641.42" font-size="9.2" text-anchor="end" font-weight="normal" fill="#111" >10</text>
<line x1="79.1" y1="668.95" x2="81.5" y2="668.95" stroke="#333" stroke-width="0.9900000000000001" />
<text x="77.72" y="672.17" font-size="9.2" text-anchor="end" font-weight="normal" fill="#111" >5</text>
<line x1="79.1" y1="699.7" x2="81.5" y2="699.7" stroke="#333" stroke-width="0.9900000000000001" />
<text x="77.72" y="702.92" font-size="9.2" text-anchor="end" font-weight="normal" fill="#111" >0</text>
<line x1="79.1" y1="730.45" x2="81.5" y2="730.45" stroke="#333" stroke-width="0.9900000000000001" />
<text x="77.72" y="733.67" font-size="9.2" text-anchor="end" font-weight="normal" fill="#111" >-5</text>
<line x1="79.1" y1="761.2" x2="81.5" y2="761.2" stroke="#333" stroke-width="0.9900000000000001" />
<text x="77.72" y="764.42" font-size="9.2" text-anchor="end" font-weight="normal" fill="#111" >-10</text>
<line x1="79.1" y1="791.95" x2="81.5" y2="791.95" stroke="#333" stroke-width="0.9900000000000001" />
<text x="77.72" y="795.17" font-size="9.2" text-anchor="end" font-weight="normal" fill="#111" >-15</text>
<line x1="81.8" y1="792.5" x2="81.8" y2="794.9" stroke="#333" stroke-width="0.9900000000000001" />
<text x="81.8" y="803.64" font-size="9.2" text-anchor="middle" font-weight="normal" fill="#111" >-10</text>
<line x1="112.3" y1="792.5" x2="112.3" y2="794.9" stroke="#333" stroke-width="0.9900000000000001" />
<text x="112.3" y="803.64" font-size="9.2" text-anchor="middle" font-weight="normal" fill="#111" >-5</text>
<line x1="142.8" y1="792.5" x2="142.8" y2="794.9" stroke="#333" stroke-width="0.9900000000000001" />
<text x="142.8" y="803.64" font-size="9.2" text-anchor="middle" font-weight="normal" fill="#111" >0</text>
<line x1="173.3" y1="792.5" x2="173.3" y2="794.9" stroke="#333" stroke-width="0.9900000000000001" />
<text x="173.3" y="803.64" font-size="9.2" text-anchor="middle" font-weight="normal" fill="#111" >5</text>
<line x1="203.8" y1="792.5" x2="203.8" y2="794.9" stroke="#333" stroke-width="0.9900000000000001" />
<text x="203.8" y="803.64" font-size="9.2" text-anchor="middle" font-weight="normal" fill="#111" >10</text>
<text x="158.5" y="814.6" font-size="9.3" text-anchor="middle" font-weight="normal" fill="#111" >UMAP_1</text>
<text x="0" y="0" font-size="9.3" text-anchor="middle" font-weight="normal" fill="#111" transform="translate(61 708.75) rotate(-90)">UMAP_2</text>
<path d="M89.3 703.8 L92.6 699.1 L96.6 697.8 L101.9 699.1 L107.2 697.1 L111.2 698.5 L113.8 703.8 L115.5 707 L121.8 709 L127.1 712.5 L132.4 717.5 L139 719.5 L145.7 716.5 L152.3 715.7 L158.9 713 L164.2 710.4 L166.9 715.7 L164.2 722.3 L157.6 727.6 L148.3 732.3 L140.4 736.9 L135 740.9 L128.4 742.2 L121.8 739.6 L115.2 735.6 L108.5 729 L101.9 723.7 L93.9 719.7 L90 715.7 L88.4 709.1Z" fill="#A8605E" />
<path d="M112.89 690.62h0M115.31 691.22h0M111.07 686.25h0M112.2 683.25h0M115.11 686.18h0M116.25 693.09h0M110.97 684.08h0M110.34 691.94h0M108.8 690.72h0M114.57 695.73h0M112.13 695.14h0M109.73 688.57h0M110.32 688.94h0M110.94 690.85h0M111.71 695.47h0M107.11 692.96h0M111.79 693.21h0M106.53 685.06h0M108.85 692.75h0M108.29 683.86h0M114.88 688.75h0M113.57 694.17h0M117.46 692.63h0M116.36 690.84h0M109.26 686.45h0M114.83 690.7h0M107.61 687.22h0M109.87 685.07h0M114.44 690.62h0M111.36 695.11h0" stroke="#A8605E" stroke-width="1.2" stroke-linecap="round"/>
<path d="M142.03 691.46h0M146.79 690.32h0M148.19 691.19h0M143.16 688.48h0M146.63 693.9h0M135.21 689.9h0M146 693.83h0M142.97 694.12h0M135.25 695.81h0M131.84 696.25h0M142.35 689.85h0M129.98 693.32h0M139.13 693.17h0M137.19 694.61h0M147.33 691.07h0M136.48 693.83h0M134.95 693.96h0M139.86 692.33h0M142.46 693.28h0M136.11 692.32h0M148.04 693.12h0M146.91 689.71h0M139.93 691.49h0M135.57 691.57h0M139.71 695.96h0M141.94 690.02h0M142.87 688.52h0M147.42 692.61h0M145.93 692.99h0M139.48 693.85h0M138.46 695.27h0M141.87 691.54h0M144.68 696.2h0M141.69 691.41h0M132.43 694.92h0M137.69 690.69h0M133.33 690.55h0M146.32 689.81h0M138.4 690.08h0M135.88 695.35h0M129.77 691.78h0M145.98 688.33h0M133.06 692.9h0M136.65 695.5h0M143.36 692.64h0M133.98 690.31h0M142.32 689.58h0M146.79 694.46h0M130.14 692.99h0M145.93 690.33h0M139.69 689.4h0M136.6 694.4h0M132.51 696.03h0M146.86 693.51h0M136.24 696.49h0M139.26 689.88h0M145.77 693.1h0M142.93 696.17h0M144.23 691.87h0M142.12 689.95h0M136.59 690.36h0M132.06 693.58h0M146.29 693.98h0M139.54 695.68h0M142.73 696.07h0M145.5 688.99h0M147.19 692.12h0M141.45 695.4h0M142.04 691.21h0M134.63 690.38h0" stroke="#A8605E" stroke-width="1.2" stroke-linecap="round"/>
<path d="M125.73 714.08h0M118.06 708.06h0M159.55 710.54h0M123.22 708.02h0M152.47 711.35h0M114.72 703.8h0M126.89 715.11h0M138.99 716.5h0M118.76 710.65h0M123.76 711.63h0M113.6 702.45h0M145.66 712.02h0M119.62 707.93h0M119.18 707.23h0M127.77 712.55h0M122.24 714.05h0M132.85 718.09h0M132.4 717.9h0M138.93 719.53h0M142.46 713.06h0M155.04 709.55h0M118.78 706.55h0M124.26 712h0M125.11 709.43h0M142.84 715.58h0M127.53 716.52h0M143.8 712.66h0M144.32 715.36h0M146.44 712.24h0M156.09 712.77h0M121.37 707.22h0M117.17 707.01h0M117.7 707.78h0M147.93 711.66h0M145.86 714.42h0M160.11 710.66h0M146.59 716.77h0M122.31 707.5h0M122.33 709.62h0M150.67 714.09h0M118.61 706.13h0M123.15 707.49h0M141.03 717.47h0M120.39 708.37h0M155.93 712.69h0M117.39 705.65h0M134.78 719.76h0M140.63 713.94h0M134.63 717.85h0M122.26 713.81h0M130.25 714.6h0M121.84 707.56h0M151.25 712.33h0M136.28 717.7h0M135.85 718.56h0M130.88 716.23h0M126.98 710.93h0M114.23 702.64h0M134.05 715.41h0M138.78 717.51h0M125.2 709.06h0M150.07 710.77h0M128.39 711.36h0M142.24 715.54h0M123.68 713.06h0M125.6 715.74h0M144.98 713.71h0M123.34 708.27h0M140.55 717.92h0M149.05 712.78h0M146.82 716h0M120.44 707.73h0M145.41 716.89h0M137.89 719.46h0M119.62 711.86h0M119.68 711.2h0M125.23 709.3h0M116.37 703.59h0M119.22 711.04h0M129.04 715.73h0" stroke="#A8605E" stroke-width="1.2" stroke-linecap="round"/>
<path d="M139.67 701.27h0M134.65 695.25h0M127.26 687.26h0M126.35 689.73h0M128.48 689.89h0M127.95 696.52h0M124.45 685.56h0M130.43 700.14h0M143.7 693.12h0M142.18 692.71h0M139.07 690.58h0M125.45 696h0M141.4 701.63h0M130.49 687.05h0" stroke="#A8605E" stroke-width="1.1" stroke-linecap="round"/>
<path d="M187.67 684.76h0M176.43 686.86h0M165.95 701.01h0M166.85 701.48h0M165.53 695.55h0M170.25 697.63h0M168.94 694.72h0M165.19 724.88h0M161.73 699.73h0M160.72 717.43h0M174.44 689.85h0M176.4 688.64h0M167.84 699.98h0M170.63 721.15h0M169.15 699.43h0M163.36 709.41h0M189.5 684.54h0M167.29 706.24h0M164.4 720.03h0M166.31 711.65h0M165.37 701.22h0M169.23 721.44h0M162.68 720.45h0M169.91 696.72h0M169.37 724.19h0M167.92 693.51h0M168.18 719.35h0M175.58 685.97h0M174.34 686.44h0M161.32 717.32h0M168.55 697.3h0M164.54 718.68h0M162.8 714.22h0M165.26 724.93h0M160.59 708.49h0M164.31 713.94h0M169.67 720.89h0M164.01 698.11h0M161.22 698.78h0M173.81 688.79h0M176.82 686.46h0M162.1 702.3h0M164.51 709.87h0M176.48 689.88h0M168.33 693.79h0M189.85 682h0M180.68 686.06h0M163.43 718.23h0M166.12 714.07h0M182.69 684.19h0M180.54 687.4h0M164.32 716.86h0M168.25 708.01h0M163.96 703.87h0M171.09 690.23h0M183.82 685.46h0M167.68 697.63h0M164.95 705.76h0M164.73 706.28h0M162.87 700.26h0M165.4 720.6h0M189.28 682.07h0M181.48 685.77h0M162.91 709.22h0M186.35 683.32h0M184.54 686.25h0M163.6 700.58h0M163.14 711.15h0M176.19 688.75h0M184.49 686.21h0" stroke="#A8605E" stroke-width="1.1" stroke-linecap="round"/>
<path d="M157.81 677.79h0M144.85 670.19h0M143.78 671.8h0M158.11 674.47h0M151.03 678.96h0M152.92 683.12h0M158.48 659.99h0M147.62 682.89h0" stroke="#A8605E" stroke-width="1" stroke-linecap="round"/>
<path d="M180.16 684.2h0M160.99 701.41h0M187.01 685.2h0M161.62 704.52h0M163.53 701.4h0M165.17 696.3h0M170.14 692.95h0M167.72 697.01h0M188.63 683.77h0M176.03 688h0M168.71 690.21h0M175.75 686.21h0M190.78 683.92h0M169.29 689.69h0M176.23 687.46h0M174.82 688.44h0M184.19 685.22h0M168.4 692.18h0M164.4 698.93h0M166.36 697.02h0M165.32 699.18h0M179.68 684.72h0M168.48 696.51h0M171.11 687.95h0M190.31 681.69h0M184.85 684.28h0M189.68 682.5h0M182.78 685.02h0M165.3 701.32h0M160.51 703.19h0M174.23 689.07h0M186.86 683.78h0M177.31 686.41h0M168.44 691.78h0M161.73 701.46h0M166.63 693.79h0M165.56 694.5h0M189.35 681.87h0M164.53 700.76h0M171.77 688.36h0M165.48 698.96h0M169.47 693.16h0M175.46 686.72h0M164.6 702.2h0M159.31 704.12h0M181.59 686.79h0M182.92 684.76h0M189.89 682.42h0M167.44 692.59h0M168.09 696.54h0M166.92 693.67h0M167.23 696.98h0M161.87 700.33h0M176.98 686.68h0M164.34 702.68h0M187.63 683.76h0M165.49 700.97h0M180.85 683.99h0M188.66 682.22h0M182.84 684.42h0M188.7 685.04h0M168.6 694.98h0M179.08 685.45h0M169.37 691.8h0M163.6 700.4h0M167.94 695.52h0M180.19 686.17h0M179.35 685.69h0M166.84 693.66h0M176.45 685.84h0M162.61 703.9h0M173.73 686.61h0M184.91 684.55h0M187.93 683.55h0M168.37 696.17h0M165.67 696.61h0M180.42 685.71h0M161.71 701.11h0M167.73 697.75h0M177.99 684.81h0" stroke="#A8605E" stroke-width="1.3" stroke-linecap="round"/>
<path d="M147 692.5 L149 687 L151 686.5 L150.5 690 L148 693.5Z" fill="#F6C282" />
<path d="M176.9 665.83h0M182.96 654.42h0M183.33 661.18h0M172.55 666.25h0M175.32 655.89h0M177.51 660.42h0M173.62 661.99h0M182.82 659.2h0M182.33 661h0M182.72 653.9h0M176.66 658.51h0M173.35 666.57h0M180.27 652.57h0M179.58 657.63h0M174.46 653.57h0M177.99 652.13h0M179.32 659.24h0M173.65 665h0M172.53 653.75h0M182.62 654.53h0M177.51 659.95h0M177.66 658.91h0M178.56 658.72h0M172.75 664.06h0M175.68 651.76h0M177.31 664.03h0M180.17 658.32h0M178.21 654.51h0M180.03 656.61h0M172.83 653.08h0M173.2 661.95h0M183.47 663.09h0M174.85 653.35h0M184.36 656.98h0M174.17 660.14h0M180.04 659.65h0M177.88 655.86h0M178.43 658.32h0M180.86 658.17h0M176.61 666.78h0M173.44 663.09h0M177.42 663.89h0M181.21 660.06h0M179.93 654.67h0M172.21 662.94h0M175.37 652.78h0M182.55 660.46h0M172.42 659.31h0M174.13 664.84h0M175.52 666.04h0M179.96 652.25h0M177.31 666.46h0M181.11 653.48h0M176.78 655.38h0M173.21 660.5h0" stroke="#B4B436" stroke-width="1.2" stroke-linecap="round"/>
<path d="M176 653 L180 651.5 L184 653 L184.5 657 L181 659 L177 658Z" fill="#B4B436" />
<path d="M205.19 638.69h0M192.72 651.82h0M189.31 657.62h0M203.72 648.59h0M210.7 645.5h0M207.42 657.95h0M190.98 651.72h0M207.29 663.57h0M196.38 659.31h0M194.75 649.94h0M190.86 633.45h0M188.18 651.81h0M200.91 658.93h0M207.58 645.97h0M208.26 640.27h0M209.61 644.68h0M197.85 649.1h0M189.36 634.47h0M200.53 655.57h0M189.03 645.42h0M196.51 657.78h0M206.03 663.09h0M204.25 651.19h0M188.93 635.18h0M193.51 634.7h0M205.5 657.59h0M209 655.03h0M196 647.5h0M189.01 650.73h0M202.27 659.02h0M198.96 651.21h0M188.44 646.18h0M194.72 646.13h0M189.47 637.57h0M190.26 652.09h0M188.76 632.68h0M203.66 645.97h0M202.92 650.05h0M197.09 635.32h0M210.21 646.51h0M195.04 636.8h0M197.24 658.63h0M204.1 649h0M203.03 656.17h0M191.31 640h0M189.55 641.28h0M198.01 639.21h0M209.02 655.58h0M190.38 639.03h0M202.31 654.46h0M200.45 658.22h0M209.61 664.51h0M189.22 647.99h0M190.67 656.56h0M192.74 637.54h0M189.36 632.51h0M194.01 638.44h0M200.05 659.04h0M204.58 642.7h0M193.89 657.71h0M194.33 653.39h0M210.32 651.15h0M189.31 633.78h0M201.86 642.15h0M201.77 639.67h0M193.06 640.31h0M204.43 654.9h0M188.65 655.4h0M205.54 647.44h0M188.03 633.99h0M205.49 662.99h0M196.71 653.16h0M203.83 657.21h0M202.82 638.27h0M194.01 635.32h0M206.66 653.45h0M196.49 647.41h0M194.13 654.8h0M194.92 650.19h0M209.22 653.69h0M196.08 636.5h0M205.77 647.42h0M198.28 641.84h0M204.13 646.68h0M198.17 638.81h0M189.82 634.52h0M193.36 656.4h0M203.24 638.43h0M188.74 640.9h0M203.7 640.12h0M198.57 635.92h0M206.15 651.02h0M199.7 641.09h0M203.72 663.38h0M202.37 662.44h0M200.69 641.84h0M210.67 648.61h0M188.76 641.99h0M202.34 660.23h0M209.15 644.06h0" stroke="#B4B436" stroke-width="1.2" stroke-linecap="round"/>
<path d="M196 645 L199 643.5 L203 645.5 L205.5 648 L205 651.5 L201 653 L197 652 L195.5 649Z" fill="#B4B436" />
<path d="M193.35 634.18h0M194.9 637.43h0M194.8 637.04h0M192.65 634.79h0M196.92 635.57h0M196.75 640.66h0M192.35 634.61h0M197.35 638.33h0M192.16 635.29h0M195.38 638.53h0M195.27 641.08h0M196 635.34h0M196.84 638.94h0M191.6 634.28h0M196.86 636.81h0M194.07 637.28h0M195.88 637.88h0M193.4 640.93h0M198.24 637.99h0M196.48 637.98h0M196.3 640.71h0M198.18 639.5h0M198.84 637.26h0M194.16 634.98h0M193.97 639.72h0M191.44 635.72h0M195.71 633.61h0M196.52 636.69h0M195.14 638.15h0M194.59 633.11h0" stroke="#B4B436" stroke-width="1.2" stroke-linecap="round"/>
<path d="M197.87 649.17h0M198.92 648.59h0M198.78 652.18h0M195.92 651.79h0M197.37 643.41h0M205.12 646.27h0M195.82 656.19h0M206.35 652.35h0M202.91 646.04h0M195.26 646.27h0M195.91 654.39h0M197.61 648.19h0M203.22 657.12h0M196.57 641.75h0M209.5 655.15h0M206.02 649.9h0M195.46 643.63h0M196.78 648.83h0M207.01 649.36h0M208.46 649.08h0M206.12 648.72h0M202.65 649.49h0M191.43 643.45h0M195.41 647.91h0M198.02 650.17h0M203.53 647.8h0M197.07 649.69h0M209.1 654.31h0M203.45 654.89h0M195.33 642.72h0M192.77 643.07h0M204.05 656.99h0M205.54 643.6h0M203.13 645.34h0M200.98 656.62h0M192.98 643.5h0M199.82 653.41h0M191.58 644.37h0M203.68 656.72h0M200.55 642.76h0M195.1 648.07h0M193.06 642.97h0M199.25 655.29h0M195.51 656.01h0M207.65 648.36h0M195.27 644.14h0M203.68 655.04h0M207.35 644.55h0M196.79 646.01h0M193.35 642.3h0M200.48 650.08h0M199.97 651.02h0M200.55 649.34h0M192.51 651.75h0M203.71 653.31h0M196.95 648.86h0M206.32 653.37h0M192 646.69h0M194.26 653.09h0M198.65 647.65h0M195.24 648.72h0M204.65 651.73h0M195.21 647.72h0M202.88 643.5h0M209.17 652.76h0M195.23 649.56h0M207.06 655.52h0M203.59 651.85h0M205.1 656.56h0M200.76 651.46h0M206.17 649.68h0M195.15 650.87h0M197.64 653.14h0M205.21 656.41h0M193.07 641.38h0M208.69 653.42h0M194.53 651.42h0M205.4 643h0M209.01 644.91h0M194.87 648.42h0" stroke="#B4B436" stroke-width="1.3" stroke-linecap="round"/>
<path d="M170.4 658.4 L174.4 654.4" fill="none" stroke="#A8605E" stroke-width="1.2" stroke-linecap="round" stroke-linejoin="round"/>
<ellipse cx="185.6" cy="693.6" rx="1.8" ry="1.3" fill="#EE8BC0" transform="rotate(0 185.6 693.6)"/>
<path d="M183.83 732.09h0M187.23 725.98h0M180.36 728.11h0M185.66 725.82h0M186.71 729.54h0M185.92 732.98h0M184.84 731.56h0M187.42 731.38h0M179.48 731.01h0M180.42 731.47h0M184.45 729.94h0M177.79 728.34h0M180.02 732.67h0M186.94 732.99h0M182.54 725.66h0M184.48 726.81h0M185.28 727.79h0M183.01 728.63h0M180.09 728.9h0M185.67 727.87h0" stroke="#E8392E" stroke-width="1.1" stroke-linecap="round"/>
<path d="M190.6 727.8 L192.6 725.6" fill="none" stroke="#3C9A4A" stroke-width="1.6" stroke-linecap="round" stroke-linejoin="round"/>
<path d="M206 704 L210 704.5 L213 707 L214 712 L213 718 L212 724 L213 730 L215.5 738 L217.5 746 L216.5 751 L213 752 L209.5 748 L207.6 741.2 L208.5 734 L205 729 L201.5 723 L200.5 716 L201 709 L203.5 705.5Z" fill="#9D63AD" />
<path d="M212.92 707.22h0M221.15 708.03h0M213.25 712.89h0M218.1 708.63h0M213.23 708.19h0M211.47 709.08h0M213.2 720.37h0M219.61 716.74h0M222.26 709.6h0M214.95 716.55h0M215.42 713.85h0M226.47 709.74h0M213.1 712.09h0M213.85 711.26h0M224.71 711.35h0M217.42 709.38h0M222.26 707.97h0M213.93 718.04h0M214.23 716.71h0M218.16 705.53h0M216.48 716.47h0M223.95 711.78h0M223.36 713.86h0M220.26 712.62h0M218.25 716.41h0M215.14 719.71h0M216 708.93h0M217.92 714.39h0M222.45 713.57h0M217.21 711.12h0M214.73 708.34h0M212.74 707.23h0M222.43 710.04h0M219.68 716.09h0M212.23 717.92h0M214.3 718.68h0M216.43 713.6h0M223.17 711.82h0M217.8 716.85h0M216.61 718.42h0M216.81 714.79h0M219.84 713.93h0M217.74 711.66h0M223.51 706.55h0M215.14 706.05h0M216.17 719.07h0M221.65 705.37h0M219.09 705.52h0M211.29 706.21h0M225.9 711.95h0M211.98 718.82h0M219.22 710.82h0M217.68 708.52h0M226.02 710.96h0M212.97 711.34h0M212.07 708.42h0M213.72 709.35h0M218.68 715.82h0M227.07 708.76h0M217.11 714.94h0M217.33 715.99h0M215.7 711.32h0M213.54 712.28h0M216.41 714.35h0M225.67 707.82h0M227.17 707.73h0M211.6 710.41h0M213.12 710.29h0M215.27 716.22h0M225.23 709.4h0M217.95 707h0M212.4 707.75h0M212.08 719.3h0M215.99 716.63h0M224.02 709.1h0M218.74 715.68h0M218.71 715.56h0M212.3 719.62h0M214.68 706.8h0M218.46 708.36h0M215.62 714.97h0M219.72 709h0M226.15 710.49h0M212.18 719.52h0M216.03 712.14h0M212.72 709.72h0M225.07 708.18h0M223.39 710.17h0M215.22 707.43h0M224.24 709.31h0" stroke="#9D63AD" stroke-width="1.2" stroke-linecap="round"/>
<path d="M214.89 716.92h0M216.74 708.34h0M213 711.33h0M215.89 708.12h0M216.46 713.35h0M214.44 706.34h0M215.44 716.18h0M216.85 715.93h0M212.52 715.41h0M213.03 716.06h0M215.23 713.91h0M211.59 711.66h0M212.81 717.74h0M214.18 707.89h0M215.25 709.51h0M216.98 707.94h0M215.68 710.89h0M214.44 712.07h0M212.85 712.44h0M215.89 711h0M213.17 718.28h0M212.07 711.08h0M214.1 713.79h0M212.02 718h0M213.93 706.55h0M213.03 705.97h0M213.06 706.94h0M212.53 714.45h0M215.14 710.1h0M213.78 713.72h0M212.3 718.15h0M212.78 715.44h0M211.58 714.56h0M213.46 712.83h0M214.73 708.86h0M212.98 711.52h0M216.28 710.86h0M216.96 708.12h0M216.11 710.01h0M211.82 712.86h0M215.95 706.74h0M214.57 719.55h0M211.18 713.35h0M212.87 712.95h0M215.99 712.43h0M212.82 708.46h0M215.9 707.55h0M211.75 715.34h0M214.65 706.35h0M213.6 710.2h0M211.76 711.81h0M212 714.28h0M214.48 713.86h0M216.1 715.23h0M212.22 714.49h0M214.28 718.03h0M213.19 715.79h0M212.25 716.83h0M211.97 710.94h0M214.13 717.35h0" stroke="#9D63AD" stroke-width="1.3" stroke-linecap="round"/>
<circle cx="222.2" cy="634.8" r="0.7" fill="#8DD0F2"/>
<path d="M149.8 770.19h0M149.37 770.16h0M146.09 770.24h0M150.49 771.29h0M151.9 771.71h0M145.46 771.51h0M149.43 776.28h0M152.2 773.81h0M150.92 770.96h0M150.61 776.66h0M147.72 767.09h0M145.23 770.11h0M148.27 774.83h0M153.56 775.49h0M154.62 776.02h0M151.83 776.4h0M148.66 768.46h0M144.8 767.48h0M146.3 770h0M153.64 776.43h0M150.64 776.91h0M150.09 769.72h0M151.38 776.76h0M148.5 770.67h0M151.07 770.84h0M145.23 770.17h0M148.91 774.69h0M148.59 768.33h0M147.09 766.59h0M146.97 769.8h0M150.43 775.77h0M144.73 768.76h0M146.13 768.3h0M147.36 770.87h0M151.95 776.42h0M152.68 776.41h0M146.06 766.93h0M151.07 776.03h0M146.8 766.6h0M152.83 775.62h0M152.78 776.14h0M147.7 774.82h0M154.55 776.53h0M145.94 771.68h0M149.63 774.24h0" stroke="#BD5D2A" stroke-width="1.3" stroke-linecap="round"/>
<path d="M156.79 778.89h0M152.65 778.57h0M155 782.42h0M152.01 784.42h0M157.55 785.17h0M158.47 783.63h0M157.13 782.74h0M158.05 784.95h0M151.41 780.94h0M153.9 784.29h0M151.01 778.43h0M153.96 783.7h0" stroke="#BD5D2A" stroke-width="1.2" stroke-linecap="round"/>
<line x1="282.5" y1="618" x2="282.5" y2="793.05" stroke="#333" stroke-width="1.1" />
<line x1="281.95" y1="792.5" x2="452.8" y2="792.5" stroke="#333" stroke-width="1.1" />
<line x1="280.1" y1="629.2" x2="282.5" y2="629.2" stroke="#333" stroke-width="0.9900000000000001" />
<text x="278.72" y="632.42" font-size="9.2" text-anchor="end" font-weight="normal" fill="#111" >10</text>
<line x1="280.1" y1="661.3" x2="282.5" y2="661.3" stroke="#333" stroke-width="0.9900000000000001" />
<text x="278.72" y="664.52" font-size="9.2" text-anchor="end" font-weight="normal" fill="#111" >5</text>
<line x1="280.1" y1="693.4" x2="282.5" y2="693.4" stroke="#333" stroke-width="0.9900000000000001" />
<text x="278.72" y="696.62" font-size="9.2" text-anchor="end" font-weight="normal" fill="#111" >0</text>
<line x1="280.1" y1="725.5" x2="282.5" y2="725.5" stroke="#333" stroke-width="0.9900000000000001" />
<text x="278.72" y="728.72" font-size="9.2" text-anchor="end" font-weight="normal" fill="#111" >-5</text>
<line x1="280.1" y1="757.6" x2="282.5" y2="757.6" stroke="#333" stroke-width="0.9900000000000001" />
<text x="278.72" y="760.82" font-size="9.2" text-anchor="end" font-weight="normal" fill="#111" >-10</text>
<line x1="280.1" y1="789.7" x2="282.5" y2="789.7" stroke="#333" stroke-width="0.9900000000000001" />
<text x="278.72" y="792.92" font-size="9.2" text-anchor="end" font-weight="normal" fill="#111" >-15</text>
<line x1="315.6" y1="792.5" x2="315.6" y2="794.9" stroke="#333" stroke-width="0.9900000000000001" />
<text x="315.6" y="803.64" font-size="9.2" text-anchor="middle" font-weight="normal" fill="#111" >-5</text>
<line x1="350.1" y1="792.5" x2="350.1" y2="794.9" stroke="#333" stroke-width="0.9900000000000001" />
<text x="350.1" y="803.64" font-size="9.2" text-anchor="middle" font-weight="normal" fill="#111" >0</text>
<line x1="384.6" y1="792.5" x2="384.6" y2="794.9" stroke="#333" stroke-width="0.9900000000000001" />
<text x="384.6" y="803.64" font-size="9.2" text-anchor="middle" font-weight="normal" fill="#111" >5</text>
<line x1="419.1" y1="792.5" x2="419.1" y2="794.9" stroke="#333" stroke-width="0.9900000000000001" />
<text x="419.1" y="803.64" font-size="9.2" text-anchor="middle" font-weight="normal" fill="#111" >10</text>
<text x="359.4" y="814.6" font-size="9.3" text-anchor="middle" font-weight="normal" fill="#111" >UMAP_1</text>
<text x="0" y="0" font-size="9.3" text-anchor="middle" font-weight="normal" fill="#111" transform="translate(262 705.25) rotate(-90)">UMAP_2</text>
<path d="M310.2 644.9 L316.8 639.6 L327.4 635 L340.7 632.3 L350 633.2 L356.6 636.9 L357.3 639.6 L352.6 642.2 L347.3 648.9 L343.4 656.8 L339.4 664.8 L336.7 670.1 L335.4 676.7 L343.4 675.4 L350 680.7 L354 683.4 L354 686 L344.7 687.3 L335.4 688.7 L328.8 691.3 L322.1 696.6 L316.8 701.9 L315.5 709.9 L318.2 717.8 L320.8 725.8 L314.2 725.8 L310.2 719.2 L304.9 707.2 L304.9 696.6 L308.9 690 L308.2 680.7 L306.9 668.8 L308.9 658.2 L311.5 651.5 L309.5 647.5Z" fill="#A8605E" />
<path d="M297.64 709.78h0M292.05 694.92h0M303.57 695.55h0M300.78 703.64h0M293.37 700.59h0M293.63 697.64h0M301.87 706.23h0M296.82 697.3h0M307.4 717.71h0M308.1 708.93h0M305.06 697.04h0M303.1 697.7h0M296.36 702.3h0M303.23 713.74h0M310.15 717.39h0M295.74 696.58h0M302.72 706.19h0M303.84 694.43h0M302.23 710.08h0M291.1 702.38h0M299.01 712.81h0M298.78 712.51h0M301.36 695.07h0M291.63 697.05h0M296.37 710.55h0M299.96 712.5h0M295.12 701.68h0M302.48 708.54h0M289.84 694.91h0M304.24 717.3h0M305.89 698.62h0M305.84 717.61h0M296.67 692.29h0M297.25 699.35h0M292.87 693.17h0M293.54 697.03h0M293.04 703.83h0M304.29 705.63h0M300.53 710.64h0M299.15 710.64h0M299.27 695.47h0M305.39 716.51h0M304.18 707.07h0M291.61 703.05h0M292.09 701.9h0M295.76 703.06h0M304.64 706.08h0M305.17 713.51h0M297.01 702.43h0M293.37 697.57h0M296.6 710.14h0M297.1 712.05h0M290.45 698.47h0M302.75 704.47h0M295.1 696.72h0M295.54 704.32h0M297.35 711.7h0M301.75 702.49h0M302.31 714.01h0M300.9 700.31h0M293.13 701.7h0M303.81 705.5h0M297.53 709.61h0M301.19 697.76h0M298.04 713.41h0M304.05 700.42h0M290.36 698.46h0M292.1 693.24h0M295.88 693.16h0M298 706h0M298.69 695.68h0M298.68 704.48h0M299.52 709.83h0M308.82 713.5h0M305 700.81h0M292.71 694.33h0M301.52 715.65h0M296.09 702.12h0M304.05 713.81h0M298.92 702.44h0M306.97 711.12h0M301.23 712.4h0M298.98 695.57h0M301.88 714.65h0M297.38 697.94h0M298.26 700.14h0M295 703.45h0M303.73 700.91h0M293.1 697.88h0M298.51 694.03h0M300.92 704.64h0M296.75 709.98h0M299.61 693.61h0M302.22 700.16h0M304.56 707.87h0M307.72 714.99h0M301.13 707.39h0M305.88 698.86h0M300.99 712.46h0M302.08 706.1h0M307.83 717.36h0M294.7 693.95h0M302.5 695.86h0M300.75 713.25h0M298.97 696.69h0M299.13 695.46h0M300 709.24h0M293.13 695.54h0M304.57 711.19h0M302.01 700.99h0M307.87 712.45h0M303.01 699.52h0M292.71 694.55h0M306.85 714.05h0M296.65 696.68h0M295.55 693.35h0M300.31 696.21h0M289.8 693.93h0M307.96 710.33h0M302.34 716.01h0M296.9 702.74h0M304.79 714.94h0M292.64 698.84h0M303.3 694.74h0M299.79 700.95h0M292.53 704.16h0M297.05 698.06h0M303.22 709.21h0M310 717.18h0M299.25 710.62h0M297.25 703.27h0M301.93 709.7h0M306.09 704.05h0M301.08 711.95h0M304.13 717.42h0M298.96 696.13h0M302.26 702.18h0M304.07 716.89h0M302.24 699.13h0M304.29 708.26h0M297.78 704.1h0M301.24 703.6h0M303.91 712.09h0M302.33 701.69h0M294.57 693.8h0M303.75 704.66h0M295.7 703.43h0M305.71 701.92h0M301.44 695.99h0M290.91 693.93h0M291.95 701.79h0M306.98 717.9h0M290.08 696.29h0M300.88 714.97h0M293.93 704.24h0M304.11 697.89h0M300.49 713.45h0M306.94 710.11h0M307.23 717.9h0M302.31 698.48h0M293.88 693.47h0M302.26 714.69h0M304.2 702.2h0M301.88 694.14h0M294.57 700.93h0M306.48 709.2h0M302.28 702.27h0M296.74 702h0M309.01 713.19h0M294.48 704.97h0M305.38 697.2h0M296.84 707.25h0M303.72 702.33h0M304.65 697.47h0M295.98 694.42h0M302.83 703.02h0M295.99 710.3h0M294.59 695.69h0M306.51 715.06h0M306.76 706.52h0M304.78 714.44h0M296.82 711.07h0M296.39 711.86h0M298.58 707.35h0M302.83 713.36h0M301.4 697.5h0M298.7 706.63h0M304.88 702.22h0M295.77 702.58h0M304.51 704.3h0" stroke="#A8605E" stroke-width="1.2" stroke-linecap="round"/>
<path d="M317.4 705.42h0M327.66 725.38h0M317.96 717.05h0M336.16 717.6h0M336.15 729.96h0M317.5 701.76h0M324.15 703.43h0M333.59 719.4h0M329.6 727.34h0M329.88 706.03h0M323.57 706.61h0M325.96 699.74h0M327.18 729.02h0M326.42 724.67h0M317.73 699.46h0M322.9 712.15h0M320.24 698.43h0M332.37 734.5h0M336.63 721.35h0M328.37 717.04h0M321.02 711.82h0M336.32 717.09h0M330.3 729.38h0M331.33 702.43h0M326.68 700.28h0M323.3 703.55h0M324.46 700.25h0M332.97 735.59h0M320.66 727.73h0M329.82 716.02h0M333.17 723.59h0M334.27 711.87h0M318.3 709.54h0M321.14 714.42h0M326.54 732.63h0M321.71 718.64h0M318.66 700.31h0M327.82 699.6h0M323.3 725.17h0M327.94 704.31h0M324.45 697.87h0M328 726.63h0M319.86 700.44h0M333.24 733.26h0M324.73 715.64h0M331.09 717.49h0M318.64 707.83h0M320.55 704.77h0M317.66 712.41h0M319.28 719.54h0M327.11 718.08h0M318.52 717.93h0M334.1 714.54h0M326.46 702.88h0M334.77 713.59h0M335.08 720.94h0M328.34 716.31h0M325.14 730.91h0M336.57 725.33h0M318.07 710.7h0M330.24 728h0M333.49 721.81h0M330.22 723.24h0M328.89 707.85h0M317.27 721.13h0M331.92 721.65h0M332.19 731.35h0M330.62 710.73h0M325.71 723.59h0M319.75 721.71h0M336.36 724.89h0M325.4 727.17h0M317.44 703.34h0M319.61 702.1h0M326.45 718.53h0M331.07 714.35h0M329.15 734.11h0M333.42 707.55h0M318.44 726.42h0M318.88 718.87h0M331.93 711.13h0M325.57 701.03h0M318.96 705.76h0M320.35 715.29h0M320.65 706.45h0M329.26 700.33h0M328.18 724.51h0M326.46 704.49h0M316.24 707.84h0M325.51 700.97h0M325.95 717.03h0M317.07 723.17h0M326.51 729.81h0M338.81 727.17h0M338.61 727.01h0M323.46 702.3h0M327.43 724.7h0M322.09 711.18h0M316.98 702.9h0M320.83 698.72h0M316.7 710.56h0M317.02 704.48h0M317.38 707.64h0M317.67 703.47h0M320.25 706.19h0M331.04 711.57h0M336.7 730.64h0M326.1 709.93h0M320.28 714.35h0M320.41 724.54h0M333.4 722.94h0M319.1 717.42h0M317.62 720.6h0M318 721.89h0M326.98 728.28h0M334.51 712.49h0M328.64 713.62h0M330.11 720.02h0M327.29 718.64h0M329.26 727.4h0M325.84 705.57h0M323.05 712.69h0M326.62 701.18h0M322.71 714.99h0M324.96 717.88h0M317.19 719.01h0M337.68 726.11h0M329.15 728.74h0M324.81 703.97h0M330.5 706.63h0M322.19 727.29h0M327.98 703.88h0M320.82 725.92h0M331.43 732.4h0M333.6 708.23h0M332.71 731.74h0M337.1 732.98h0M319.05 706.84h0M332.48 718.99h0M320.31 713.21h0M337.32 724.74h0M328.13 708.86h0M324.8 716.22h0M330.32 707.79h0M322.57 717.2h0M337.59 722.6h0M327.78 718.85h0M335.65 713.91h0M323.47 700.57h0M323.69 699.39h0M321.74 722.27h0M327 729.94h0M336.38 732.65h0M335.24 717.43h0M334.26 721.63h0M334.37 732.8h0M331.43 702.7h0M326.24 718.36h0M321.03 724.8h0M323.52 700.45h0M324.29 725.96h0M331.07 709.76h0M325.77 724.16h0M320.32 713.3h0M320.84 704.11h0M322.91 702.58h0M316.4 713.82h0M326.21 721.31h0M327.18 708.06h0M330.64 714.48h0M329.99 733.56h0M334.1 735.87h0M335.38 727.19h0M333.82 723.49h0M325.08 721.18h0M320.18 728.02h0M328.3 711.1h0M332.08 724.96h0M330.49 709.37h0M325.5 697.92h0M321.19 727.75h0M332.81 705.75h0M326.05 699.28h0M328.35 729.21h0M330.05 708.4h0M328.11 711.45h0M338.66 728.37h0M320.6 721.11h0M318.98 719.43h0M331.15 713.68h0M328.75 720.57h0M323.8 702.83h0M330.74 729.83h0M325.39 705.47h0M336.6 725.82h0M320.92 727.08h0M320.41 722.71h0M334.53 719.33h0M319.47 711.24h0M323.21 717.01h0M324.69 729.71h0M330.83 728.5h0M319.89 701.92h0M333.03 711.24h0M335.68 732.12h0M336.38 723.01h0M321.31 700.21h0M327.56 728.44h0M316.77 713.36h0M330.35 709.72h0M332.42 726.88h0M335.85 733.57h0M317.18 720.99h0M322.02 723.97h0M325.95 701.29h0M316.73 720.93h0M318.88 702.96h0M321.95 718.09h0M317.48 710.03h0M322.46 706.95h0M333.85 715.3h0M334.74 733.69h0M316.38 721.91h0M328.48 703.43h0M322.72 725.22h0M330.45 701.31h0M325.42 721.06h0M321.38 703.21h0M328.29 732.71h0M319.4 701.28h0M316.58 720.44h0M331.37 734.34h0M318.78 726.55h0M325.98 732.25h0M330.88 701.55h0M331.21 707.17h0M334.9 722.36h0M327.42 731.25h0M333.23 712.23h0M325.01 731.08h0M332.3 704.27h0M323.82 706.71h0M324.11 714.91h0M333.48 714.24h0M331.28 710.45h0M335.26 716.85h0M331.93 723.47h0M329.51 710.19h0M324.78 706.27h0M324.14 700.14h0M316.05 705.06h0M335.45 720.18h0M320.39 699.09h0M325.25 718.95h0M330.29 702.05h0M334.33 729.94h0M321.23 706.5h0M333.27 710.54h0M330.64 721.18h0M330.21 730.83h0" stroke="#A8605E" stroke-width="1.2" stroke-linecap="round"/>
<path d="M347.84 712.85h0M352.52 707.88h0M349.39 716.47h0M354.27 706.61h0M349.38 712.64h0M347.04 710.23h0M354.93 712.9h0M342.72 708.33h0M346.43 704.74h0M348.54 714.3h0M345.1 715.85h0M354.63 711.78h0M349.95 705.64h0M342.4 706.99h0M354.04 714.5h0M339.34 708.5h0M341.61 707.82h0M342.78 709.52h0M340.52 705.54h0M351.2 711.84h0M339.35 706.09h0M339.27 708.43h0M338.09 707.86h0M340.86 706.7h0M349.42 710.41h0M346 709.01h0M347.24 714.99h0M342.85 704.98h0M346.14 709.31h0M351.83 705.55h0M353.58 704.21h0M347.3 710.21h0M342.99 716.44h0M350.34 706.28h0M346.4 712.57h0M337.64 705.22h0M348.43 714.21h0M345.79 709.91h0M346.63 707.65h0M344.55 715.24h0M343.17 705.48h0M340.52 713.96h0M348.82 708.01h0M348.85 714.65h0M355.36 715.64h0M345.25 715.33h0M354.58 716.17h0M351.26 712.21h0M346.72 715.9h0M348.88 714.1h0M341.33 705.29h0M342.14 712.17h0M347.89 706.78h0M340.58 717.3h0M351.67 712.03h0M344.85 716.83h0M352.46 705.93h0M351.83 715.08h0M341.33 705.58h0M343.96 715.19h0M351.07 716.14h0M355.39 714.57h0M352.88 704.23h0M348.76 708.58h0M339.44 708.65h0M343.44 710.94h0M345.55 706.83h0M338.56 706.84h0M339.44 705.4h0M344.88 705.82h0" stroke="#A8605E" stroke-width="1.2" stroke-linecap="round"/>
<path d="M313.71 702.44h0M303.51 701.06h0M309.31 717.59h0M304.52 693.12h0M315.59 729.45h0M313.59 692.91h0M317.83 722.81h0M314.54 718.98h0M316.8 728.49h0M300.46 711.26h0M324.19 700.84h0M299.49 700.46h0M306.75 723.09h0M309.7 722.25h0M306.33 712.52h0M302.78 717.75h0M312.91 727.09h0M304.86 700.99h0M318.55 719.02h0M318.27 725.6h0M312.88 708.07h0M303.99 699.17h0M308.47 708.56h0M319.93 716.66h0M312.83 706.35h0M316.39 706.44h0M321.72 717.68h0M318.54 706.05h0M313.05 721.01h0M306.94 719.64h0M300.71 704.39h0M304.87 706.85h0M321.41 717.32h0M298.15 709.04h0M312.39 726.57h0M309.08 693.15h0M325.37 725.98h0M303 714.83h0M311.76 696.14h0M308.8 722.63h0M320.57 723.08h0M315.98 728.8h0M307.61 710.58h0M310.87 694.34h0M312.16 722.78h0M314.8 697.63h0M304.52 710.81h0M300.28 698.63h0M319.92 694.58h0M300.55 696.82h0M318.28 714.35h0M320.54 723.34h0M319.43 712.25h0M306.43 715.7h0M301.64 699.82h0M318.7 715.7h0M301.26 709.05h0M315.55 699.57h0M317.12 696.16h0M302.1 707.85h0M305.92 720.93h0M309.85 702.45h0M322.38 725.88h0M320.95 695.17h0M305.43 694.22h0M320.08 709.94h0M324.91 709.47h0M323.51 715.3h0M301.23 710.69h0M321.09 705.07h0M312.92 703.81h0M321.44 710.8h0M311 692.71h0M319.57 697.45h0M305.78 715.63h0M318.44 705.23h0M313.54 706.75h0M313.45 727.32h0M316.83 717.11h0M310.37 701.9h0M300.5 697.71h0M310.17 695.5h0M314.56 727.69h0M316.25 716.42h0M311.86 706.03h0M311.48 704.74h0M309.16 697.78h0M318.5 726.72h0M304.24 700.9h0M301.47 711.55h0M323.8 720.19h0M316.52 722.98h0M315.9 725.45h0M315.94 699.72h0M300.51 712.88h0M324.16 726.06h0M320.44 692.03h0M300.07 699.58h0M322.22 724.32h0M324.29 727.64h0M307.75 720.39h0M321.44 699.82h0M325.45 716.64h0M318.47 705.89h0M319.71 698.52h0M307.32 720.4h0M323.92 714.42h0M314.7 693.04h0M311.81 698.83h0M306.13 707.14h0M312.45 703.9h0M319.09 695.07h0M315.98 714.69h0M314.78 694.34h0M316.64 708.02h0M301.28 697.44h0M309.12 712.92h0M301.37 691.57h0M311.75 709.48h0M297.57 703.69h0M304.91 697.16h0M310.14 693.47h0M301.96 701.4h0M306.32 709.32h0M308.23 718.64h0M306.44 707.82h0M323.08 694.87h0M321.48 717.66h0M323.7 729.38h0M321.8 723.66h0M311.04 707.21h0M314.42 717.76h0M312.1 707.02h0M320.96 711.46h0M309.85 705.23h0M319.77 699.72h0M320.63 703.53h0M300.71 694.59h0M309.07 719.06h0M325.02 713.71h0M299.27 708.68h0M309.49 695.28h0M298.74 705.1h0M302.22 711.27h0M313.41 718.53h0M310.39 706.64h0M311.61 710.42h0M299.65 696.12h0M319.61 693.29h0M319.35 704.13h0M322.7 718.34h0M326.7 725.29h0M299.58 711.71h0M319.78 726.28h0M321.21 723.86h0M303.97 709.09h0M308.01 701.37h0M300.61 692.48h0M318.76 701.85h0M306.58 691.08h0M310.67 718.84h0M323.57 716.44h0M297.94 710.55h0M325.89 718.03h0M317.24 702.35h0M318.42 721.92h0M317.07 728.65h0M303.32 696.34h0M316.04 723.84h0M321.74 705.74h0M325.87 716.8h0M314.86 709.49h0M320.31 696h0M309.48 703.42h0M312.25 720.4h0M308.76 702.71h0M315.71 704.27h0M325.58 720.77h0M322.8 726.03h0M308.44 703.76h0M316.5 726.03h0M312.88 727.05h0M327.2 724.48h0M321.77 698h0M316.56 718.67h0M316.36 724.9h0M311.02 719.6h0M316.4 710.27h0M315.85 717.2h0M323.62 713.62h0M301.65 696.82h0M313.44 713.18h0M305.41 722.28h0M310.01 691.32h0M308.13 709.37h0M305.72 698.39h0M305.32 695.01h0M325.52 722.29h0M323.75 708.96h0M322.09 728.87h0M316.56 693.63h0M314.61 695.43h0M302.5 693.96h0M306.34 706.69h0M322.29 717.01h0M320.9 711.26h0M311.03 722.9h0M301.3 704.72h0M305.05 694.1h0M303.03 698.09h0M326.19 698.41h0M322.37 728.03h0M318.41 695.95h0M323.97 723.32h0M309.35 690.85h0M313.17 719.31h0M309.91 723.39h0M318.75 694.02h0M317.84 729.69h0M306.5 722.85h0M311.48 720.71h0M298.34 712.17h0M323.28 714.89h0M321.42 716.75h0M319.58 722.48h0M301.69 704.71h0M317.04 720.38h0M325.83 704.59h0M299.06 706.12h0M317.48 715.1h0M318.36 698.96h0M321.45 710.32h0M311.89 694.52h0M306.87 703.23h0M304 718.61h0M320.08 706.99h0M305.45 708.18h0M317.71 722.14h0M322.8 727.71h0M321.8 702.3h0M311.74 714.37h0M317.74 711.6h0M304.87 698.4h0M300.65 703.68h0M297.94 699.93h0M315.51 712.3h0M312.81 698.17h0M317.98 717.96h0M312.34 706.95h0M312.28 704.84h0M313.56 699.99h0M306.56 690.61h0M300.48 714.73h0M305.18 718.73h0M325.85 723.07h0M307.04 718h0M324.07 704.82h0M319.12 694.54h0M315.82 696h0M297.62 699.27h0" stroke="#A8605E" stroke-width="1.3" stroke-linecap="round"/>
<path d="M319.48 705.65h0M322.45 704.21h0M319.1 705.6h0M318.15 721.35h0M315.04 708.12h0M316.25 705.74h0M320.08 707.49h0M321.3 708.18h0M315.7 707.85h0M318.08 716.82h0M319.63 701.91h0M320.74 704.46h0M319.12 702.5h0M318.11 716.65h0M319.16 715.81h0M321.57 711.68h0M320.45 706.93h0M320.18 716.43h0M317.67 700.48h0M315.5 705.52h0M318.15 713.38h0M318.67 720.38h0M320.59 705.03h0M322.75 714.48h0M321.25 715.99h0M320.28 719.06h0M323.49 709.87h0M318.49 702.77h0M314.28 701.82h0M319 700.17h0M315.13 701.14h0M320.34 718.91h0M316.44 705.34h0M322.81 716.05h0M320.21 716.85h0M319.73 704.87h0M320.85 716.6h0M314.55 705.05h0M316.88 713.84h0M318.35 706.46h0M319 719.37h0M320.58 706.73h0M315.5 705.61h0M318.71 713.15h0M318.43 702.55h0M320.52 701.18h0M323.71 708.59h0M317.12 699.65h0M317.02 705.01h0M320.02 714.95h0M315.07 703.26h0M317.7 717.45h0M316.29 702.5h0M320.37 703.29h0M317.36 706.79h0M316.99 713.48h0M321.35 716.03h0M321.98 716.01h0M316.22 700.21h0M321.5 706.17h0M320.59 715.38h0M316.87 699.66h0M322.11 714.7h0M322.07 715.57h0M317.65 713.36h0M317.67 719.59h0M317.46 719.74h0M321.06 702.23h0M316.12 708.13h0M319.33 712.41h0M316.45 714.85h0M317.17 704.41h0M319.04 718.88h0M322.28 714.96h0M316.43 712.68h0M318.73 704.62h0M321.72 713.87h0M322.94 707.62h0M315.44 703.78h0M321.4 714.57h0" stroke="#A8605E" stroke-width="1.4" stroke-linecap="round"/>
<path d="M344.46 680.54h0M340.39 680.99h0M348.42 683.55h0M337.38 671.1h0M340.08 679.94h0M350.94 680.6h0M341.02 673.71h0M344.56 680.93h0M345.17 677.06h0M342.78 674.47h0M349.04 680.46h0M340.53 686.33h0M342.72 678.31h0M338.09 674.95h0M339.74 675.33h0M337.1 675.39h0M337.67 679.44h0M342.5 674.09h0M344.5 686.1h0M345.75 685.67h0M337.04 683.21h0M341.38 675.78h0M348.31 683.35h0M341.47 676.54h0M340.46 686.81h0M340.31 679.03h0M344.76 683.74h0M340.03 682.5h0M341.89 684.65h0M343.44 680.69h0M348.03 682.67h0M349.78 680.87h0M344.69 678.31h0M342.51 678.33h0M343.89 677.06h0M338.32 677.16h0M340.97 682.04h0M348.06 681.18h0M337.93 674.24h0M347.55 681.43h0" stroke="#A8605E" stroke-width="1.2" stroke-linecap="round"/>
<path d="M354.6 684 L356.5 681 L359.3 680.7 L359 684.5 L356 686.7Z" fill="#F6C282" />
<ellipse cx="358.9" cy="663.1" rx="4.2" ry="1.4" fill="#A8605E" transform="rotate(-8 358.9 663.1)"/>
<path d="M408.02 650.44h0M416.46 654.09h0M408.79 650.34h0M416.78 656.14h0M396.35 638.2h0M415.19 645.17h0M416.59 638.12h0M415.37 638.45h0M385.77 648.04h0M386.89 633.99h0M398.51 631.51h0M391.68 628.85h0M391.53 628.96h0M423.35 643.91h0M405.75 639.1h0M401.23 634.94h0M406.09 650.64h0M422.48 652.98h0M413.2 643.99h0M388.86 638.54h0M420.96 640.61h0M413.63 634.79h0M409.48 633.49h0M418.1 652.45h0M385.47 647.72h0M392.16 630.61h0M422.63 646.11h0M385.16 641.36h0M419.93 631.77h0M416.69 635.82h0M403.48 639.12h0M386.98 638.93h0M406.9 646.24h0M407.64 631.91h0M410.44 635.75h0M417.71 629.22h0M408.63 637.7h0M404.24 648.43h0M422.27 647.29h0M389.08 648.72h0M419.11 638.37h0M422.03 631.67h0M404.06 634.26h0M419.7 636.23h0M402.22 641.31h0M414.51 632.22h0M419.11 648.5h0M405.67 651.98h0M421.97 629.63h0M425.52 643.15h0M417.92 648.07h0M425.62 650.9h0M395.04 631.12h0M401.67 634.73h0M394.45 643.85h0M406.05 639.18h0M416.96 631.21h0M403.45 640.61h0M410.66 654.2h0M409.98 637.93h0M402.54 644.74h0M394.08 651.88h0M400.42 638.16h0M389.83 638.93h0M417.41 641.63h0M410.96 653.53h0M420.51 640.15h0M416.29 630.92h0M404.49 630.42h0M416.45 641.14h0" stroke="#B4B436" stroke-width="1.1" stroke-linecap="round"/>
<ellipse cx="401.8" cy="636.8" rx="5.5" ry="3.6" fill="#B4B436" transform="rotate(0 401.8 636.8)"/>
<ellipse cx="413.3" cy="648.6" rx="3.2" ry="3.6" fill="#B4B436" transform="rotate(0 413.3 648.6)"/>
<path d="M387 645.5 L392 642.5 L397.8 640" fill="none" stroke="#A8605E" stroke-width="2" stroke-linecap="round" stroke-linejoin="round"/>
<circle cx="441" cy="626.2" r="0.7" fill="#8DD0F2"/>
<path d="M384.5 677.5 L392 676.8 L398 676 L403.5 675.3" fill="none" stroke="#A8605E" stroke-width="1.6" stroke-linecap="round" stroke-linejoin="round"/>
<ellipse cx="399.6" cy="687" rx="1.5" ry="0.8" fill="#EE8BC0" transform="rotate(0 399.6 687)"/>
<circle cx="429.1" cy="684.2" r="0.8" fill="#B4B436"/>
<path d="M385.74 714.46h0M383.4 713.44h0M372.51 707.56h0M375.92 710.01h0M378.47 705.97h0M379.99 706.36h0M383.92 715.96h0M377.27 711.8h0M384.77 701.99h0M374.2 704.49h0M383.05 705.12h0M375.05 709.42h0M376.98 713.7h0M374.83 706.78h0M374.41 713.56h0M378.26 701.51h0M375.37 704.42h0M385.47 707.19h0M375.76 704.72h0M381.47 699.71h0M375.74 697.52h0M374.81 694.21h0M375.81 701.56h0M385.46 705.62h0M381.12 700.95h0M374.85 706.06h0M382.55 694.72h0M381.46 697.68h0M382.02 701.12h0M374.54 696.02h0M383.43 705.5h0M373.68 714.16h0M376.32 699.34h0M372.54 699.81h0M380.23 713.98h0M376.62 704.5h0M373.6 708.98h0M376.64 701.6h0M376.24 712.09h0M386.03 695.97h0M378.73 695.23h0M382.86 714.2h0M374.24 708.88h0M376.69 703.37h0M380.4 701.81h0" stroke="#A8605E" stroke-width="1.1" stroke-linecap="round"/>
<path d="M392 720 Q390 728 394 731 Q398 731.5 400 727.5" fill="none" stroke="#E8392E" stroke-width="1.2" stroke-dasharray="1.2 0.6"/>
<path d="M404.2 722.6 L405.4 719.4" fill="none" stroke="#3C9A4A" stroke-width="1.4" stroke-linecap="round" stroke-linejoin="round"/>
<path d="M416.5 703 L422 701.7 L432 703 L438 701 L444.5 700 L445.5 704 L440 709 L432.5 712 L430 718 L432 724.5 L433.7 735 L432 744 L428 746.6 L424.5 740 L424 730 L425 724 L420 722.5 L416 716 L415.7 708Z" fill="#9D63AD" />
<path d="M436.14 700.19h0M434.15 709.94h0M440.87 705.7h0M434.56 703.8h0M431.37 700.4h0M436.17 706.81h0M423.74 703.92h0M437.82 704.77h0M444.75 711.63h0M440.99 700.18h0M417.33 702.75h0M426.19 708.16h0M440.63 706.31h0M434.81 706.45h0M416.06 705.85h0M421.61 704.42h0M415.27 707.53h0M443.22 699.89h0M425.91 701.07h0M441.68 708.46h0M442.79 701.83h0M437.29 708.09h0M430.83 710.91h0M434.37 702.68h0M437.23 705.26h0M421.6 707.03h0M416.5 704.84h0M435.11 700.15h0M435.14 703.43h0M415.91 711.99h0M416.99 701.03h0M430.68 702.19h0M431.44 705.16h0M432.87 706.07h0M424.12 701.75h0M436.53 704.58h0M431.14 710.91h0M415.26 702.61h0M432.47 699.7h0M438.37 704.22h0M424.81 701.53h0M444.97 699.61h0M440.46 708.16h0M442.82 708.12h0M425.76 706.15h0M443.57 699.53h0M441.35 707.75h0M421.1 711.57h0M423.29 705.7h0M415.86 706.69h0" stroke="#9D63AD" stroke-width="1.1" stroke-linecap="round"/>
<path d="M352 767 L354 775 L357 781 L361 784.5 L365 785" fill="none" stroke="#BD5D2A" stroke-width="2.6" stroke-linecap="round" stroke-linejoin="round"/>
<path d="M360.93 773.65h0M361.87 772.55h0M360.43 768.37h0M356.21 770.35h0M358.27 784.54h0M360.03 769.46h0M360.5 775.67h0M359.28 778.9h0M366.05 777.44h0M363.05 770.88h0M357.4 770.77h0M354.92 773.74h0M356.67 769.78h0M362.36 769.96h0M364.39 773.63h0M365.65 781.14h0M362.68 775.62h0M364.88 776.46h0M360.07 775.98h0M362.74 776.87h0M362.59 770.28h0M361.37 769.15h0M354.88 773.43h0M359.09 784.1h0M360.53 770.72h0" stroke="#BD5D2A" stroke-width="1.1" stroke-linecap="round"/>
<line x1="508.5" y1="621.9" x2="508.5" y2="793.55" stroke="#333" stroke-width="1.1" />
<line x1="507.95" y1="793" x2="704.3" y2="793" stroke="#333" stroke-width="1.1" />
<line x1="506.1" y1="637.9" x2="508.5" y2="637.9" stroke="#333" stroke-width="0.9900000000000001" />
<text x="504.72" y="641.12" font-size="9.2" text-anchor="end" font-weight="normal" fill="#111" >10</text>
<line x1="506.1" y1="668.25" x2="508.5" y2="668.25" stroke="#333" stroke-width="0.9900000000000001" />
<text x="504.72" y="671.47" font-size="9.2" text-anchor="end" font-weight="normal" fill="#111" >5</text>
<line x1="506.1" y1="698.6" x2="508.5" y2="698.6" stroke="#333" stroke-width="0.9900000000000001" />
<text x="504.72" y="701.82" font-size="9.2" text-anchor="end" font-weight="normal" fill="#111" >0</text>
<line x1="506.1" y1="728.95" x2="508.5" y2="728.95" stroke="#333" stroke-width="0.9900000000000001" />
<text x="504.72" y="732.17" font-size="9.2" text-anchor="end" font-weight="normal" fill="#111" >-5</text>
<line x1="506.1" y1="759.3" x2="508.5" y2="759.3" stroke="#333" stroke-width="0.9900000000000001" />
<text x="504.72" y="762.52" font-size="9.2" text-anchor="end" font-weight="normal" fill="#111" >-10</text>
<line x1="506.1" y1="789.65" x2="508.5" y2="789.65" stroke="#333" stroke-width="0.9900000000000001" />
<text x="504.72" y="792.87" font-size="9.2" text-anchor="end" font-weight="normal" fill="#111" >-15</text>
<line x1="544.35" y1="793" x2="544.35" y2="795.4" stroke="#333" stroke-width="0.9900000000000001" />
<text x="544.35" y="804.14" font-size="9.2" text-anchor="middle" font-weight="normal" fill="#111" >-5</text>
<line x1="584.2" y1="793" x2="584.2" y2="795.4" stroke="#333" stroke-width="0.9900000000000001" />
<text x="584.2" y="804.14" font-size="9.2" text-anchor="middle" font-weight="normal" fill="#111" >0</text>
<line x1="624.05" y1="793" x2="624.05" y2="795.4" stroke="#333" stroke-width="0.9900000000000001" />
<text x="624.05" y="804.14" font-size="9.2" text-anchor="middle" font-weight="normal" fill="#111" >5</text>
<line x1="663.9" y1="793" x2="663.9" y2="795.4" stroke="#333" stroke-width="0.9900000000000001" />
<text x="663.9" y="804.14" font-size="9.2" text-anchor="middle" font-weight="normal" fill="#111" >10</text>
<text x="596" y="815.1" font-size="9.3" text-anchor="middle" font-weight="normal" fill="#111" >UMAP_1</text>
<text x="0" y="0" font-size="9.3" text-anchor="middle" font-weight="normal" fill="#111" transform="translate(488 707.45) rotate(-90)">UMAP_2</text>
<path d="M642.47 631.82 L646.91 629.68 L653.56 629.68 L660.11 632.68 L665.65 638.69 L666.76 642.05 L663.44 645.05 L665.65 646.34 L673.41 647.19 L677.2 650.63 L677.2 654.06 L675.54 659.13 L672.3 664.28 L671.2 666.43 L666.76 664.28 L663.44 663.42 L660.11 666 L655.77 665.57 L654.66 661.71 L653.56 660.42 L644.14 660.85 L643.03 664.28 L641.37 669.36 L639.24 671.93 L633.7 667.71 L628.16 662.57 L624.83 657.42 L623.73 653.2 L630.38 651.91 L637.03 650.63 L639.7 649.77 L641.37 647.19 L640.81 644.62 L638.69 642.9 L640.81 640.83 L641.92 635.25Z M640.26 650.2 L646.91 649.77 L654.66 651.06 L655.22 654.06 L654.66 659.13 L644.14 659.56 L643.03 655.7 L640.81 652.34Z" fill="#B4B436" fill-rule="evenodd"/>
<path d="M671.01 702.46 L676 703.82 L680.89 704.89 L685.23 705.46 L688.74 704.39 L692.25 704.11 L695.12 706.04 L696.5 709.82 L695.12 713.11 L692.25 716.97 L688.74 720.26 L685.23 724.12 L683.11 728.49 L681.63 732.35 L680.89 737.85 L681.63 742.78 L683.11 747.22 L681.63 749.36 L678.77 749.93 L674.52 747.22 L669.63 744.43 L666.76 741.71 L668.52 735.13 L672.4 731.85 L671.01 729.06 L668.89 727.41 L666.02 724.7 L662.51 721.91 L660.76 717.55 L660.39 713.11 L662.15 709.32 L664.64 706.54 L668.15 703.82Z" fill="#9D63AD" />
<path d="M586.69 763.88 L588.91 765.16 L590.57 767.31 L592.7 765.16 L595.47 767.74 L597.68 769.45 L601.01 771.17 L605.44 769.45 L609.23 766.88 L610.34 762.16 L611.81 762.16 L612.55 767.74 L615.88 771.17 L618.09 774.53 L617.54 777.1 L615.32 780.53 L609.78 783.54 L602.12 785.68 L595.47 783.97 L591.13 780.53 L588.36 775.39 L586.69 768.59Z" fill="#BD5D2A" />
<path d="M639.24 691.66 L641.55 690.95 L643.4 691.31 L644.88 693.45 L643.86 694.81 L641.55 694.17 L639.7 694.67Z" fill="#EE8BC0" />
<ellipse cx="636.84" cy="729.7" rx="6.93" ry="4.86" fill="#E8392E"/>
<ellipse cx="637.34" cy="729.7" rx="3.12" ry="1.94" fill="#fff" fill-opacity="0.55"/>
<path d="M644.6 728.41 L650.05 723.7" fill="none" stroke="#3C9A4A" stroke-width="1.8" stroke-linecap="round" stroke-linejoin="round"/>
<path d="M688 636.97 L691.7 633.75" fill="none" stroke="#8DD0F2" stroke-width="1.3" stroke-linecap="round" stroke-linejoin="round"/>
<ellipse cx="676.28" cy="690.23" rx="1" ry="1.7" fill="#B4B436" transform="rotate(0 676.28 690.23)"/>
<path d="M582.7 691.5 L595.8 695.1 L605.4 696.3 L612.5 693.9 L619.7 689.1 L624.5 685.5 L631.6 683.1 L636 680.5 L638 678.5 L640 681 L644.7 681.3 L647.1 683.1 L643.6 685.5 L636.4 686.1 L629.2 687.9 L624.5 692.7 L623.3 699.8 L624.5 708.2 L626.8 715.4 L629.2 721.3 L631.6 724.9 L626.8 720.1 L619.7 720.1 L612.5 721.3 L605.4 723.7 L598.2 727.3 L591 729.7 L583.9 732.1 L576.7 735.1 L571.9 730.9 L575.5 726.1 L579.1 720.1 L582.7 714.2 L583.9 708.2 L585.1 702.2 L583.9 697.5 L581.5 693.9Z" fill="#A8605E" />
<path d="M583.5 699 L590 698 L594 702 L593 709 L590 713 L585 712 L583 705Z" fill="#fff" fill-opacity="0.4"/>
<path d="M592 712 L599 708 L604 711 L604 716 L598 720 L592 719Z" fill="#fff" fill-opacity="0.25"/>
<path d="M585.31 703.78h0M585.15 703.93h0M589.19 707.69h0M585.8 703.34h0M584.96 710.22h0M586.23 711.24h0M587.66 704.33h0M591.28 711.01h0M588.65 702.5h0M590.88 704.9h0M585.83 702.81h0M583.5 700.82h0" stroke="#A8605E" stroke-width="1.1" stroke-linecap="round"/>
<path d="M576.23 710.02h0M577.59 692.25h0M577.17 707.37h0M575.73 697.33h0M571.51 702.08h0M571.27 724.6h0M573.57 736.18h0M575.33 699.94h0M575.8 714.87h0M568.25 714.82h0M566.19 707.35h0M574.58 722.62h0M581.35 719.12h0M566.39 712.3h0M570 725.62h0M580.3 693.25h0M578.35 703.37h0M568.93 711.22h0M572.7 703.09h0M570.22 710.24h0M577.03 697.03h0M571.97 700.72h0M577.66 701.15h0M577.83 690.41h0M579.69 709.96h0M580.95 728h0M579.48 690.48h0M577.98 714.74h0M580.18 716.77h0M571.56 733.31h0M581.92 699.82h0M568.33 710.64h0M576.52 696.91h0M575.37 715.6h0M578.78 696.12h0M568.25 714.4h0M578.04 717.76h0M577.89 701.92h0M566.52 722.78h0M576.36 690.34h0M567.37 723.22h0M576.67 699.21h0M570.18 709.5h0M566.33 703.7h0M569.84 691.06h0M574.39 735.12h0M567.24 722.94h0M575.83 702.98h0M576.3 726.89h0M570.16 709.05h0M576.03 710.57h0M568.97 708.76h0M577.37 717.7h0M571.18 702.76h0M568.71 721.67h0M578.46 700.88h0M575.94 692.36h0M568.82 718.05h0M571.87 709.83h0M566.88 713.8h0M573.58 700.23h0M576.02 700h0M571.65 694.23h0M579.86 716.35h0M580.43 705.81h0M578.42 721.73h0M566.73 734.15h0M574.11 705.07h0M571.95 702.6h0M578.21 710.4h0M572.68 710.73h0M577 717.69h0M569.76 717.37h0M581.48 706.72h0M579.69 730.02h0M573.33 736.77h0M570.01 700.23h0M572.5 694.71h0M567.22 706.18h0M573.78 718.12h0M580.03 716.73h0M566.08 713.8h0M579.22 695.99h0M566.69 729.56h0M581.52 725.22h0M567.08 733.06h0M577 732.52h0M576.47 722.59h0M580.33 709.35h0M568.81 697.38h0" stroke="#A8605E" stroke-width="1.3" stroke-linecap="round"/>
<path d="M570.01 721.32h0M573.47 724.84h0M576.05 719.04h0M577.6 719.59h0M574.84 727.41h0M582.45 713.33h0M571.73 716.91h0M580.71 717.82h0M572.58 723.99h0M574.54 730.13h0M572.36 720.19h0M571.94 729.92h0M575.85 712.64h0M572.91 716.82h0M573.31 717.25h0M579.1 710.06h0M573.35 712.71h0M578.75 711.84h0M572.38 719.17h0M580.19 702.89h0M579.09 707.14h0M579.66 712.08h0M581.09 718.37h0M571.2 730.78h0M573.87 709.52h0M574.18 716.92h0M571.12 723.35h0M574.2 712.77h0M573.79 727.82h0M571.77 723.21h0M574.26 715.3h0M578.01 713.06h0M579.12 711.11h0M576.94 712.13h0M578.7 714.18h0M572.19 717.99h0M578.54 721.46h0M580.65 712.08h0M571.05 720.59h0M576.26 716.71h0M577.15 714.38h0M575.98 719.17h0M579.13 713.27h0M578.04 708h0M575.3 714.94h0M575.57 717.62h0M578.79 725.38h0M579.7 713.82h0M578.09 705.92h0M579.36 710.97h0M579.74 706.46h0M571.5 728.4h0M582.02 712.88h0M580.49 710.66h0M583.21 711.58h0M570.12 713.41h0M575.95 705.15h0M571.2 719.02h0M576.41 724.48h0M572.98 730.14h0" stroke="#A8605E" stroke-width="1.4" stroke-linecap="round"/>
<path d="M600.53 695.58h0M607.04 692.64h0M600.93 691.32h0M602.49 693.41h0M590.46 691.41h0M604.08 691.99h0M584.25 690.6h0M592.83 694.34h0M606.81 693.06h0M601.18 693.16h0M588.4 691.75h0M592.56 689.43h0M603.57 694.3h0M597.32 696.25h0M600.75 690.55h0M603.51 692.33h0M588.39 693.56h0M601.49 691.07h0M583.93 689.41h0M597.17 690.21h0" stroke="#A8605E" stroke-width="1.2" stroke-linecap="round"/>
<path d="M563.84 681.87h0M546.25 671.93h0M572.45 664.35h0M571.65 649.77h0M586.55 649.1h0M556.19 676.77h0M550.56 663.2h0M542.75 669.52h0M571.9 669.58h0M544.04 670.68h0M545.31 680.32h0M557.05 684.04h0M554.55 667.4h0M545.07 675.84h0M582.01 653.14h0M547.84 685.25h0M575.21 652.26h0M557.35 677.46h0M582.3 654.92h0M561.73 663.07h0M564.78 658.01h0M552.59 678.64h0M581.71 657.74h0M560.36 673.14h0M562.11 667.05h0M572.41 655.76h0M564.7 671.83h0M589.21 645.92h0M578.07 649.72h0M570.79 668.55h0M557.3 670.28h0M565.17 673.82h0M544.36 684.19h0M578.36 654.71h0M571.33 661.38h0M550.01 679.8h0M573.85 651.04h0M578.35 650.05h0M569.33 659.29h0M570.33 660.02h0M550.57 670.02h0M568.12 663.13h0M547.75 670.05h0M552.07 676.76h0M567.3 670.23h0M555.2 665.73h0M564.47 664.85h0M571.79 665.86h0M579.82 662.56h0M543.84 674.25h0M574.02 657.69h0M584.17 655.23h0M560.84 674.2h0M549.98 662.58h0M555.37 674.33h0" stroke="#A8605E" stroke-width="1.2" stroke-linecap="round"/>
<path d="M557.16 662.09h0M565.07 665.72h0M561.8 662.48h0M560.59 666.38h0M563.2 665.31h0M561.51 658.94h0M562.69 662.46h0M566.58 663.57h0M562.6 663.33h0M568.33 662.74h0M565.19 658.04h0M564.34 665.66h0M562.93 664.71h0M563.87 661.05h0M557.79 663.65h0M556.7 662.44h0M560.06 664.89h0M565.55 666.28h0M561.07 664.54h0M563.63 659.86h0M559.91 660.82h0M567.41 664.77h0M569.47 664.37h0M557.82 659.38h0M558.37 662.04h0" stroke="#A8605E" stroke-width="1.2" stroke-linecap="round"/>
<path d="M529.51 699.61h0M536.03 714.77h0M535.21 704.66h0M541.12 711.02h0M542.76 713.83h0M544.68 706.5h0M522.03 696.94h0M540.84 697.53h0M538.57 712.49h0M544.74 699.12h0M540.94 716.17h0M539.7 724.34h0M518.67 702.49h0M537.42 712.07h0M544.92 701.95h0M530.38 713.89h0M533.23 705.03h0M517.62 696.45h0M532.07 716.03h0M530.99 716.57h0M534.77 721.05h0M538.58 702.62h0" stroke="#A8605E" stroke-width="1.1" stroke-linecap="round"/>
<path d="M591 690.5 L593 686 L596.5 685.3 L597.1 689 L594 691.4Z" fill="#F6C282" />
<line x1="81.5" y1="833.2" x2="81.5" y2="1015.25" stroke="#333" stroke-width="1.1" />
<line x1="80.95" y1="1014.7" x2="244.7" y2="1014.7" stroke="#333" stroke-width="1.1" />
<line x1="79.1" y1="845.4" x2="81.5" y2="845.4" stroke="#333" stroke-width="0.9900000000000001" />
<text x="77.72" y="848.62" font-size="9.2" text-anchor="end" font-weight="normal" fill="#111" >10</text>
<line x1="79.1" y1="878.55" x2="81.5" y2="878.55" stroke="#333" stroke-width="0.9900000000000001" />
<text x="77.72" y="881.77" font-size="9.2" text-anchor="end" font-weight="normal" fill="#111" >5</text>
<line x1="79.1" y1="911.7" x2="81.5" y2="911.7" stroke="#333" stroke-width="0.9900000000000001" />
<text x="77.72" y="914.92" font-size="9.2" text-anchor="end" font-weight="normal" fill="#111" >0</text>
<line x1="79.1" y1="944.85" x2="81.5" y2="944.85" stroke="#333" stroke-width="0.9900000000000001" />
<text x="77.72" y="948.07" font-size="9.2" text-anchor="end" font-weight="normal" fill="#111" >-5</text>
<line x1="79.1" y1="978" x2="81.5" y2="978" stroke="#333" stroke-width="0.9900000000000001" />
<text x="77.72" y="981.22" font-size="9.2" text-anchor="end" font-weight="normal" fill="#111" >-10</text>
<line x1="79.1" y1="1011.15" x2="81.5" y2="1011.15" stroke="#333" stroke-width="0.9900000000000001" />
<text x="77.72" y="1014.37" font-size="9.2" text-anchor="end" font-weight="normal" fill="#111" >-15</text>
<line x1="108.45" y1="1014.7" x2="108.45" y2="1017.1" stroke="#333" stroke-width="0.9900000000000001" />
<text x="108.45" y="1025.84" font-size="9.2" text-anchor="middle" font-weight="normal" fill="#111" >-5</text>
<line x1="143.6" y1="1014.7" x2="143.6" y2="1017.1" stroke="#333" stroke-width="0.9900000000000001" />
<text x="143.6" y="1025.84" font-size="9.2" text-anchor="middle" font-weight="normal" fill="#111" >0</text>
<line x1="178.75" y1="1014.7" x2="178.75" y2="1017.1" stroke="#333" stroke-width="0.9900000000000001" />
<text x="178.75" y="1025.84" font-size="9.2" text-anchor="middle" font-weight="normal" fill="#111" >5</text>
<line x1="213.9" y1="1014.7" x2="213.9" y2="1017.1" stroke="#333" stroke-width="0.9900000000000001" />
<text x="213.9" y="1025.84" font-size="9.2" text-anchor="middle" font-weight="normal" fill="#111" >10</text>
<text x="163.5" y="1036.8" font-size="9.3" text-anchor="middle" font-weight="normal" fill="#111" >UMAP_1</text>
<text x="0" y="0" font-size="9.3" text-anchor="middle" font-weight="normal" fill="#111" transform="translate(61 923.95) rotate(-90)">UMAP_2</text>
<path d="M106.5 926.3 L115 924 L124.4 925.5 L133 929 L140.5 933 L145 939.5 L145.6 946.4 L142.5 953 L134.5 956.8 L125.6 957.5 L117.8 954.6 L111.5 948.6 L107.5 941 L105.3 933.3Z" fill="#A8605E" />
<path d="M93.81 923.19h0M93.55 924.21h0M100.33 925.77h0M101.14 920.31h0M98.82 929.54h0M96.46 928.95h0M108.43 928.47h0M97.98 930h0M98.66 931.4h0M106.28 929.63h0M97.48 917.08h0M107.95 924.16h0M92.42 920.27h0M104.93 926.23h0M108.54 926.07h0M100.14 923.63h0M106.02 931.78h0M106.37 930.03h0M101.01 924.38h0M104.2 924.9h0M100.06 925.09h0M102.29 921.57h0M98.54 932.46h0M103.1 927.74h0M100.53 923.17h0M103.66 926.57h0M104.19 922.7h0M94.58 928.88h0M97.22 930.4h0M96.86 919.5h0M100.82 926.26h0M103.28 924.22h0M97.35 928.08h0M95.54 925.31h0M104.97 919.67h0M108.51 928.34h0M100.04 928.9h0M94.47 927.99h0M108.44 924.98h0M97.91 927.83h0" stroke="#A8605E" stroke-width="1.2" stroke-linecap="round"/>
<path d="M157.9 937.12h0M162.55 935.56h0M162.06 930.53h0M146.24 934.33h0M143.79 930.76h0M147.26 932.87h0M159.03 935.74h0M154.68 940.92h0M161.25 938.34h0M145.36 937.86h0M153.7 930.95h0M144.29 931.05h0M157.29 943.79h0M156.42 935.96h0M142.91 927.39h0M156.38 938.05h0M152.12 930.78h0M144.95 930.95h0M145.06 939.47h0M148.9 938.56h0M151.53 938.42h0M158.3 943.14h0M145.52 946.78h0M160.64 943.94h0M152.04 946.62h0M159.77 932.15h0M157.07 944.54h0M158.49 945.56h0M153.67 940.93h0M143.94 940.78h0M145.44 942h0M161.7 934.84h0M143.81 928.18h0M153.41 930.47h0M158.19 939.68h0M153.05 940.92h0M145.54 936.6h0M143.29 938.41h0M159.36 930.43h0M157.1 947.48h0M149.26 931.53h0M147.73 944.22h0M144.03 943.05h0M147.92 942.64h0M146.43 938.42h0M149.11 945.07h0M148.64 930.73h0M151.03 929.05h0M147.09 941.57h0M149.33 931.05h0M162.4 932.6h0M159.4 941.19h0M154.26 940.47h0M154.79 944.38h0M157.22 932.74h0M156.4 937.6h0M152.02 946.93h0M143.75 942.07h0M161.65 939.66h0M143.53 943.06h0" stroke="#A8605E" stroke-width="1.2" stroke-linecap="round"/>
<path d="M146.58 932.64h0M148.54 936.05h0M149.14 933.31h0M142.62 940.23h0M142.61 931.47h0M141.96 932.58h0M148.38 935.84h0M144.07 936.76h0M150.1 935.44h0M146.85 935.66h0M142.11 938.04h0M149.78 945.65h0M143.33 937.33h0M143.47 935.83h0M145.96 932.33h0M141.38 932.94h0M143.96 940.7h0M143.83 938.61h0M149.29 945.63h0M145.07 947.73h0M148.2 938.11h0M145.13 935.18h0M149.19 933.86h0M146.77 944.31h0M141.97 933.1h0M143.33 946.53h0M146.97 944.66h0M145.22 940.56h0M145.15 943.11h0M141.13 930.55h0M144.41 931.82h0M149.69 942.02h0M146.12 946.81h0M147.02 939.65h0M147.24 933.96h0M142.91 930.64h0M147.99 931.72h0M143.82 945.37h0M142.85 936.44h0M149.84 941.3h0M147.4 946.61h0M149.27 939.1h0M148.13 939.35h0M147.92 945.82h0M145.76 933.78h0M142.64 936.2h0M142.38 933.69h0M146.41 947.78h0M147.39 934.31h0M148.01 940.99h0" stroke="#A8605E" stroke-width="1.3" stroke-linecap="round"/>
<path d="M113.15 924.87h0M115.8 924.09h0M117.32 924.53h0M105.06 924.77h0M110.86 929.69h0M116.52 925.92h0M118.76 923.07h0M117.61 924.23h0M113.73 927.19h0M119.63 926.02h0M123.81 923.15h0M104.92 924.01h0M113.43 924.45h0M118.04 923.28h0M109.68 927.7h0M124.1 926.44h0M121.55 923.58h0M124.1 923.15h0M118.44 923.35h0M112.12 928.02h0M110.77 927.57h0M124.79 926.46h0M120.31 922.86h0M118.22 928.24h0M106.15 923.39h0M125.13 925.92h0M124.34 924.92h0M110.89 926.8h0M117.44 927.07h0M116.27 927.37h0M124.76 923.83h0M124.41 924.1h0M114.2 923.4h0M117.3 925.42h0M117.74 926.07h0M112.8 928.8h0M118.24 923.15h0M127.31 925.81h0M118.3 927.86h0M106.1 925.42h0M114.75 924.18h0M111.87 928.6h0M116.72 922.26h0M115.99 928.08h0M125.42 924.91h0" stroke="#A8605E" stroke-width="1.3" stroke-linecap="round"/>
<path d="M111.41 907.79h0M123.42 903.01h0M121.45 890.92h0M118.67 896.52h0M118.56 894.23h0M109.01 901.02h0M112.69 906.18h0M107.96 906.51h0M124.55 891.38h0M116.93 900.31h0" stroke="#A8605E" stroke-width="1.1" stroke-linecap="round"/>
<path d="M133.5 921.5 L135.5 916.5 L140 911 L145 905.5 L148.5 902 L150.5 903.5 L147.5 909 L143 915 L139 920 L136 922.5Z" fill="#A8605E" />
<path d="M148.53 903.16h0M142.45 911.11h0M140.59 913.28h0M142.33 913.75h0M142.22 911.86h0M145.47 903.14h0M144.91 910.28h0M137.06 914.53h0M139.69 909.82h0M138.01 908.16h0M136.91 910.65h0M135.72 922.11h0M141.44 907.96h0M143.28 908.84h0M139.22 911.15h0M138.77 918.54h0M144.19 909.66h0M137.74 918.45h0M146.14 912.81h0M149.33 902.17h0M136.02 916.08h0M136.42 917.1h0M146.67 905.98h0M143.68 904.24h0M138.79 907.72h0" stroke="#A8605E" stroke-width="1.1" stroke-linecap="round"/>
<path d="M148.3 904.5 L149.8 900 L151.8 898 L151.3 901.5 L149.5 905.8Z" fill="#F6C282" />
<path d="M181.53 866.8h0M189.69 861.34h0M188.57 865.49h0M186.68 861.26h0M188.36 863.47h0M188.11 864.42h0M187.6 865.57h0M182.83 865.22h0M189.95 866.56h0M189.25 861.81h0M186.24 866.28h0M182.45 861.47h0M187.46 864.58h0M189.91 862.72h0M180 864.67h0M188.55 865.09h0M180.2 863.23h0M180.44 863.63h0M187.8 863.91h0M185.06 862.56h0M184.85 867.14h0M183.51 863.04h0M186.81 866.51h0M179.64 865.03h0M185.8 864.83h0M184.8 865.28h0M188.6 862.72h0M180.66 862.07h0M185.24 862.66h0M184.33 864.36h0M183.94 864.96h0M184.94 864.38h0M187.82 863.43h0M179.3 866.65h0M183.06 863.58h0" stroke="#B4B436" stroke-width="1.3" stroke-linecap="round"/>
<path d="M189.26 876.61h0M182.68 870.99h0M187.08 873.68h0M183.73 871.76h0M187.77 872.09h0M185.52 874.96h0M186.72 866.58h0M185.12 876.61h0M184.01 870.34h0M189.12 867.52h0M190.39 870.41h0M183.42 868.88h0M181.7 873.87h0M184.37 870.28h0M184.06 872.67h0M186.35 867.52h0M188.98 878.65h0M187.53 870.24h0M182.29 867.19h0M184.05 872.41h0" stroke="#B4B436" stroke-width="1.2" stroke-linecap="round"/>
<path d="M222.55 867.59h0M213.15 866.83h0M212.13 860.78h0M211.26 857.4h0M208.06 871.71h0M208.13 875.24h0M214.74 863.96h0M204.68 859.22h0M221.33 859.86h0M215.84 867.56h0M212.58 870.77h0M206.5 869.88h0M205.31 860.44h0M217 859.93h0M206.68 866.28h0M216.99 868.08h0M204.11 867.76h0M204.12 867.48h0M215.75 863.97h0M210.97 872.42h0M207.8 865.62h0M221.27 859.74h0M219.21 865.68h0M204.28 862.26h0M215.23 865.54h0M207.21 866.53h0M205.04 867.99h0M217.36 861.98h0M219.11 861.04h0M205.19 866h0M218.33 862.23h0M208.24 869.55h0M216.88 858.75h0M207.24 868.86h0M219.2 858.97h0M216.31 869.66h0M204.89 870.11h0M213.39 858.21h0M206.67 861.31h0M217.57 859.09h0" stroke="#B4B436" stroke-width="1.2" stroke-linecap="round"/>
<path d="M184.58 896.82h0M176.69 897.57h0M196.79 895.15h0M194.73 895.04h0M199.2 894.23h0M195.47 895.42h0M184.83 896.91h0M195.82 896.26h0M177.98 899.67h0M189.63 894.68h0M186.05 895.99h0M194.92 895.64h0M176.83 899.9h0M193.32 894.76h0M174.13 902.44h0M175.02 899.63h0M176.46 901.09h0M182.24 895.14h0M190.84 897.03h0M176.6 898.07h0M185.2 896.57h0M173.48 901.86h0M195.16 895.24h0M174.48 901.91h0M173.69 902.71h0M174.2 902.68h0M185.11 894.61h0M179.61 896.05h0M185.55 896.72h0M176.65 899.59h0M188.82 896.06h0M180.39 897.46h0M187.58 896.31h0M179.11 896.69h0M176.89 899.59h0M178.99 897.43h0M195.23 895.45h0M184.65 895.94h0M179.68 897.11h0M182.26 895.89h0M172.98 903.24h0M193.12 894.91h0M190.31 896.05h0M179.23 897.01h0M180.94 895.63h0M186.53 895.78h0M182.89 897.43h0M180.76 897.68h0M179.2 897.98h0M193.67 894.91h0M177.75 898.73h0M196.89 895.22h0M190.54 895.23h0M186.26 895.68h0M194.74 897.27h0" stroke="#A8605E" stroke-width="1.3" stroke-linecap="round"/>
<ellipse cx="193.3" cy="906" rx="1.4" ry="0.8" fill="#EE8BC0" transform="rotate(-40 193.3 906)"/>
<circle cx="237" cy="841.2" r="0.7" fill="#8DD0F2"/>
<circle cx="224.6" cy="902.3" r="0.8" fill="#B4B436"/>
<path d="M212.64 932.63h0M212.23 930.5h0M224.63 930.57h0M222.36 926.66h0M224.45 935.27h0M221.35 938.94h0M222.56 931.94h0M214.31 931.69h0M214.57 932.53h0M219.28 937.5h0M222.1 926.29h0M220.86 922.2h0M218.74 922.14h0M219.62 934h0M219.61 942.54h0M212.78 925.63h0M220.84 917.29h0M219.97 932.14h0M217.16 944.03h0M217.94 926.37h0M222.19 923.46h0M220.05 920.41h0M216.72 920.54h0M216.36 927.74h0M214.44 935.6h0M224.39 943.36h0M212.64 924.89h0M223.54 939.84h0M216.18 940.44h0M212.63 931.44h0M212.32 920.48h0M224.27 928.6h0M219.62 931.03h0M218.45 920.69h0M219.14 938.47h0M219.02 938.68h0M214.24 919.05h0M214.37 940.98h0M224.96 940.85h0M221.84 934.13h0M216.48 933.05h0M218.02 925.01h0M218.74 931.63h0M215.08 936.8h0M218.28 927.21h0M219.1 931.96h0M220.87 919.44h0M212.06 923.62h0M222.96 941.06h0M223.38 935.8h0M224.51 933.83h0M225.03 937.43h0M226.22 936.65h0M223.39 924.72h0M223.86 937.13h0M228.22 930.6h0M220.18 921.06h0M216.27 917.32h0M219.87 921.25h0M225.06 938.61h0M221.36 931.18h0M219.57 935.65h0M219.62 940.61h0M215.04 919.33h0M222.11 921.36h0M215.27 933.73h0M216.48 922.97h0M217.87 934.03h0M221.31 922.28h0M217.41 940.7h0M224.77 935.42h0M215.87 922.15h0M223.78 924.19h0M215.47 930.89h0M220.4 926.84h0M227.05 924.2h0M228.52 926.01h0M212.28 926.79h0M216.3 919.03h0M217.63 927.26h0M216.36 936.05h0M214.35 925.45h0M226.82 925.73h0M224.64 924.26h0M215.61 917.92h0M213.92 929.64h0M223.75 935.75h0M214.13 922.51h0M224.55 939.81h0M222.76 922.28h0" stroke="#9D63AD" stroke-width="1.3" stroke-linecap="round"/>
<path d="M214.73 924.39h0M215.64 923.82h0M214.58 941.29h0M212.05 925.62h0M213.64 932.49h0M215.45 933.24h0M217.45 941.1h0M216.01 937.8h0M214.3 923.45h0M213.25 923.02h0M215.26 927.88h0M215.56 934.7h0M216.83 938.48h0M215.57 941.19h0M214.72 939.3h0M216.8 937.62h0M212.31 931.69h0M214.86 920.24h0M213.89 930.4h0M211.54 918.22h0M215.32 927.86h0M216.89 937.27h0M212.96 935.42h0M212.14 921.28h0M213.94 923.9h0M211.72 930.43h0M214.93 929.16h0M214.22 937.7h0M214.56 927.67h0M213.86 936.6h0M211.62 928.65h0M213.56 926.32h0M215.69 930.47h0M214.74 925.24h0M214.29 940.24h0M212.23 920.11h0M212.54 919.2h0M212.43 925.46h0M216.3 941h0M211.6 930h0M211.67 929.86h0M214.31 930.96h0M212.95 918.64h0M215.43 937.84h0M213.68 927.07h0M211.79 930.8h0M212.32 920.73h0M213.16 930.35h0M212.3 931.43h0M211.68 925.21h0M214.65 929.17h0M213.42 933.94h0M213.11 936.78h0M215.15 922.43h0M212.25 924.64h0M213.97 918.04h0M216.42 939.44h0M214.91 929.87h0M213.68 922.73h0M213 936.79h0M213.38 934.19h0M215.62 940.59h0M216.8 940.83h0M212.91 918.92h0M211.7 922.69h0M212.07 921.5h0M213.17 929.96h0M212.87 926.66h0M214.02 919.38h0M213.84 932.98h0M211.66 927.06h0M215.37 928.16h0M212.26 929.54h0M213.1 933.03h0M216 931.18h0M217.1 936.99h0M215.82 930.8h0M214.58 937.4h0M213.45 934.04h0M214.01 931.43h0M215.43 930.68h0M215.35 918.91h0M212.91 927.22h0M213.69 926.95h0M213.52 925.38h0M214.58 921.71h0M215.78 937.3h0M213.68 939.37h0M214.3 929.37h0M211.64 923.06h0M215.6 936.32h0M213.49 937.6h0M214.88 918.05h0M215.86 926.87h0M214.11 934.19h0M213.68 939.47h0M215.4 926.21h0M215.68 941.44h0M212.67 928.29h0M215.99 941.49h0M213.64 926.98h0M215.27 941.98h0M215.72 927.83h0M215 932.81h0M216.36 940.04h0M214.62 924.56h0M214.72 924.32h0M215.48 920.1h0M213.72 919.69h0M213.9 926.81h0" stroke="#9D63AD" stroke-width="1.4" stroke-linecap="round"/>
<path d="M222.88 929.2h0M219.89 942.07h0M216.29 932.44h0M219.84 944.52h0M214.32 919.93h0M217.2 941.1h0M222.43 921.79h0M223.2 932.78h0M218.79 922.37h0M218.66 920.08h0M221.49 933.24h0M215.09 924.34h0M219.07 939.8h0M216.75 920.99h0M217.55 919.93h0M215.84 926.45h0M221.73 923.7h0M215.15 924.95h0M220.1 937.93h0M220.77 919.81h0M216.84 921.24h0M219.6 928.24h0M221.51 933.92h0M219.82 922.8h0M219.43 919.84h0M215.74 918.03h0M221.16 923.19h0M217.01 934.09h0M220.49 918.98h0M221.75 928.24h0M220.51 921.8h0M217.81 939.86h0M222.2 938.38h0M218.71 937.74h0M215.49 928.74h0M217.12 921.7h0M214.41 919.48h0M217.19 936.37h0M221.25 943.13h0M216.47 928.9h0M217.06 933.57h0M223.26 936.51h0M216.72 919.59h0M218.9 919.71h0M221.62 926.22h0M220.05 938.07h0M215.69 918.04h0M220.57 938.64h0M221.18 920.47h0M216.3 933.27h0M220.05 938.71h0M216.14 927.56h0M215.55 931.9h0M216.55 935.54h0M216.86 921.33h0M217.29 926.32h0M219.91 942.2h0M218.9 931.31h0M216.71 924.72h0M223.08 931.47h0" stroke="#9D63AD" stroke-width="1.3" stroke-linecap="round"/>
<path d="M221.04 947.04h0M222.85 948.03h0M220.59 946h0M217.99 943.38h0M219.39 945.76h0M222.18 944.68h0M219.19 951.46h0M220.96 948.61h0M220.77 945.18h0M219.9 944.22h0M218.04 946.37h0M220.9 948.93h0M220 945.79h0M223.73 949.77h0M220.38 947.42h0M217.19 943.99h0M221.54 945.74h0M221.31 946.37h0M217.54 946.26h0M219.52 951.67h0" stroke="#9D63AD" stroke-width="1.2" stroke-linecap="round"/>
<path d="M219 949.4 L222.5 950 L226 955 L230 958.5 L231.2 964 L229 968.5 L224 968 L221.4 963 L219.5 955Z" fill="#9D63AD" />
<path d="M186 942 L188.8 943.8" fill="none" stroke="#E8392E" stroke-width="1.3" stroke-linecap="round" stroke-linejoin="round"/>
<circle cx="200.3" cy="940.2" r="0.9" fill="#3C9A4A"/>
<path d="M146 985 L148.5 992 L152 999 L156 1003 L159 1004.5" fill="none" stroke="#BD5D2A" stroke-width="2.3" stroke-linecap="round" stroke-linejoin="round"/>
<path d="M154.44 1004.44h0M150.6 990.22h0M157.56 1004.88h0M152.41 994.15h0M150.91 991.95h0M154.04 999.68h0M156.02 1003.73h0M148.92 989.69h0M152.26 1001.92h0M153.74 996.68h0M151.22 990.17h0M154.01 993.81h0M152.37 999.21h0M152.42 995.95h0M152.35 999.19h0" stroke="#BD5D2A" stroke-width="1.1" stroke-linecap="round"/>
<line x1="285.5" y1="828.1" x2="285.5" y2="1015.15" stroke="#333" stroke-width="1.1" />
<line x1="284.95" y1="1014.6" x2="454.3" y2="1014.6" stroke="#333" stroke-width="1.1" />
<line x1="283.1" y1="843.6" x2="285.5" y2="843.6" stroke="#333" stroke-width="0.9900000000000001" />
<text x="281.72" y="846.82" font-size="9.2" text-anchor="end" font-weight="normal" fill="#111" >10</text>
<line x1="283.1" y1="877" x2="285.5" y2="877" stroke="#333" stroke-width="0.9900000000000001" />
<text x="281.72" y="880.22" font-size="9.2" text-anchor="end" font-weight="normal" fill="#111" >5</text>
<line x1="283.1" y1="910.4" x2="285.5" y2="910.4" stroke="#333" stroke-width="0.9900000000000001" />
<text x="281.72" y="913.62" font-size="9.2" text-anchor="end" font-weight="normal" fill="#111" >0</text>
<line x1="283.1" y1="943.8" x2="285.5" y2="943.8" stroke="#333" stroke-width="0.9900000000000001" />
<text x="281.72" y="947.02" font-size="9.2" text-anchor="end" font-weight="normal" fill="#111" >-5</text>
<line x1="283.1" y1="977.2" x2="285.5" y2="977.2" stroke="#333" stroke-width="0.9900000000000001" />
<text x="281.72" y="980.42" font-size="9.2" text-anchor="end" font-weight="normal" fill="#111" >-10</text>
<line x1="283.1" y1="1010.6" x2="285.5" y2="1010.6" stroke="#333" stroke-width="0.9900000000000001" />
<text x="281.72" y="1013.82" font-size="9.2" text-anchor="end" font-weight="normal" fill="#111" >-15</text>
<line x1="296.35" y1="1014.6" x2="296.35" y2="1017" stroke="#333" stroke-width="0.9900000000000001" />
<text x="296.35" y="1025.74" font-size="9.2" text-anchor="middle" font-weight="normal" fill="#111" >-5</text>
<line x1="336.1" y1="1014.6" x2="336.1" y2="1017" stroke="#333" stroke-width="0.9900000000000001" />
<text x="336.1" y="1025.74" font-size="9.2" text-anchor="middle" font-weight="normal" fill="#111" >0</text>
<line x1="375.85" y1="1014.6" x2="375.85" y2="1017" stroke="#333" stroke-width="0.9900000000000001" />
<text x="375.85" y="1025.74" font-size="9.2" text-anchor="middle" font-weight="normal" fill="#111" >5</text>
<line x1="415.6" y1="1014.6" x2="415.6" y2="1017" stroke="#333" stroke-width="0.9900000000000001" />
<text x="415.6" y="1025.74" font-size="9.2" text-anchor="middle" font-weight="normal" fill="#111" >10</text>
<text x="366.7" y="1036.7" font-size="9.3" text-anchor="middle" font-weight="normal" fill="#111" >UMAP_1</text>
<text x="0" y="0" font-size="9.3" text-anchor="middle" font-weight="normal" fill="#111" transform="translate(265 921.35) rotate(-90)">UMAP_2</text>
<path d="M322.5 926.2 L327.4 923.1 L337.4 923.1 L344.9 924.9 L342.4 929.9 L337.4 933.7 L332.4 937.4 L330 938.7 L326.2 936.2 L324.3 931.2Z" fill="#A8605E" />
<path d="M327.91 946.02h0M332.96 941.77h0M325.14 948.48h0M327.78 942.47h0M326.49 941.94h0M322.68 947.37h0M330.16 942.08h0M331.66 941.34h0M324.67 953.65h0M325.45 953.62h0M330.05 939.22h0M331.41 940.66h0M323.48 947.18h0M329.87 936.56h0M327.8 943.61h0M330.06 943.33h0M334.6 938.84h0M327.2 951.69h0M322.85 946.95h0M331.81 940.29h0M323.32 951.14h0M329.09 943.38h0M327.77 940.63h0M329.46 937.62h0M329.58 938.8h0M327.46 952.75h0M331.61 945.56h0M325.43 952.75h0M330.26 946.92h0M327.11 950.81h0M327.53 941.2h0M322.24 950.97h0M330.4 947.1h0M324.96 948.51h0M334.82 939.21h0M324.31 949.81h0M321.63 948.08h0M325.79 947.03h0M328.11 941.04h0M323.29 950.77h0M327.31 941.11h0M322.44 949.83h0M320.73 950.99h0M328.96 945.29h0M328.59 941.01h0M327.23 939.06h0M325.71 946.73h0M329.78 941.84h0M328.01 939.07h0M327.06 946.98h0M328.18 939.73h0M329.85 943.02h0M328.77 950.51h0M321.21 952.8h0M327.07 942.08h0M332.78 939.24h0M330.17 937.56h0M325.89 950.32h0M334.37 940.2h0M328.78 936.37h0M329.03 940.17h0M322.02 947.43h0M331.11 946.76h0M323.2 945.12h0M330.49 938.45h0M324 950.9h0M323.22 951.07h0M327.68 939.98h0M334.35 938.57h0M330.13 940.54h0M326.24 941.9h0M327.77 947.22h0M328.47 945.57h0M323.49 946.3h0M327.56 944h0M331.32 942.91h0M327.1 953.3h0M329.83 940.56h0M330.81 937.29h0M327.24 944.94h0M323.96 952.32h0M326.75 949.14h0M321.99 950.73h0M323.38 952.7h0M323.49 950.41h0M326.95 943.41h0M329.97 938.46h0M332.43 940.51h0M328.3 939.93h0M326.28 943.81h0" stroke="#A8605E" stroke-width="1.3" stroke-linecap="round"/>
<path d="M340.22 928.02h0M346.64 922.04h0M349.07 931.71h0M352.67 919.02h0M344.85 918.77h0M350.11 920.71h0M341.84 927.04h0M346.48 927.18h0M348.48 930.32h0M349.79 928.89h0M349.84 923.57h0M353.03 930.17h0M339.6 925.04h0M345.67 919.33h0M352.81 924.92h0M351.21 917.79h0M354.69 931.5h0M339.82 931.24h0M352.22 932.27h0M353.62 921.94h0M342.85 924.13h0M347.16 927.57h0M353.19 924.22h0M350.71 933.1h0M338.55 926.97h0" stroke="#A8605E" stroke-width="1.2" stroke-linecap="round"/>
<path d="M322.03 956.93h0M315.92 945.24h0M302.87 944.18h0M325.05 953.26h0M315.19 947.7h0M304.98 936.38h0M300.41 946.37h0M327.52 948.51h0M348.4 939.19h0M315.19 943.89h0M348.98 939.22h0M312.27 942.8h0M334.63 938.39h0M328.21 947.37h0M296.77 937.48h0M301.69 940.96h0M343.41 941.09h0M327.68 956.9h0M315.22 941.97h0M335.99 940.28h0M322.54 940.86h0M342.1 945.55h0M331.98 933.49h0M333.48 936.67h0M325.74 940.3h0M332.66 933.98h0M318.89 949.71h0M327.97 955.13h0M310.44 941.26h0M309.13 951.39h0M298.08 942.1h0M339.8 944.58h0M334.12 932.27h0M311.78 948.06h0M340.51 951.69h0" stroke="#A8605E" stroke-width="1.1" stroke-linecap="round"/>
<path d="M333.1 921.2 L335 916 L337 912 L339.5 907.5 L342.4 903.7" fill="none" stroke="#A8605E" stroke-width="1.8" stroke-linecap="round" stroke-linejoin="round"/>
<path d="M341.2 903 L343 899.5 L345 896.2 L346.8 897 L345.5 901 L343 904.3Z" fill="#F6C282" />
<path d="M315.58 852.35h0M331.83 857.11h0M302.64 850.06h0M329.49 860.28h0M307.79 866.13h0M330.5 853.2h0" stroke="#A8605E" stroke-width="1.1" stroke-linecap="round"/>
<path d="M371 901 L375 898 L381 895.5 L388 894.5 L394 894 L398.8 891" fill="none" stroke="#A8605E" stroke-width="1.6" stroke-linecap="round" stroke-linejoin="round"/>
<ellipse cx="388.8" cy="944.8" rx="4.0" ry="3.4" fill="none" stroke="#E8392E" stroke-width="1.8"/>
<path d="M398.6 940.8 L399.6 939.3" fill="none" stroke="#3C9A4A" stroke-width="1.4" stroke-linecap="round" stroke-linejoin="round"/>
<path d="M407.52 856.17h0M412.08 861.73h0M414.39 856.9h0M406.8 859.08h0M400.11 837.46h0M409.78 843.02h0M413.39 848.7h0M408.99 847.48h0M404.14 847.65h0M407.73 841.73h0M402.27 837.79h0M415.14 864.38h0M409.38 843.59h0M404.01 847.92h0M403.96 840.07h0M404.66 853.98h0M407.46 857.55h0M404.35 852.48h0M408.71 857.51h0M414.85 862.34h0M417.63 859.32h0M410.47 840.1h0M405.82 848.38h0M411.19 855.65h0M413.33 858.15h0M407.53 854.04h0M405.23 856.8h0M413.07 851.05h0M413.67 852.41h0M409.96 849.05h0M400.3 841.18h0M412.73 862.67h0M405.01 854.06h0M402.5 840.76h0M402.11 849.5h0M408.27 844.84h0M415.91 855.59h0M404.6 842.55h0M402.15 844.31h0M413.91 862.01h0M401.44 837.07h0M409.83 846.61h0M410.73 841.26h0M411.11 860.11h0M413.32 847.23h0M412.29 860.14h0M409.12 848.45h0M407.28 850.27h0M412.75 852.67h0M402.16 836.78h0M405.73 843.62h0M406.81 859.71h0M416.49 860.91h0M416.13 858.47h0M408.27 858.5h0M399.15 838.01h0M408.58 846.36h0M404.26 847.52h0M410.03 859.14h0M399.55 839.47h0M407.82 860.6h0M398.32 836.87h0M405.43 859.63h0M414.16 850.89h0M416.72 864.37h0M410.42 848.11h0M406.5 841.55h0M408.62 848.81h0M407.64 846.46h0M407.49 851.96h0M405.99 841.57h0M407.23 837.95h0M400.59 842.97h0M407.49 856.79h0M410.85 844.35h0M406.65 849.27h0M407.33 856.92h0M403.78 839.71h0M400.83 843.58h0M417.11 859.74h0M416.7 863.17h0M406.79 837.67h0M413.31 852.86h0M413.04 861.64h0M413.36 851.28h0M410.37 840.71h0M409.91 848.27h0M406.81 838.9h0M412.7 853.64h0M416.44 862.2h0" stroke="#B4B436" stroke-width="1.2" stroke-linecap="round"/>
<path d="M401.5 843 L406 849 L410 855 L413.5 860" fill="none" stroke="#B4B436" stroke-width="3.2" stroke-linecap="round" stroke-linejoin="round"/>
<path d="M399.59 845.78h0M416.79 851.09h0M404.15 854.74h0M396.56 857.74h0M405.44 844.98h0M409.23 857.19h0M384.83 839.84h0M404.13 865.19h0M414.91 864.01h0M388.48 847.92h0M406.08 848.46h0M392.23 867.35h0M408.41 849.53h0M402.04 859.79h0M413.37 862.5h0M396.38 868.9h0M413.52 845.2h0M389.88 850.62h0M393.42 865.84h0M383.37 863.81h0M389.47 863.6h0M400.31 840.48h0M422.41 850.25h0M422.13 846.96h0M392.51 854.88h0M390.79 855.62h0M411.29 857.8h0M383.23 858.71h0M393.72 851.41h0M417.32 865.47h0" stroke="#B4B436" stroke-width="1.1" stroke-linecap="round"/>
<circle cx="440.3" cy="840.1" r="0.7" fill="#8DD0F2"/>
<circle cx="426.9" cy="899.8" r="0.9" fill="#B4B436"/>
<path d="M428 943 L431.9 944.5 L430 952 L428 960 L426.5 964 L422 963.9 L419 958 L419.5 951 L423 946.5Z" fill="#9D63AD" />
<path d="M420.24 928.39h0M425.29 928.7h0M425.58 940.18h0M434.34 936.94h0M431.69 919.93h0M440.79 918.32h0M428.67 921.02h0M439.17 929.04h0M432.74 930.98h0M428.87 940.7h0M438.65 935.64h0M427.37 929.73h0M427.02 924.43h0M423.94 941.83h0M441.06 927.61h0M427.14 927.54h0M418.7 919.65h0M431.84 927.85h0M437.03 931.88h0M421.07 939.81h0M430.47 929.6h0M428.89 926.53h0M423.5 941.73h0M426.34 941.19h0M434.96 929.05h0M419.2 930.66h0M423.23 924.36h0M443.14 925.88h0M441.66 926.52h0M421.5 927.38h0M423.01 920.64h0M437.61 935.63h0M423.46 936.54h0M433.62 919.16h0M421.06 935.77h0M435.48 918.24h0M439.55 918.12h0M440.65 918.85h0M424.42 919.13h0M425.8 935.84h0M425.95 918.57h0M439.86 921.04h0M423.05 922.25h0M422.37 923.16h0M420.24 916.77h0M421.67 927.23h0M434.06 920.9h0M444.98 923.79h0M433.21 931.88h0M430.21 922.7h0" stroke="#9D63AD" stroke-width="1.1" stroke-linecap="round"/>
<path d="M430 944 L436 937 L441 930 L446.3 922.2" fill="none" stroke="#9D63AD" stroke-width="1.6" stroke-linecap="round" stroke-linejoin="round"/>
<path d="M340 986.7 L341.5 985.5 L344.9 986.1 L347.4 992.3 L352.4 998.6 L361.2 1003.6 L354.9 1006.1 L347.4 1004.8 L342.4 999.8 L340.6 993.6Z" fill="#BD5D2A" />
<path d="M361.72 992.06h0M361.45 992.3h0M354.04 985.68h0M353.77 985.59h0M356.39 987.09h0M352.96 990.24h0M352.13 996.05h0M361.07 997.47h0M353.61 987.6h0M361.69 997.99h0M360.09 996.06h0M361.87 991.61h0M352.41 991.09h0M356.35 998.74h0M358.05 999.83h0M358.08 997.5h0M356.39 991.73h0M357.75 987.27h0M353.9 994.14h0M356.27 994.3h0" stroke="#BD5D2A" stroke-width="1.1" stroke-linecap="round"/>
<line x1="505.5" y1="828.8" x2="505.5" y2="1014.05" stroke="#333" stroke-width="1.1" />
<line x1="504.95" y1="1013.5" x2="673.7" y2="1013.5" stroke="#333" stroke-width="1.1" />
<line x1="503.1" y1="841.7" x2="505.5" y2="841.7" stroke="#333" stroke-width="0.9900000000000001" />
<text x="501.72" y="844.92" font-size="9.2" text-anchor="end" font-weight="normal" fill="#111" >10</text>
<line x1="503.1" y1="875.6" x2="505.5" y2="875.6" stroke="#333" stroke-width="0.9900000000000001" />
<text x="501.72" y="878.82" font-size="9.2" text-anchor="end" font-weight="normal" fill="#111" >5</text>
<line x1="503.1" y1="909.5" x2="505.5" y2="909.5" stroke="#333" stroke-width="0.9900000000000001" />
<text x="501.72" y="912.72" font-size="9.2" text-anchor="end" font-weight="normal" fill="#111" >0</text>
<line x1="503.1" y1="943.4" x2="505.5" y2="943.4" stroke="#333" stroke-width="0.9900000000000001" />
<text x="501.72" y="946.62" font-size="9.2" text-anchor="end" font-weight="normal" fill="#111" >-5</text>
<line x1="503.1" y1="977.3" x2="505.5" y2="977.3" stroke="#333" stroke-width="0.9900000000000001" />
<text x="501.72" y="980.52" font-size="9.2" text-anchor="end" font-weight="normal" fill="#111" >-10</text>
<line x1="503.1" y1="1011.2" x2="505.5" y2="1011.2" stroke="#333" stroke-width="0.9900000000000001" />
<text x="501.72" y="1014.42" font-size="9.2" text-anchor="end" font-weight="normal" fill="#111" >-15</text>
<line x1="519.7" y1="1013.5" x2="519.7" y2="1015.9" stroke="#333" stroke-width="0.9900000000000001" />
<text x="519.7" y="1024.64" font-size="9.2" text-anchor="middle" font-weight="normal" fill="#111" >-5</text>
<line x1="558.9" y1="1013.5" x2="558.9" y2="1015.9" stroke="#333" stroke-width="0.9900000000000001" />
<text x="558.9" y="1024.64" font-size="9.2" text-anchor="middle" font-weight="normal" fill="#111" >0</text>
<line x1="598.1" y1="1013.5" x2="598.1" y2="1015.9" stroke="#333" stroke-width="0.9900000000000001" />
<text x="598.1" y="1024.64" font-size="9.2" text-anchor="middle" font-weight="normal" fill="#111" >5</text>
<line x1="637.3" y1="1013.5" x2="637.3" y2="1015.9" stroke="#333" stroke-width="0.9900000000000001" />
<text x="637.3" y="1024.64" font-size="9.2" text-anchor="middle" font-weight="normal" fill="#111" >10</text>
<text x="589" y="1035.6" font-size="9.3" text-anchor="middle" font-weight="normal" fill="#111" >UMAP_1</text>
<text x="0" y="0" font-size="9.3" text-anchor="middle" font-weight="normal" fill="#111" transform="translate(485 921.15) rotate(-90)">UMAP_2</text>
<path d="M627.5 854 L632 852 L636 851.2 L641 852.5 L646.9 855 L646 861 L643 866 L636 868 L633 873.5 L631.5 868 L628 866 L627.2 860Z" fill="#B4B436" />
<path d="M626.59 841.72h0M624.07 843.9h0M630.58 843.99h0M626.11 839.2h0M624.44 839.16h0M624.19 842.15h0" stroke="#B4B436" stroke-width="1.1" stroke-linecap="round"/>
<circle cx="660.5" cy="838.9" r="0.7" fill="#8DD0F2"/>
<path d="M598.5 896.5 L604 894 L610 894.5 L616 893 L620.8 891" fill="none" stroke="#A8605E" stroke-width="1.6" stroke-linecap="round" stroke-linejoin="round"/>
<path d="M638.8 914.9 L647.3 913.8 L655.8 917 L663.2 914.9 L666.4 920.2 L664.3 927.6 L657.9 936.1 L653.7 944.6 L650.5 953.1 L649.4 961.6 L645.2 962.6 L638.8 958.4 L639.9 951 L643.1 942.5 L641 934 L636.3 927.6 L635.6 920.2Z" fill="#9D63AD" />
<ellipse cx="610.2" cy="944" rx="5" ry="3.6" fill="none" stroke="#E8392E" stroke-width="2"/>
<path d="M618 941 L619.5 939.6" fill="none" stroke="#3C9A4A" stroke-width="1.4" stroke-linecap="round" stroke-linejoin="round"/>
<path d="M563.5 987 L570 988.5 L576 989 L583.7 987 L584.3 981.1 L585.8 989.1 L589.6 997.6 L585.8 1005.1 L575.2 1005.7 L566.7 999.8 L564.1 993.4Z" fill="#BD5D2A" />
<path d="M571.83 937.44h0M575.98 942.04h0M575.2 936.97h0M568.35 941.28h0M574.97 935.19h0M577.45 938.52h0M576.67 933.25h0M569.14 935.66h0M567.65 935.17h0M567.72 939.26h0M569.17 937.49h0M578.32 934.07h0M561.59 938.43h0M580.13 935.37h0M576.98 939.29h0M580.45 933.08h0M561.48 936.41h0M566.86 937.26h0M577.76 935.85h0M578.84 934.07h0M564.62 940.46h0M567.04 941.14h0M574.67 943h0M565.36 940.68h0M571.55 939.26h0M572.91 943.32h0M566.66 939.01h0M563.96 936h0M563.84 939.62h0M568.97 943.98h0M577.93 937.13h0M572.27 937.29h0M573.33 936.73h0M560.94 937.15h0M572.72 932.84h0M575.43 941.35h0M567.05 937.15h0M571.5 934.71h0M562.72 936.01h0M568.45 942.26h0M565.31 934.18h0M573.54 934.09h0M575.82 940.02h0M571.96 934.01h0M565.48 942.25h0M571.7 940.2h0M572.7 939.69h0M574.35 941.02h0M566.5 944.76h0M569.29 933.4h0M566.16 939.17h0M563.17 941.17h0M572.02 940.69h0M570.64 943.23h0M575.14 939.44h0M576.14 941.46h0M568.52 936.56h0M574.97 938.88h0M574.78 942.49h0M567.36 942.99h0M565.43 937.82h0M571.05 942.9h0M576.15 939.47h0M576.02 937.59h0M569.85 936.61h0M571.65 939.48h0M575.18 936.02h0M565.64 934.56h0M570.93 937.66h0M574.32 940.38h0M570.66 943.39h0M575.34 941.41h0M570.5 941.12h0M576.56 933.57h0M579 938.62h0M572.59 938.1h0M565.42 936.78h0M580.48 933h0M570.15 935.99h0M573.54 935.1h0M566.83 934.28h0M564.91 944.9h0M577.61 934.86h0M562.48 940.43h0M567.06 934.85h0M565.02 939.43h0M573.08 937.16h0M564.78 939.78h0M573.03 937.88h0M570.86 940.73h0M580.82 933.35h0M568.97 941.31h0M576.79 933.17h0M565.29 934.16h0M568.96 942.49h0M578.08 935.99h0M579.4 936.91h0M578.58 934.07h0M579.88 932.43h0M578.86 937.62h0M577.39 933.4h0M565.01 935.87h0M571.79 939.8h0M580.37 932.5h0M572.59 939.9h0M575.14 933.37h0M572.75 934.34h0M565.89 945.97h0M577.75 932.12h0M577.33 941.44h0" stroke="#A8605E" stroke-width="1.2" stroke-linecap="round"/>
<path d="M545.35 935.07h0M562.98 933.67h0M564.38 934.57h0M560.11 924.88h0M534.84 926.67h0M549.84 932.36h0M562.29 932.74h0M563.26 924.88h0M556.78 945.13h0M542.2 925.39h0M577.77 927.21h0M575.26 926.05h0M538.54 938.86h0M533.23 944.67h0M556.66 944.04h0M558.2 942.09h0M542.99 947.17h0M540.58 931.94h0M577.8 931.35h0M531.66 942.44h0M533.57 931.96h0M549.28 934.64h0M578.38 936.64h0M546.62 931.12h0M544.05 931.86h0M558.29 943.47h0M583.64 936.19h0M561.95 921.07h0M534.78 942.57h0M540.27 941.62h0M576.26 932.12h0M570.16 938.07h0M566.37 938.09h0M567.92 923.28h0M589.7 924.99h0M536.3 926.11h0M551.79 943.62h0M534.81 932.02h0M563.1 927.27h0M546.56 934.14h0M557.19 923.81h0M558.73 930.38h0M567.44 920.28h0M550.77 920.37h0M564.94 934.69h0M577.18 939.5h0M560.18 939.29h0M547.81 935.91h0M551.95 933.42h0M540.45 937.56h0M535.52 930.6h0M578.21 934.45h0M575.97 929.15h0M574.99 934.42h0M550.29 947.21h0M550.74 949.73h0M572.98 924.41h0M567.52 940.07h0M564.57 941.25h0M552.43 943.33h0M565.08 944.63h0M575.21 938.52h0M560.94 925.65h0M533.84 934.64h0M558.7 930.65h0M558.79 947.26h0M536.3 925.21h0M540.87 944.49h0M530.01 931.3h0M567 931.48h0M580.97 925.29h0M537.41 932.87h0M544.75 943.18h0M570.58 921.82h0M587.41 926.27h0M538.87 927.97h0M554.85 923.41h0M571.74 935.24h0M561.93 941.89h0M548.08 931.98h0M587.65 927.74h0M528.79 931.45h0M579.85 938.58h0M556.67 919.08h0M547.04 943.84h0M563.27 928.51h0M532.04 928.35h0M568.15 938.85h0M585.34 938.27h0M547.52 921.98h0" stroke="#A8605E" stroke-width="1.2" stroke-linecap="round"/>
<path d="M572.33 911.91h0M561.87 921.64h0M573.74 907.49h0M564.39 910.33h0M573.56 910.04h0M561.95 911.57h0M564.33 923.74h0M563.98 905.27h0M566.77 917.88h0M569.6 907.01h0M556.39 916.64h0M569.17 911.35h0M563.52 916.83h0M567.37 919.06h0M564.17 910.5h0M567.85 904.16h0M571.92 901.41h0M568.55 905.77h0M569.21 906.29h0M569.65 906.63h0" stroke="#A8605E" stroke-width="1.2" stroke-linecap="round"/>
<circle cx="513" cy="927" r="0.6" fill="#A8605E"/><circle cx="522" cy="934" r="0.6" fill="#A8605E"/>
<circle cx="568" cy="898.5" r="0.8" fill="#F6C282"/>
<path d="M624 962 L625 965" fill="none" stroke="#BD5D2A" stroke-width="1" stroke-linecap="round" stroke-linejoin="round"/>
<circle cx="689.4" cy="891.7" r="2.7" fill="#3C9A4A"/>
<text x="696.2" y="895" font-size="9.3" text-anchor="start" font-weight="normal" fill="#111" >BCells</text>
<circle cx="689.4" cy="903.05" r="2.7" fill="#E8392E"/>
<text x="696.2" y="906.35" font-size="9.3" text-anchor="start" font-weight="normal" fill="#111" >Plasma</text>
<circle cx="689.4" cy="914.4" r="2.7" fill="#9D63AD"/>
<text x="696.2" y="917.7" font-size="9.3" text-anchor="start" font-weight="normal" fill="#111" >TCells</text>
<circle cx="689.4" cy="925.75" r="2.7" fill="#A8605E"/>
<text x="696.2" y="929.05" font-size="9.3" text-anchor="start" font-weight="normal" fill="#111" >Neu</text>
<circle cx="689.4" cy="937.1" r="2.7" fill="#EE8BC0"/>
<text x="696.2" y="940.4" font-size="9.3" text-anchor="start" font-weight="normal" fill="#111" >Baso</text>
<circle cx="689.4" cy="948.45" r="2.7" fill="#B4B436"/>
<text x="696.2" y="951.75" font-size="9.3" text-anchor="start" font-weight="normal" fill="#111" >MPs</text>
<circle cx="689.4" cy="959.8" r="2.7" fill="#8DD0F2"/>
<text x="696.2" y="963.1" font-size="9.3" text-anchor="start" font-weight="normal" fill="#111" >pDCs</text>
<circle cx="689.4" cy="971.15" r="2.7" fill="#F6C282"/>
<text x="696.2" y="974.45" font-size="9.3" text-anchor="start" font-weight="normal" fill="#111" >Plate</text>
<circle cx="689.4" cy="982.5" r="2.7" fill="#BD5D2A"/>
<text x="696.2" y="985.8" font-size="9.3" text-anchor="start" font-weight="normal" fill="#111" >Eryth</text>
</svg>
</body></html>
